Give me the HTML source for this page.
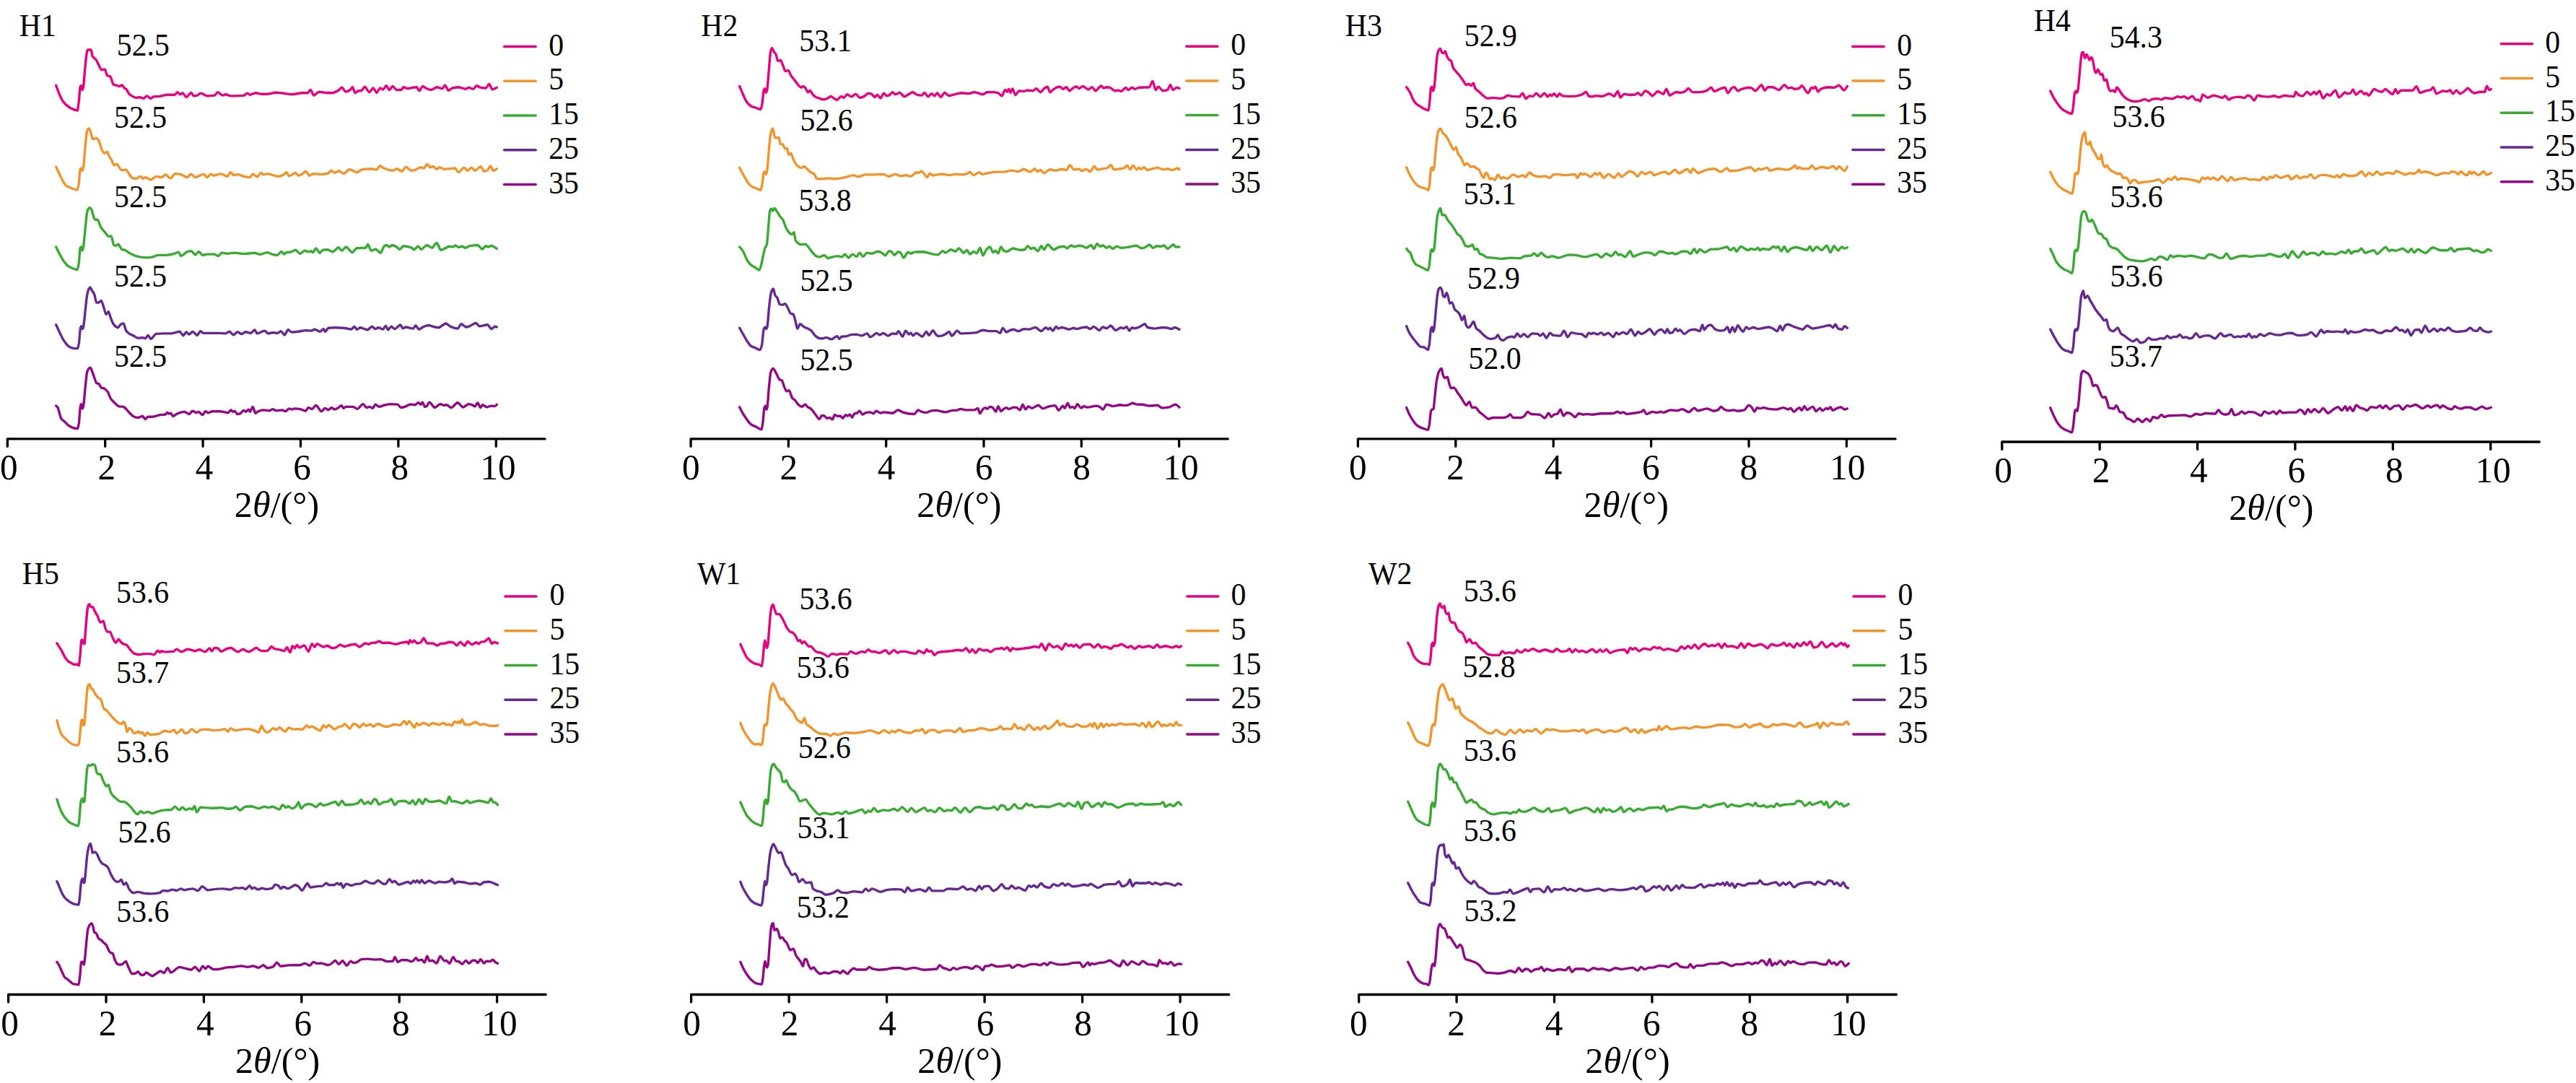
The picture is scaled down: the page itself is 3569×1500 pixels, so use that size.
<!DOCTYPE html>
<html><head><meta charset="utf-8"><title>XRD patterns</title>
<style>html,body{margin:0;padding:0;background:#fff}svg{display:block}text{font-family:"Liberation Serif",serif;fill:#000}.c{fill:none;stroke-linejoin:round;stroke-linecap:round;stroke-width:3.4}.a{fill:none;stroke:#000;stroke-width:3.3;stroke-linecap:round;stroke-linejoin:round}.l{stroke-width:3.5;stroke-linecap:round}.s{font-size:44px}.t{font-size:51px}</style></head><body>
<svg width="3569" height="1500" viewBox="0 0 3569 1500">
<rect width="3569" height="1500" fill="#fff"/>
<g id="H1">
<path class="a" d="M10.3 618.3V607.9H755.0M145.7 607.9v10.4M281.1 607.9v10.4M416.5 607.9v10.4M551.9 607.9v10.4M687.3 607.9v10.4"/>
<text class="t" transform="translate(12.3 664.1) scale(0.965 1)" text-anchor="middle">0</text>
<text class="t" transform="translate(147.7 664.1) scale(0.965 1)" text-anchor="middle">2</text>
<text class="t" transform="translate(283.1 664.1) scale(0.965 1)" text-anchor="middle">4</text>
<text class="t" transform="translate(418.5 664.1) scale(0.965 1)" text-anchor="middle">6</text>
<text class="t" transform="translate(553.9 664.1) scale(0.965 1)" text-anchor="middle">8</text>
<text class="t" transform="translate(690.0 664.1) scale(0.965 1)" text-anchor="middle">10</text>
<text class="t" transform="translate(383.5 716.2) scale(0.985 1)" text-anchor="middle">2<tspan font-style="italic">θ</tspan>/(°)</text>
<text class="s" transform="translate(26.8 50.0) scale(0.95 1)">H1</text>
<path class="l" d="M698.6 64.6H742.2" stroke="#E4007F"/>
<text class="s" transform="translate(760.2 76.7) scale(0.95 1)">0</text>
<path class="l" d="M698.6 112.3H742.2" stroke="#F0942C"/>
<text class="s" transform="translate(760.2 124.4) scale(0.95 1)">5</text>
<path class="l" d="M698.6 160.0H742.2" stroke="#3AAA35"/>
<text class="s" transform="translate(760.2 172.1) scale(0.95 1)">15</text>
<path class="l" d="M698.6 207.8H742.2" stroke="#65298F"/>
<text class="s" transform="translate(760.2 219.9) scale(0.95 1)">25</text>
<path class="l" d="M698.6 255.5H742.2" stroke="#920783"/>
<text class="s" transform="translate(760.2 267.6) scale(0.95 1)">35</text>
<path class="c" d="M77.7 118.2C78.9 121.7 80.2 125.1 81.4 128.3C82.7 131.4 84.0 134.6 85.2 137.1C86.9 140.2 88.6 142.0 90.3 144.0C92.8 146.6 95.3 148.2 97.8 149.8C101.0 151.5 104.2 152.8 107.4 153.0C108.0 152.2 108.6 145.7 109.2 140.9C109.9 135.0 110.5 122.9 111.2 120.2C111.6 119.3 112.1 118.8 112.5 118.7C113.0 119.1 113.5 124.1 114.0 124.5C114.5 124.2 115.0 122.8 115.5 120.2C116.2 115.7 116.9 105.1 117.5 98.0C118.4 89.5 119.2 79.4 120.1 74.1C120.6 71.1 121.2 69.4 121.8 69.0C123.3 69.0 124.7 69.0 126.1 69.0C126.8 69.6 127.5 76.2 128.1 77.8C129.0 79.4 129.8 79.5 130.7 80.4C131.5 81.2 132.3 81.8 133.2 82.9C134.4 84.8 135.7 88.1 137.0 90.5C138.2 92.7 139.5 96.4 140.7 96.8C142.3 96.7 143.8 96.1 145.3 96.0C146.3 96.6 147.3 103.2 148.3 104.3C149.8 105.4 151.3 105.1 152.9 106.1C154.3 107.7 155.7 115.5 157.1 117.0C158.4 117.7 159.7 117.8 160.9 118.2C162.6 118.7 164.3 119.4 166.0 119.5C167.0 119.4 168.0 117.8 169.0 117.7C170.1 118.0 171.2 121.0 172.3 122.0C173.1 122.7 174.0 122.5 174.8 123.3C176.1 124.7 177.3 127.9 178.6 129.6C180.3 131.5 182.0 132.3 183.6 133.4C185.3 134.3 187.0 135.2 188.7 135.4C190.4 135.3 192.1 134.7 193.7 134.6C195.4 134.7 197.1 136.3 198.8 136.4C200.3 136.2 201.8 133.1 203.3 132.9C205.2 133.1 207.0 136.2 208.9 136.4C210.1 136.2 211.4 134.2 212.7 133.9C215.6 133.6 218.5 133.7 221.5 133.4C224.9 132.9 228.2 131.5 231.6 131.3C234.9 131.3 238.3 131.3 241.7 131.3C243.2 131.1 244.7 128.0 246.2 127.8C247.2 128.0 248.2 130.6 249.2 130.8C250.5 130.7 251.8 129.0 253.0 128.8C254.7 129.2 256.4 134.2 258.1 134.6C260.3 134.2 262.6 128.7 264.9 128.3C266.0 128.6 267.1 132.6 268.2 132.9C269.9 132.8 271.5 132.6 273.2 132.1C274.9 131.5 276.6 129.3 278.3 129.1C281.2 129.3 284.2 132.6 287.1 132.9C290.5 132.8 293.8 132.6 297.2 132.1C298.7 131.6 300.2 128.1 301.7 127.8C304.0 128.1 306.3 131.8 308.5 132.1C309.8 132.0 311.1 130.9 312.3 130.8C314.9 131.0 317.4 132.7 319.9 132.9C325.8 132.8 331.7 132.7 337.6 132.4C339.2 132.1 340.9 129.3 342.6 129.1C343.9 129.2 345.1 131.2 346.4 131.3C348.9 131.2 351.4 129.0 354.0 128.8C356.9 128.9 359.9 130.2 362.8 130.3C365.3 130.3 367.8 130.3 370.4 130.3C374.1 130.2 377.9 128.4 381.7 128.3C386.3 128.4 391.0 129.0 395.6 129.6C398.5 129.9 401.5 130.8 404.4 130.8C409.1 130.7 413.7 129.0 418.3 128.8C420.8 128.8 423.4 128.8 425.9 128.8C427.4 128.5 428.9 124.8 430.4 124.5C431.8 125.0 433.3 131.6 434.7 132.1C437.2 131.8 439.8 127.4 442.3 127.1C444.8 127.1 447.3 128.0 449.8 128.3C453.2 128.6 456.6 128.8 459.9 128.8C462.9 128.6 465.8 127.1 468.8 125.3C470.5 124.1 472.1 121.5 473.8 121.2C475.5 121.6 477.2 126.7 478.9 127.1C481.0 126.9 483.1 126.0 485.2 124.5C486.3 123.6 487.4 121.0 488.5 120.7C489.6 121.3 490.8 128.3 492.0 128.8C493.5 128.6 495.0 126.0 496.5 125.8C497.8 125.8 499.1 125.8 500.3 125.8C502.0 125.4 503.7 120.6 505.4 120.2C507.5 120.7 509.6 127.3 511.7 127.8C513.5 127.4 515.4 122.4 517.2 122.0C518.7 122.4 520.2 127.9 521.8 128.3C523.4 127.9 525.1 122.4 526.8 122.0C528.1 122.1 529.3 123.9 530.6 124.0C532.1 123.7 533.6 119.1 535.1 118.7C536.6 119.1 538.0 124.1 539.4 124.5C540.9 124.2 542.5 119.8 544.0 119.5C545.8 119.8 547.7 124.2 549.5 124.5C551.6 124.5 553.7 124.5 555.8 124.5C556.9 124.3 558.0 121.0 559.1 120.7C561.0 120.9 562.8 122.6 564.7 122.8C567.2 122.7 569.7 121.6 572.2 121.2C573.9 121.0 575.6 120.8 577.3 120.7C578.5 121.1 579.8 125.5 581.1 125.8C582.6 125.4 584.1 119.9 585.6 119.5C587.0 119.7 588.5 121.3 589.9 122.0C592.4 123.2 594.9 124.4 597.5 124.5C600.0 124.3 602.5 121.0 605.0 120.7C607.6 120.9 610.1 122.6 612.6 122.8C613.9 122.5 615.1 118.5 616.4 118.2C618.1 118.7 619.8 124.8 621.4 125.3C623.1 125.1 624.8 122.6 626.5 122.0C629.4 121.2 632.4 120.8 635.3 120.7C638.7 120.9 642.0 123.1 645.4 123.3C646.7 123.1 647.9 121.4 649.2 121.2C651.3 121.4 653.4 123.1 655.5 123.3C657.2 123.0 658.9 119.0 660.5 118.7C662.2 118.9 663.9 120.8 665.6 121.2C668.1 121.7 670.6 122.0 673.2 122.0C674.7 121.6 676.2 116.8 677.7 116.5C679.1 116.9 680.6 123.3 682.0 123.8C684.1 123.6 686.2 122.4 688.3 121.2" stroke="#E4007F"/>
<path class="c" d="M77.7 231.3C79.3 234.8 81.0 238.4 82.7 241.9C84.4 245.3 86.1 249.1 87.8 252.0C89.0 253.9 90.3 255.7 91.5 257.0C93.6 258.8 95.7 259.1 97.8 260.0C100.8 261.2 103.7 262.9 106.7 263.1C107.5 262.5 108.4 259.6 109.2 254.5C109.9 249.5 110.5 236.7 111.2 234.3C111.6 233.5 112.1 233.1 112.5 233.0C113.0 233.3 113.5 236.1 114.0 236.3C114.5 236.0 115.0 234.5 115.5 231.8C116.4 225.9 117.2 212.6 118.0 204.0C118.9 195.8 119.7 184.6 120.6 181.3C121.4 179.3 122.2 178.2 123.1 178.0C123.8 178.2 124.4 179.9 125.1 181.3C126.3 184.1 127.5 191.9 128.6 192.7C130.1 192.6 131.7 191.5 133.2 191.4C134.4 191.6 135.7 192.9 137.0 195.2C138.2 198.0 139.5 203.5 140.7 206.5C142.0 209.2 143.3 212.0 144.5 212.3C145.8 212.2 147.1 210.5 148.3 210.3C149.6 210.8 150.8 215.7 152.1 217.9C152.9 219.3 153.8 220.2 154.6 221.7C155.7 223.7 156.8 228.3 157.9 228.7C159.1 228.6 160.3 227.3 161.4 227.2C163.8 227.8 166.1 235.0 168.5 235.6C170.6 235.5 172.7 235.1 174.8 235.1C176.1 235.4 177.3 238.8 178.6 240.6C180.1 242.7 181.6 245.6 183.1 246.4C185.0 247.0 186.8 247.3 188.7 247.4C190.8 247.2 192.9 244.6 195.0 244.4C196.1 244.6 197.2 247.2 198.3 247.4C199.3 247.3 200.3 245.8 201.3 245.6C203.8 245.9 206.4 248.7 208.9 248.9C211.4 248.6 213.9 244.7 216.4 244.4C219.0 244.5 221.5 245.6 224.0 245.6C225.7 245.4 227.4 242.1 229.1 241.9C231.6 242.2 234.1 246.6 236.6 246.9C238.5 246.5 240.3 241.0 242.2 240.6C244.5 240.6 246.9 240.8 249.2 241.1C252.6 241.8 256.0 245.3 259.3 245.6C261.0 245.3 262.7 241.4 264.4 241.1C266.5 241.4 268.6 245.3 270.7 245.6C274.5 245.3 278.3 241.4 282.0 241.1C283.7 241.4 285.4 245.3 287.1 245.6C288.8 245.3 290.5 241.4 292.1 241.1C293.4 241.2 294.7 243.0 295.9 243.1C299.3 243.0 302.7 240.8 306.0 240.6C309.0 240.9 311.9 244.1 314.9 244.4C316.4 244.0 317.9 239.0 319.4 238.6C320.8 238.9 322.3 242.4 323.7 242.6C325.8 242.5 327.9 241.4 330.0 241.4C332.5 241.6 335.0 243.6 337.6 244.4C340.5 245.1 343.4 245.6 346.4 245.6C347.7 245.3 348.9 241.4 350.2 241.1C352.3 241.4 354.4 244.6 356.5 244.9C358.2 244.5 359.9 239.7 361.5 239.3C362.8 239.5 364.1 241.7 365.3 241.9C367.0 241.8 368.7 240.7 370.4 240.6C375.4 240.9 380.5 244.1 385.5 244.4C388.0 244.2 390.6 243.4 393.1 241.9C394.3 241.0 395.6 238.8 396.9 238.6C398.1 238.9 399.4 243.5 400.6 243.9C403.6 243.6 406.5 239.6 409.5 239.3C410.7 239.6 412.0 242.9 413.3 243.1C414.9 243.0 416.6 242.2 418.3 241.4C420.2 240.3 422.0 237.6 423.9 237.3C425.4 237.7 426.9 242.7 428.4 243.1C430.1 243.0 431.8 240.8 433.4 240.6C437.7 240.7 441.9 241.3 446.1 241.4C449.0 241.3 452.0 240.8 454.9 239.8C456.2 239.3 457.4 236.5 458.7 236.3C460.4 236.5 462.0 239.1 463.7 239.3C465.8 239.2 467.9 237.0 470.0 236.8C472.1 237.1 474.2 240.3 476.3 240.6C478.9 240.2 481.4 235.2 483.9 234.8C485.6 234.9 487.3 235.7 489.0 236.3C490.6 237.0 492.3 238.7 494.0 238.8C496.5 238.6 499.1 235.4 501.6 234.8C505.8 234.2 510.0 233.9 514.2 233.8C516.7 233.9 519.2 235.0 521.8 235.1C523.3 234.7 524.8 230.1 526.3 229.8C528.2 230.0 530.0 232.1 531.9 233.0C536.1 234.9 540.3 236.1 544.5 236.3C546.2 236.1 547.8 234.0 549.5 233.8C552.0 234.0 554.6 237.1 557.1 237.3C558.8 236.9 560.5 231.7 562.1 231.3C564.7 231.6 567.2 236.0 569.7 236.3C571.4 236.3 573.1 236.0 574.8 235.6C577.3 234.7 579.8 232.0 582.3 231.8C584.0 231.9 585.7 232.9 587.4 233.0C588.8 232.7 590.2 227.9 591.7 227.5C593.2 227.8 594.7 231.5 596.2 231.8C597.5 231.7 598.7 230.6 600.0 230.5C601.7 230.8 603.3 234.0 605.0 234.3C606.3 234.1 607.6 231.9 608.8 231.8C610.9 231.9 613.0 234.1 615.1 234.3C620.2 234.2 625.2 233.1 630.3 233.0C631.9 233.4 633.6 238.2 635.3 238.6C637.8 238.2 640.4 232.7 642.9 232.3C644.6 232.5 646.2 236.0 647.9 236.3C649.6 236.0 651.3 232.5 653.0 232.3C654.7 232.5 656.3 236.0 658.0 236.3C660.7 235.9 663.4 230.9 666.1 230.5C667.6 231.0 669.1 236.9 670.6 237.3C672.3 237.2 674.0 236.6 675.7 235.6C676.9 234.5 678.2 230.1 679.5 229.8C680.7 230.2 682.0 235.9 683.3 236.3C684.9 236.1 686.6 235.0 688.3 233.8" stroke="#F0942C"/>
<path class="c" d="M77.7 342.0C79.3 345.5 81.0 348.9 82.7 352.1C84.4 355.2 86.1 358.3 87.8 360.9C89.4 363.4 91.1 365.5 92.8 367.2C94.9 369.1 97.0 370.0 99.1 371.0C101.6 372.2 104.2 373.4 106.7 373.5C107.5 373.0 108.4 370.0 109.2 364.7C109.9 359.5 110.5 345.8 111.2 343.3C111.6 342.5 112.1 342.1 112.5 342.0C113.0 342.3 113.5 346.7 114.0 347.1C114.5 346.7 115.0 344.6 115.5 342.0C116.4 336.6 117.2 326.0 118.0 318.0C118.9 310.0 119.7 299.0 120.6 294.1C121.2 291.0 121.9 290.1 122.6 289.0C123.2 288.3 123.8 287.8 124.3 287.8C125.2 287.9 126.0 288.8 126.9 290.3C128.0 292.8 129.1 299.0 130.1 301.6C130.7 302.8 131.3 304.0 131.9 304.2C133.0 304.2 134.1 304.2 135.2 304.2C136.6 304.8 138.1 311.5 139.5 314.3C141.2 317.2 142.8 318.5 144.5 320.6C146.6 323.0 148.7 327.2 150.8 327.6C151.8 327.6 152.9 326.9 153.9 326.9C155.2 327.7 156.6 338.1 157.9 339.5C158.9 339.9 159.9 340.2 160.9 340.2C161.9 340.1 163.0 338.4 164.0 338.2C165.5 338.7 167.0 344.2 168.5 345.3C170.2 346.0 171.9 345.9 173.5 346.5C175.7 347.6 177.8 349.6 179.9 350.8C182.0 352.0 184.1 353.0 186.2 353.9C188.7 354.8 191.2 355.4 193.7 355.9C197.1 356.5 200.5 356.8 203.8 356.9C206.4 356.8 208.9 356.4 211.4 355.9C213.9 355.2 216.4 353.5 219.0 353.4C222.3 353.4 225.7 353.4 229.1 353.4C233.3 353.2 237.5 352.6 241.7 351.3C243.5 350.7 245.4 349.2 247.2 349.1C248.3 349.4 249.4 354.3 250.5 354.6C253.5 354.2 256.4 350.1 259.3 348.8C261.2 348.2 263.0 347.6 264.9 347.6C266.8 347.9 268.8 352.5 270.7 352.9C272.2 352.6 273.7 348.6 275.2 348.3C277.1 348.7 278.9 353.0 280.8 353.4C282.9 353.3 285.0 352.2 287.1 352.1C290.5 352.1 293.8 352.1 297.2 352.1C298.9 352.3 300.6 354.5 302.2 354.6C303.9 354.3 305.6 350.4 307.3 350.1C309.8 350.2 312.3 351.3 314.9 351.3C318.2 351.3 321.6 350.2 324.9 350.1C329.2 350.2 333.4 351.5 337.6 351.6C342.6 351.5 347.7 350.4 352.7 350.3C355.2 350.5 357.7 352.2 360.3 352.4C363.6 352.2 367.0 349.8 370.4 349.6C372.5 349.7 374.6 351.4 376.7 352.1C379.2 352.8 381.7 353.3 384.2 353.4C386.2 353.0 388.1 348.7 390.0 348.3C391.2 348.6 392.4 351.8 393.6 352.1C394.7 351.9 395.8 350.0 396.9 349.6C399.0 349.1 401.1 349.3 403.2 348.8C405.3 348.2 407.4 346.5 409.5 346.3C411.6 346.6 413.7 351.0 415.8 351.3C417.9 351.1 420.0 347.3 422.1 347.1C423.8 347.2 425.5 348.7 427.1 348.8C428.4 348.8 429.7 347.9 430.9 347.8C431.8 347.9 432.6 349.7 433.4 349.8C434.9 349.4 436.3 344.2 437.7 343.8C439.5 344.2 441.3 349.9 443.0 350.3C444.5 350.1 445.9 346.7 447.3 346.3C449.4 346.0 451.5 345.8 453.6 345.8C456.2 346.0 458.7 348.6 461.2 348.8C463.7 348.4 466.2 343.2 468.8 342.8C470.5 343.0 472.1 346.8 473.8 347.1C475.7 346.7 477.5 342.3 479.4 342.0C482.3 342.5 485.3 349.1 488.2 349.6C490.1 349.2 492.1 344.3 494.0 343.8C498.2 343.5 502.4 343.6 506.6 343.3C507.6 342.9 508.6 339.0 509.7 338.7C511.2 339.3 512.7 346.5 514.2 347.1C516.3 346.9 518.4 345.4 520.5 345.3C522.8 345.6 525.0 350.0 527.3 350.3C529.0 349.7 530.7 342.4 532.4 340.7C533.5 340.0 534.5 339.6 535.6 339.5C536.9 339.7 538.2 341.8 539.4 342.0C540.7 341.8 541.9 339.7 543.2 339.5C545.3 339.7 547.4 340.8 549.5 342.0C550.9 342.9 552.4 345.1 553.8 345.3C555.6 345.0 557.3 341.0 559.1 340.7C562.6 340.9 566.2 341.6 569.7 342.8C571.0 343.4 572.2 345.6 573.5 345.8C575.4 345.5 577.4 341.6 579.3 341.2C580.7 341.5 582.2 345.0 583.6 345.3C586.3 344.9 589.0 339.9 591.7 339.5C594.0 339.7 596.4 343.0 598.7 343.3C600.8 342.8 602.9 336.9 605.0 336.5C607.0 337.1 608.9 345.6 610.8 346.3C614.8 346.0 618.7 341.6 622.7 341.2C624.4 341.3 626.1 342.0 627.7 342.0C628.8 341.9 629.8 340.1 630.8 340.0C632.3 340.2 633.8 342.3 635.3 342.5C637.0 342.4 638.7 341.3 640.4 341.2C641.9 341.4 643.4 343.1 644.9 343.3C646.7 343.1 648.6 341.2 650.5 340.7C654.2 340.0 658.0 339.6 661.8 339.5C663.9 339.9 666.0 344.7 668.1 345.0C669.8 344.7 671.5 341.0 673.2 340.7C674.4 340.8 675.7 341.9 676.9 342.0C678.2 341.9 679.5 340.4 680.7 340.2C682.0 340.4 683.3 341.3 684.5 342.0C685.8 342.7 687.0 343.6 688.3 344.5" stroke="#3AAA35"/>
<path class="c" d="M77.7 449.8C79.3 453.4 81.0 457.1 82.7 460.6C84.4 464.1 86.1 467.8 87.8 470.7C89.4 473.4 91.1 475.6 92.8 477.5C94.5 479.2 96.2 480.4 97.8 481.3C99.5 482.0 101.2 482.5 102.9 482.6C104.4 482.6 105.9 482.6 107.4 482.6C108.1 482.0 108.8 478.8 109.5 474.5C110.1 469.4 110.8 457.8 111.5 454.3C111.9 452.8 112.3 451.9 112.7 451.8C113.2 452.0 113.7 455.3 114.3 455.6C114.8 455.3 115.3 454.0 115.8 451.8C116.5 447.4 117.3 438.3 118.0 431.6C118.9 424.1 119.7 414.6 120.6 408.9C121.4 404.1 122.2 402.1 123.1 400.0C123.7 398.9 124.3 398.2 124.8 398.0C125.8 398.3 126.7 401.0 127.6 402.6C128.6 404.2 129.6 405.1 130.7 407.6C131.7 410.6 132.7 418.2 133.7 419.0C134.8 419.0 135.9 419.0 137.0 419.0C138.1 418.8 139.1 416.6 140.2 416.4C141.2 416.9 142.3 421.3 143.3 424.0C144.5 427.5 145.8 434.6 147.1 435.4C148.1 435.1 149.2 431.8 150.3 431.6C151.3 432.2 152.4 437.7 153.4 440.4C154.6 443.6 155.9 446.6 157.1 448.7C159.2 451.8 161.4 453.5 163.5 453.8C164.7 453.5 166.0 450.2 167.2 449.2C168.5 448.5 169.8 448.1 171.0 448.0C172.3 448.7 173.5 455.6 174.8 458.1C176.5 460.8 178.2 461.4 179.9 462.6C181.5 463.7 183.2 464.1 184.9 464.9C187.0 465.9 189.1 468.0 191.2 468.2C193.3 468.1 195.4 467.7 197.5 467.7C198.8 467.7 200.0 468.6 201.3 468.7C202.6 468.4 203.8 464.7 205.1 464.4C206.4 464.7 207.6 469.1 208.9 469.4C211.4 469.0 213.9 463.0 216.4 462.4C219.8 462.1 223.2 461.9 226.5 461.9C229.9 461.9 233.3 461.9 236.6 461.9C240.8 461.7 245.0 459.5 249.2 459.3C250.8 459.7 252.3 464.5 253.8 464.9C255.2 464.6 256.6 460.2 258.1 459.8C259.3 460.1 260.6 462.9 261.9 463.1C263.5 462.9 265.2 459.6 266.9 459.3C267.8 459.5 268.6 460.5 269.4 461.1C270.7 462.1 272.0 464.2 273.2 464.4C274.6 464.0 276.1 459.2 277.5 458.8C279.0 459.0 280.5 461.2 282.0 461.4C288.8 461.4 295.5 461.4 302.2 461.4C305.6 461.4 309.0 461.8 312.3 461.9C314.2 461.7 316.0 459.5 317.9 459.3C319.8 459.6 321.7 463.6 323.7 463.9C325.4 463.6 327.0 460.1 328.7 459.8C330.8 460.0 332.9 462.4 335.0 462.6C336.7 462.4 338.4 460.0 340.1 459.8C342.6 459.9 345.1 461.3 347.7 461.4C349.3 461.1 351.0 457.1 352.7 456.8C354.0 457.2 355.2 461.5 356.5 461.9C359.9 461.6 363.2 458.3 366.6 458.1C368.3 458.3 369.9 461.6 371.6 461.9C373.7 461.8 375.8 460.7 377.9 460.6C380.0 460.7 382.1 461.3 384.2 461.4C385.9 461.2 387.6 459.0 389.3 458.8C391.0 459.2 392.7 463.5 394.3 463.9C395.9 463.4 397.4 457.3 398.9 456.8C400.7 457.0 402.6 459.9 404.4 460.1C407.4 460.0 410.3 459.7 413.3 459.3C416.6 458.9 420.0 457.7 423.4 457.6C425.9 457.6 428.4 458.0 430.9 458.1C432.6 458.0 434.3 456.4 436.0 456.3C438.5 456.5 441.0 459.1 443.5 459.3C445.1 459.1 446.6 455.8 448.1 455.6C448.9 455.8 449.8 459.1 450.6 459.3C452.0 459.0 453.5 454.8 454.9 454.3C457.8 454.0 460.8 453.8 463.7 453.8C467.9 453.8 472.1 454.0 476.3 454.3C479.7 454.6 483.1 455.9 486.4 456.1C488.0 455.8 489.5 452.8 491.0 452.5C492.2 452.8 493.3 456.1 494.5 456.3C496.0 456.1 497.5 454.0 499.1 453.8C502.4 454.0 505.8 456.6 509.1 456.8C511.2 456.5 513.4 452.6 515.5 452.3C516.9 452.5 518.3 455.3 519.7 455.6C521.3 455.4 522.8 453.9 524.3 453.8C526.4 453.9 528.5 455.9 530.6 456.1C531.9 455.7 533.1 451.6 534.4 451.3C535.5 451.6 536.6 456.4 537.7 456.8C539.1 456.5 540.5 452.6 541.9 452.3C543.6 452.5 545.3 455.3 547.0 455.6C549.5 455.2 552.0 450.4 554.6 450.0C555.8 450.3 557.1 454.5 558.4 454.8C559.6 454.7 560.9 453.1 562.1 453.0C565.5 453.2 568.9 454.9 572.2 455.1C573.5 454.8 574.8 451.3 576.0 451.0C577.4 451.3 578.9 455.7 580.3 456.1C582.7 455.8 585.0 453.3 587.4 452.3C589.5 451.5 591.6 450.6 593.7 450.5C596.6 450.7 599.6 452.4 602.5 453.0C604.2 453.4 605.9 453.7 607.6 453.8C610.9 453.4 614.3 448.4 617.6 448.0C619.8 448.3 621.9 451.1 624.0 452.3C627.3 453.9 630.7 454.9 634.0 455.1C635.7 454.6 637.4 449.2 639.1 448.7C641.2 449.0 643.3 452.7 645.4 453.0C647.1 452.9 648.8 452.3 650.5 451.8C653.4 450.7 656.3 447.8 659.3 447.5C661.0 447.8 662.6 451.5 664.3 451.8C668.1 451.6 671.9 449.9 675.7 449.8C677.4 450.1 679.0 455.2 680.7 455.6C682.4 455.3 684.1 452.5 685.8 452.3C686.6 452.3 687.5 452.7 688.3 453.0" stroke="#65298F"/>
<path class="c" d="M77.7 562.1C78.5 562.6 79.3 563.1 80.2 564.6C81.0 566.6 81.9 570.7 82.7 573.5C83.4 575.6 84.1 578.4 84.7 579.8C86.2 582.0 87.6 582.2 89.0 583.5C90.7 585.1 92.4 587.2 94.1 588.6C96.2 590.2 98.3 591.5 100.4 592.4C102.7 593.1 105.1 593.6 107.4 593.6C108.1 593.1 108.8 589.6 109.5 584.8C110.1 579.1 110.8 565.8 111.5 562.1C111.9 560.6 112.3 559.7 112.7 559.6C113.2 560.0 113.7 565.5 114.3 565.9C114.8 565.5 115.3 563.6 115.8 560.8C116.5 555.7 117.3 545.4 118.0 538.1C118.9 530.2 119.7 519.6 120.6 515.4C121.4 512.4 122.2 511.5 123.1 510.4C123.8 509.6 124.4 509.2 125.1 509.1C125.9 509.4 126.8 512.2 127.6 514.2C128.6 516.7 129.6 520.2 130.7 523.0C131.7 525.7 132.7 529.4 133.7 530.6C134.8 531.3 135.9 531.1 137.0 531.8C138.1 532.8 139.1 536.0 140.2 536.9C141.7 537.6 143.1 537.4 144.5 538.1C146.2 539.3 147.9 540.5 149.6 543.2C150.8 545.5 152.1 549.7 153.4 552.0C154.6 554.0 155.9 555.0 157.1 556.3C159.7 558.8 162.2 562.1 164.7 562.9C166.8 563.2 168.9 563.1 171.0 563.4C173.5 564.2 176.1 568.5 178.6 570.9C180.7 572.9 182.8 575.4 184.9 576.7C187.0 577.8 189.1 578.4 191.2 578.5C193.3 578.4 195.4 576.6 197.5 576.5C198.8 576.8 200.0 580.3 201.3 580.5C202.6 580.3 203.8 577.5 205.1 577.2C207.2 577.2 209.3 577.2 211.4 577.2C214.8 577.1 218.1 575.3 221.5 574.7C224.0 574.3 226.5 574.4 229.1 574.0C229.9 573.7 230.7 571.6 231.6 571.4C232.4 571.5 233.3 572.8 234.1 573.0C234.9 572.9 235.8 572.2 236.6 572.2C237.6 572.5 238.6 576.2 239.7 576.5C241.6 576.2 243.5 573.9 245.5 573.0C248.8 571.5 252.2 570.6 255.6 570.4C257.7 570.6 259.8 573.3 261.9 573.5C263.5 573.2 265.2 569.5 266.9 569.2C268.6 569.3 270.3 571.5 272.0 571.7C273.0 571.6 274.1 570.5 275.2 570.4C277.1 570.7 278.9 574.4 280.8 574.7C282.0 574.4 283.3 570.0 284.6 569.7C285.8 569.8 287.1 571.6 288.4 571.7C290.5 571.6 292.6 569.8 294.7 569.7C298.0 569.7 301.4 569.7 304.8 569.7C308.5 569.8 312.3 571.6 316.1 571.7C317.4 571.4 318.6 568.2 319.9 567.9C320.7 568.1 321.6 570.0 322.4 570.2C323.3 570.1 324.1 569.2 324.9 569.2C326.2 569.5 327.5 573.2 328.7 573.5C330.0 573.4 331.3 573.3 332.5 573.0C334.2 572.3 335.9 568.7 337.6 568.4C338.6 568.5 339.6 570.1 340.6 570.2C341.9 570.0 343.1 567.3 344.4 567.1C345.0 567.3 345.7 570.0 346.4 570.2C347.7 569.7 348.9 563.8 350.2 563.4C351.4 564.0 352.7 571.6 354.0 572.2C355.2 572.0 356.5 570.3 357.7 569.7C360.3 568.6 362.8 568.0 365.3 567.9C367.8 568.0 370.4 568.8 372.9 568.9C374.6 568.8 376.3 566.8 377.9 566.6C379.6 566.8 381.3 568.8 383.0 568.9C385.5 568.8 388.0 568.0 390.6 567.9C392.2 568.0 393.9 569.6 395.6 569.7C397.3 569.4 399.0 566.1 400.6 565.9C401.9 566.0 403.2 567.1 404.4 567.1C405.7 567.1 407.0 566.0 408.2 565.9C410.7 565.9 413.3 566.2 415.8 566.6C418.3 567.2 420.8 569.0 423.4 569.2C424.6 568.9 425.9 564.9 427.1 564.6C428.8 564.8 430.5 566.5 432.2 566.6C434.0 566.3 435.9 561.7 437.7 561.3C440.3 561.9 442.8 569.1 445.3 569.7C447.0 569.4 448.7 565.7 450.4 565.4C451.9 565.5 453.4 567.5 454.9 567.7C456.4 567.4 457.9 564.8 459.4 564.6C460.9 564.8 462.3 567.0 463.7 567.1C465.4 567.0 467.1 565.6 468.8 564.6C470.3 563.7 471.8 561.8 473.3 561.6C474.2 561.8 475.0 565.1 475.8 565.4C476.8 565.2 477.9 563.5 478.9 563.4C482.2 563.4 485.6 563.4 489.0 563.4C491.1 563.6 493.2 566.2 495.3 566.4C497.8 565.9 500.3 560.0 502.8 559.6C504.5 559.9 506.2 564.3 507.9 564.6C509.1 564.5 510.4 563.4 511.7 563.4C513.2 563.5 514.7 565.2 516.2 565.4C517.5 565.0 518.7 560.7 520.0 560.3C521.8 560.5 523.7 563.2 525.5 563.4C527.7 563.2 529.8 561.9 531.9 561.3C534.8 560.6 537.7 559.7 540.7 559.6C544.1 559.6 547.4 559.8 550.8 560.1C552.5 560.5 554.1 564.3 555.8 564.6C557.5 564.5 559.2 563.9 560.9 563.4C563.4 562.5 565.9 560.3 568.4 560.1C570.5 560.1 572.6 560.8 574.8 560.8C576.4 560.6 578.1 557.8 579.8 557.6C580.8 557.7 581.8 560.1 582.8 560.3C583.7 560.1 584.5 557.3 585.3 557.1C586.4 557.5 587.5 562.9 588.6 563.4C589.5 563.3 590.3 563.1 591.2 562.6C592.4 561.6 593.7 557.4 594.9 557.1C597.5 557.6 600.0 564.1 602.5 564.6C605.0 564.3 607.6 559.9 610.1 559.6C611.8 559.7 613.4 561.2 615.1 561.3C616.4 561.3 617.6 560.9 618.9 560.8C621.0 561.1 623.1 564.4 625.2 564.6C628.2 564.2 631.1 558.3 634.0 557.8C636.6 558.2 639.1 563.7 641.6 564.1C644.1 563.8 646.7 559.9 649.2 559.6C650.9 559.7 652.6 560.2 654.2 560.8C655.5 561.4 656.8 562.7 658.0 562.9C659.3 562.5 660.5 558.1 661.8 557.8C663.1 558.3 664.3 564.2 665.6 564.6C666.6 564.4 667.6 561.1 668.6 560.8C670.6 561.0 672.5 563.7 674.4 563.9C676.5 563.7 678.6 562.2 680.7 562.1C682.4 562.1 684.1 562.6 685.8 562.6C686.6 562.5 687.5 561.4 688.3 560.3" stroke="#920783"/>
<text class="s" transform="translate(161.8 77.3) scale(0.95 1)">52.5</text>
<text class="s" transform="translate(158.0 177.1) scale(0.95 1)">52.5</text>
<text class="s" transform="translate(158.0 286.8) scale(0.95 1)">52.5</text>
<text class="s" transform="translate(158.0 397.1) scale(0.95 1)">52.5</text>
<text class="s" transform="translate(158.0 507.8) scale(0.95 1)">52.5</text>
</g>
<g id="H2">
<path class="a" d="M957.1 618.3V607.9H1701.2M1092.4 607.9v10.4M1227.7 607.9v10.4M1363.0 607.9v10.4M1498.3 607.9v10.4M1633.6 607.9v10.4"/>
<text class="t" transform="translate(957.4 664.1) scale(0.965 1)" text-anchor="middle">0</text>
<text class="t" transform="translate(1092.7 664.1) scale(0.965 1)" text-anchor="middle">2</text>
<text class="t" transform="translate(1228.0 664.1) scale(0.965 1)" text-anchor="middle">4</text>
<text class="t" transform="translate(1363.3 664.1) scale(0.965 1)" text-anchor="middle">6</text>
<text class="t" transform="translate(1498.6 664.1) scale(0.965 1)" text-anchor="middle">8</text>
<text class="t" transform="translate(1636.0 664.1) scale(0.965 1)" text-anchor="middle">10</text>
<text class="t" transform="translate(1328.9 716.2) scale(0.985 1)" text-anchor="middle">2<tspan font-style="italic">θ</tspan>/(°)</text>
<text class="s" transform="translate(971.3 50.0) scale(0.95 1)">H2</text>
<path class="l" d="M1643.8 64.2H1686.8" stroke="#E4007F"/>
<text class="s" transform="translate(1705.2 76.3) scale(0.95 1)">0</text>
<path class="l" d="M1643.8 111.9H1686.8" stroke="#F0942C"/>
<text class="s" transform="translate(1705.2 124.0) scale(0.95 1)">5</text>
<path class="l" d="M1643.8 159.6H1686.8" stroke="#3AAA35"/>
<text class="s" transform="translate(1705.2 171.7) scale(0.95 1)">15</text>
<path class="l" d="M1643.8 207.4H1686.8" stroke="#65298F"/>
<text class="s" transform="translate(1705.2 219.5) scale(0.95 1)">25</text>
<path class="l" d="M1643.8 255.1H1686.8" stroke="#920783"/>
<text class="s" transform="translate(1705.2 267.2) scale(0.95 1)">35</text>
<path class="c" d="M1024.7 119.5C1025.9 122.4 1027.2 125.4 1028.4 128.3C1029.7 131.3 1031.0 134.6 1032.2 137.1C1033.5 139.5 1034.8 141.3 1036.0 143.0C1037.7 144.9 1039.4 146.1 1041.1 147.2C1043.2 148.4 1045.3 148.6 1047.4 149.3C1049.5 150.0 1051.6 151.4 1053.7 151.5C1054.5 150.9 1055.4 147.2 1056.2 142.2C1056.9 137.5 1057.5 127.0 1058.2 124.5C1058.7 123.5 1059.2 122.9 1059.7 122.8C1060.2 123.1 1060.7 127.9 1061.3 128.3C1061.8 128.1 1062.3 126.8 1062.8 124.5C1063.5 119.9 1064.3 108.8 1065.0 100.6C1065.9 91.2 1066.7 76.8 1067.6 71.5C1068.2 68.5 1068.9 66.8 1069.6 66.5C1070.4 66.8 1071.3 70.1 1072.1 71.5C1073.1 73.1 1074.1 73.1 1075.1 75.3C1076.0 77.6 1076.8 83.6 1077.7 84.2C1078.9 84.1 1080.2 83.5 1081.4 83.4C1082.5 83.9 1083.6 88.1 1084.7 90.5C1085.9 93.1 1087.1 98.0 1088.2 98.5C1089.6 98.5 1090.9 97.6 1092.3 97.5C1093.5 98.0 1094.6 102.3 1095.8 104.3C1097.8 107.5 1099.7 109.4 1101.6 111.9C1103.3 114.2 1105.0 116.9 1106.7 118.7C1107.8 119.8 1108.9 121.1 1110.0 121.2C1111.0 121.1 1112.0 119.6 1113.0 119.5C1114.0 119.7 1115.0 120.8 1116.0 122.0C1117.1 123.5 1118.2 127.4 1119.3 127.8C1120.3 127.6 1121.3 125.5 1122.3 125.3C1123.4 125.6 1124.5 128.9 1125.6 130.3C1126.9 131.8 1128.1 132.9 1129.4 133.9C1131.5 135.3 1133.6 135.7 1135.7 136.4C1137.4 136.9 1139.1 137.6 1140.7 137.7C1142.4 137.6 1144.1 137.2 1145.8 136.6C1147.6 135.9 1149.5 133.6 1151.3 133.4C1152.8 133.6 1154.4 135.7 1155.9 136.6C1157.1 137.3 1158.4 138.3 1159.7 138.4C1161.6 138.1 1163.5 133.7 1165.5 133.4C1166.6 133.5 1167.8 135.2 1169.0 135.4C1170.5 135.1 1172.0 131.1 1173.5 130.8C1175.6 131.0 1177.7 133.7 1179.8 133.9C1181.8 133.6 1183.7 130.3 1185.6 130.1C1187.5 130.4 1189.3 135.0 1191.2 135.4C1193.3 135.2 1195.4 134.4 1197.5 133.4C1199.4 132.2 1201.4 129.4 1203.3 129.1C1204.7 129.2 1206.2 129.6 1207.6 130.3C1209.0 131.3 1210.5 134.3 1211.9 134.6C1213.0 134.4 1214.1 131.6 1215.2 131.3C1216.9 131.6 1218.5 135.6 1220.2 135.9C1221.6 135.4 1223.1 129.5 1224.5 129.1C1225.9 129.3 1227.2 132.6 1228.5 132.9C1230.0 132.8 1231.4 132.2 1232.8 131.3C1234.1 130.4 1235.4 127.8 1236.6 127.6C1237.9 127.8 1239.1 130.6 1240.4 130.8C1242.5 130.7 1244.6 128.5 1246.7 128.3C1248.8 128.7 1250.9 133.5 1253.0 133.9C1255.1 133.6 1257.2 131.5 1259.3 130.3C1261.0 129.5 1262.7 128.0 1264.4 127.8C1266.5 128.0 1268.6 130.7 1270.7 131.3C1272.8 131.8 1274.9 132.0 1277.0 132.1C1278.3 131.8 1279.5 128.6 1280.8 128.3C1282.5 128.7 1284.1 133.5 1285.8 133.9C1287.5 133.6 1289.2 129.9 1290.9 129.6C1292.1 129.8 1293.4 132.6 1294.7 132.9C1295.9 132.6 1297.2 129.1 1298.4 128.8C1300.1 129.2 1301.8 134.2 1303.5 134.6C1305.2 134.2 1306.9 128.7 1308.5 128.3C1310.6 128.6 1312.7 132.3 1314.8 132.6C1318.2 132.4 1321.6 130.8 1324.9 130.1C1327.5 129.6 1330.0 128.9 1332.5 128.8C1335.9 128.9 1339.2 129.5 1342.6 129.6C1345.1 129.4 1347.6 127.7 1350.2 127.6C1354.0 127.8 1357.7 130.6 1361.5 130.8C1363.6 130.6 1365.7 128.1 1367.8 127.8C1370.4 127.7 1372.9 127.6 1375.4 127.6C1377.9 127.6 1380.4 128.1 1383.0 128.8C1384.7 129.5 1386.3 132.6 1388.0 132.9C1389.5 132.3 1391.0 125.1 1392.6 124.5C1393.6 124.7 1394.6 126.9 1395.6 127.1C1396.3 126.8 1396.9 123.5 1397.6 123.3C1398.4 123.6 1399.3 128.0 1400.1 128.3C1401.0 127.9 1401.8 123.1 1402.7 122.8C1404.1 123.4 1405.5 131.0 1406.9 131.6C1408.6 131.2 1410.3 126.2 1412.0 125.8C1414.1 125.8 1416.2 126.5 1418.3 126.5C1420.0 126.4 1421.7 125.1 1423.3 125.0C1425.9 125.1 1428.4 125.7 1430.9 125.8C1432.6 125.6 1434.3 123.0 1436.0 122.8C1437.8 123.1 1439.7 127.5 1441.5 127.8C1443.4 127.4 1445.4 123.4 1447.3 122.0C1448.6 121.2 1449.8 120.4 1451.1 120.2C1452.4 120.7 1453.6 127.3 1454.9 127.8C1456.1 127.6 1457.4 125.5 1458.7 124.5C1460.4 123.3 1462.0 122.0 1463.7 121.2C1465.4 120.6 1467.1 120.3 1468.8 120.2C1470.0 120.4 1471.3 123.1 1472.5 123.3C1474.2 123.1 1475.9 120.9 1477.6 120.7C1478.9 121.1 1480.1 125.5 1481.4 125.8C1483.5 125.5 1485.6 122.4 1487.7 121.2C1488.9 120.7 1490.2 120.1 1491.5 120.0C1492.7 120.2 1494.0 122.3 1495.3 122.5C1496.9 122.3 1498.6 119.7 1500.3 119.5C1502.8 119.8 1505.4 123.7 1507.9 124.0C1509.6 123.8 1511.2 121.0 1512.9 120.7C1514.6 121.1 1516.3 125.5 1518.0 125.8C1520.5 125.3 1523.0 119.4 1525.5 119.0C1526.8 119.2 1528.1 121.8 1529.3 122.0C1530.6 121.9 1531.8 120.8 1533.1 120.7C1534.8 120.8 1536.5 121.0 1538.2 121.5C1540.3 122.3 1542.4 125.5 1544.5 125.8C1546.1 125.7 1547.8 125.1 1549.5 125.0C1550.8 125.1 1552.0 126.4 1553.3 126.5C1555.4 126.2 1557.5 121.8 1559.6 121.5C1560.9 121.7 1562.1 124.3 1563.4 124.5C1565.1 124.3 1566.8 121.5 1568.4 121.2C1569.7 121.4 1571.0 123.1 1572.2 123.3C1574.3 123.1 1576.4 121.5 1578.5 121.2C1583.2 120.9 1587.8 121.0 1592.4 120.7C1593.9 120.1 1595.4 113.0 1596.9 112.4C1598.4 113.2 1599.8 123.7 1601.2 124.5C1602.5 124.2 1603.8 120.5 1605.0 120.2C1607.1 120.6 1609.2 125.4 1611.3 125.8C1613.4 125.7 1615.5 125.3 1617.6 124.5C1618.9 123.7 1620.2 118.2 1621.4 117.7C1622.7 118.2 1623.9 124.1 1625.2 124.5C1626.9 124.3 1628.6 121.5 1630.3 121.2C1631.5 121.3 1632.8 121.9 1634.0 122.5" stroke="#E4007F"/>
<path class="c" d="M1024.7 232.3C1026.3 235.5 1028.0 238.8 1029.7 241.9C1031.4 244.9 1033.1 248.1 1034.8 250.7C1036.4 253.1 1038.1 255.3 1039.8 257.0C1041.9 258.8 1044.0 259.3 1046.1 260.3C1048.6 261.4 1051.2 263.1 1053.7 263.3C1054.5 262.7 1055.4 258.5 1056.2 254.0C1056.9 249.8 1057.5 240.7 1058.2 238.8C1058.7 238.1 1059.2 237.7 1059.7 237.6C1060.2 237.8 1060.7 241.1 1061.3 241.4C1061.8 241.1 1062.3 239.5 1062.8 236.8C1063.5 231.5 1064.3 219.7 1065.0 211.6C1065.9 202.8 1066.7 191.7 1067.6 186.4C1068.6 181.4 1069.6 178.6 1070.6 178.0C1071.7 178.9 1072.8 190.0 1073.9 190.9C1075.5 190.9 1077.2 190.7 1078.9 190.6C1079.8 191.2 1080.6 198.6 1081.4 199.5C1082.5 199.9 1083.6 199.8 1084.7 200.2C1085.7 201.0 1086.7 205.6 1087.7 206.0C1088.6 206.0 1089.4 205.3 1090.3 205.3C1091.1 205.9 1092.0 213.5 1092.8 214.1C1093.8 214.0 1094.8 212.5 1095.8 212.3C1096.9 212.9 1098.0 218.0 1099.1 220.4C1100.4 223.0 1101.6 225.4 1102.9 227.2C1105.4 230.4 1107.9 232.2 1110.5 232.5C1111.7 232.4 1113.0 230.6 1114.2 230.5C1115.9 230.8 1117.6 233.6 1119.3 235.1C1121.0 236.5 1122.7 238.2 1124.3 239.3C1125.6 240.1 1126.9 240.0 1128.1 241.1C1129.4 242.5 1130.6 247.2 1131.9 247.7C1134.8 247.7 1137.8 247.7 1140.7 247.7C1143.3 247.6 1145.8 247.0 1148.3 246.9C1151.2 247.0 1154.2 247.6 1157.1 247.7C1159.7 247.6 1162.2 247.3 1164.7 246.9C1167.6 246.4 1170.6 245.6 1173.5 244.9C1176.5 244.2 1179.4 242.8 1182.4 242.6C1184.5 242.8 1186.6 244.7 1188.7 244.9C1192.0 244.7 1195.4 242.1 1198.8 241.9C1202.1 241.9 1205.5 241.9 1208.9 241.9C1213.9 241.8 1219.0 241.4 1224.0 241.4C1226.5 241.6 1229.0 244.2 1231.6 244.4C1234.5 244.2 1237.5 241.3 1240.4 241.1C1242.9 241.3 1245.5 243.7 1248.0 243.9C1250.5 243.8 1253.0 242.7 1255.5 242.6C1257.6 242.7 1259.7 244.3 1261.9 244.4C1264.4 244.0 1266.9 239.2 1269.4 238.8C1270.7 238.9 1271.9 239.3 1273.2 239.3C1274.3 239.2 1275.4 237.0 1276.5 236.8C1277.9 237.1 1279.3 239.8 1280.8 241.4C1282.0 242.8 1283.3 245.4 1284.6 245.6C1285.8 245.3 1287.1 240.5 1288.3 240.1C1289.6 240.3 1290.9 242.9 1292.1 243.1C1294.2 243.0 1296.3 242.2 1298.4 241.9C1301.4 241.5 1304.3 241.2 1307.3 241.1C1309.8 241.2 1312.3 242.5 1314.8 242.6C1318.2 242.5 1321.6 241.2 1324.9 241.1C1327.5 241.2 1330.0 241.8 1332.5 241.9C1335.0 241.8 1337.6 241.4 1340.1 240.6C1341.3 240.1 1342.6 238.2 1343.9 238.1C1345.5 238.4 1347.2 242.3 1348.9 242.6C1351.4 242.4 1354.0 239.1 1356.5 238.8C1358.2 239.0 1359.8 241.2 1361.5 241.4C1364.5 241.2 1367.4 239.9 1370.4 239.3C1373.7 238.8 1377.1 238.2 1380.4 238.1C1383.8 238.1 1387.2 238.1 1390.5 238.1C1394.3 237.9 1398.1 236.2 1401.9 236.1C1404.8 236.2 1407.8 237.5 1410.7 237.6C1413.2 237.4 1415.8 234.5 1418.3 234.3C1421.2 234.5 1424.2 237.8 1427.1 238.1C1429.4 237.8 1431.7 234.1 1433.9 233.8C1435.0 234.0 1436.1 237.3 1437.2 237.6C1438.7 237.4 1440.1 235.2 1441.5 235.1C1443.0 235.4 1444.5 239.5 1446.1 239.8C1449.0 239.5 1451.9 235.1 1454.9 234.8C1457.4 234.9 1459.9 236.2 1462.5 236.3C1465.4 236.2 1468.3 234.4 1471.3 234.3C1473.4 234.4 1475.5 235.5 1477.6 235.6C1479.1 235.1 1480.6 229.2 1482.1 228.7C1484.0 229.1 1485.8 234.4 1487.7 234.8C1490.2 234.8 1492.7 234.3 1495.3 234.3C1496.5 234.5 1497.8 236.6 1499.0 236.8C1500.9 236.6 1502.7 234.5 1504.6 234.3C1506.5 234.5 1508.5 237.4 1510.4 237.6C1512.3 237.1 1514.3 231.0 1516.2 230.5C1517.6 230.8 1519.1 234.7 1520.5 235.1C1522.6 235.0 1524.7 234.2 1526.8 233.8C1529.3 233.3 1531.8 233.3 1534.4 232.5C1535.9 231.9 1537.4 228.8 1538.9 228.5C1540.3 228.9 1541.8 234.4 1543.2 234.8C1546.1 234.7 1549.1 234.3 1552.0 233.8C1554.0 233.4 1555.9 233.3 1557.8 232.5C1559.0 231.9 1560.2 229.5 1561.4 229.2C1562.9 229.6 1564.4 234.4 1565.9 234.8C1567.2 234.4 1568.4 229.6 1569.7 229.2C1571.4 229.6 1573.1 234.4 1574.7 234.8C1576.0 234.6 1577.3 232.4 1578.5 232.3C1579.4 232.4 1580.2 234.2 1581.0 234.3C1582.3 234.1 1583.6 231.9 1584.8 231.8C1586.5 232.0 1588.2 235.3 1589.9 235.6C1592.4 235.4 1594.9 234.1 1597.5 233.5C1599.6 233.1 1601.7 232.4 1603.8 232.3C1606.3 232.4 1608.8 234.6 1611.3 234.8C1613.4 234.7 1615.5 233.9 1617.6 233.8C1619.7 233.9 1621.8 235.4 1623.9 235.6C1626.5 235.4 1629.0 233.2 1631.5 233.0C1632.4 233.1 1633.2 234.0 1634.0 234.8" stroke="#F0942C"/>
<path class="c" d="M1024.7 342.0C1026.3 343.8 1028.0 345.5 1029.7 348.3C1031.4 351.4 1033.1 356.5 1034.8 359.7C1036.4 362.5 1038.1 364.7 1039.8 366.5C1041.9 368.4 1044.0 369.0 1046.1 370.3C1048.0 371.5 1050.0 373.8 1051.9 374.1C1052.9 373.5 1053.9 369.7 1054.9 366.0C1055.8 362.5 1056.6 357.2 1057.5 353.4C1058.3 349.7 1059.1 346.0 1060.0 343.3C1060.8 340.9 1061.7 341.2 1062.5 338.2C1063.2 334.6 1063.9 323.1 1064.5 315.5C1065.2 307.9 1065.9 296.6 1066.5 292.8C1067.1 290.5 1067.7 289.3 1068.3 289.0C1069.1 289.2 1069.8 291.8 1070.6 292.0C1071.4 291.8 1072.3 288.7 1073.1 288.5C1074.2 288.8 1075.3 291.2 1076.4 292.8C1077.7 294.7 1078.9 297.2 1080.2 299.1C1081.9 301.5 1083.5 302.2 1085.2 305.4C1086.5 308.2 1087.7 312.7 1089.0 315.5C1090.7 318.9 1092.4 321.5 1094.1 323.1C1095.1 323.8 1096.2 324.3 1097.3 324.3C1098.2 324.2 1099.0 322.0 1099.9 321.8C1100.7 322.6 1101.5 331.0 1102.4 333.2C1103.6 335.4 1104.7 336.0 1105.9 337.0C1107.4 338.0 1108.9 338.6 1110.5 338.7C1112.3 338.7 1114.2 338.3 1116.0 338.2C1117.5 338.5 1119.0 341.0 1120.5 342.8C1122.2 344.8 1123.9 347.5 1125.6 349.6C1127.3 351.5 1129.0 353.6 1130.6 354.6C1132.3 355.4 1134.0 355.8 1135.7 355.9C1137.8 355.7 1139.9 353.5 1142.0 353.4C1143.7 353.6 1145.4 357.4 1147.0 357.7C1149.1 357.5 1151.2 356.4 1153.4 355.9C1155.9 355.3 1158.4 354.7 1160.9 354.6C1162.8 354.7 1164.6 355.8 1166.5 355.9C1167.8 355.6 1169.2 352.4 1170.5 352.1C1172.2 352.4 1173.9 356.8 1175.6 357.1C1177.4 356.8 1179.3 352.4 1181.1 352.1C1183.0 352.3 1184.8 355.2 1186.7 355.4C1188.2 355.0 1189.7 350.4 1191.2 350.1C1192.7 350.4 1194.2 355.0 1195.7 355.4C1197.6 355.0 1199.4 350.4 1201.3 350.1C1203.4 350.2 1205.5 351.3 1207.6 351.3C1210.5 351.1 1213.5 348.5 1216.4 348.3C1218.1 348.4 1219.8 349.2 1221.5 350.1C1223.2 351.1 1224.8 353.6 1226.5 353.9C1228.2 353.5 1229.9 348.2 1231.6 347.8C1232.8 347.9 1234.1 348.2 1235.4 348.8C1236.6 349.7 1237.9 353.1 1239.1 353.4C1240.8 353.1 1242.5 349.1 1244.2 348.8C1245.5 348.9 1246.7 349.4 1248.0 350.3C1249.2 351.6 1250.5 356.7 1251.8 357.1C1253.9 356.6 1256.0 349.6 1258.1 349.1C1259.3 349.2 1260.6 351.2 1261.9 351.3C1263.5 351.2 1265.2 349.3 1266.9 349.1C1271.1 348.9 1275.3 348.8 1279.5 348.8C1282.9 349.0 1286.2 350.6 1289.6 351.3C1293.0 352.0 1296.3 352.8 1299.7 352.9C1301.8 352.5 1303.9 347.9 1306.0 347.6C1307.3 347.7 1308.5 349.9 1309.8 350.1C1312.3 349.8 1314.8 346.1 1317.4 345.8C1319.5 346.0 1321.6 348.1 1323.7 348.3C1325.4 348.0 1327.0 344.1 1328.7 343.8C1330.8 344.2 1332.9 349.9 1335.0 350.3C1336.5 350.1 1338.1 346.6 1339.6 346.3C1341.0 346.7 1342.4 351.7 1343.9 352.1C1345.5 351.8 1347.2 348.6 1348.9 348.3C1350.3 348.5 1351.8 350.7 1353.2 350.8C1354.7 350.3 1356.2 343.8 1357.7 343.3C1359.2 344.0 1360.6 353.2 1362.0 353.9C1363.5 353.3 1365.1 347.9 1366.6 345.8C1368.3 343.8 1369.9 342.3 1371.6 342.0C1373.0 342.5 1374.5 349.1 1375.9 349.6C1377.0 349.4 1378.1 347.2 1379.2 347.1C1380.4 347.3 1381.7 350.6 1383.0 350.8C1384.2 350.2 1385.5 342.6 1386.8 342.0C1388.0 342.3 1389.3 346.2 1390.5 347.1C1392.2 347.8 1393.9 348.2 1395.6 348.3C1398.1 348.0 1400.6 344.3 1403.2 344.0C1406.5 344.2 1409.9 346.1 1413.2 346.3C1415.4 346.3 1417.5 346.1 1419.6 345.8C1421.0 345.3 1422.4 341.1 1423.8 340.7C1425.4 341.0 1426.9 344.3 1428.4 344.5C1429.7 344.4 1430.9 343.4 1432.2 343.3C1434.1 343.6 1436.0 347.5 1438.0 347.8C1439.6 347.3 1441.2 341.2 1442.8 340.7C1444.0 341.1 1445.3 345.5 1446.6 345.8C1448.2 345.3 1449.9 339.2 1451.6 338.7C1454.4 339.2 1457.2 345.3 1459.9 345.8C1462.0 345.6 1464.1 343.3 1466.2 342.5C1468.8 341.8 1471.3 341.3 1473.8 341.2C1475.5 341.4 1477.2 343.6 1478.9 343.8C1480.5 343.5 1482.2 340.2 1483.9 340.0C1485.6 340.1 1487.3 341.9 1488.9 342.0C1490.6 341.9 1492.3 340.4 1494.0 340.2C1496.1 340.3 1498.2 340.7 1500.3 341.2C1502.0 341.8 1503.7 343.1 1505.4 343.3C1507.5 343.0 1509.6 339.7 1511.7 339.5C1512.9 339.8 1514.2 344.2 1515.4 344.5C1517.0 344.1 1518.5 338.2 1520.0 337.7C1521.4 338.0 1522.8 341.0 1524.3 341.2C1525.5 341.2 1526.8 340.1 1528.1 340.0C1529.7 340.2 1531.4 343.0 1533.1 343.3C1534.4 343.1 1535.6 341.4 1536.9 341.2C1538.6 341.5 1540.3 344.3 1541.9 344.5C1543.6 344.3 1545.3 341.5 1547.0 341.2C1549.1 341.4 1551.2 343.1 1553.3 343.3C1557.1 343.2 1560.9 342.5 1564.6 342.0C1568.0 341.5 1571.4 340.4 1574.7 340.2C1576.8 340.5 1578.9 343.5 1581.0 343.8C1582.7 343.7 1584.4 343.3 1586.1 342.8C1588.2 341.9 1590.3 339.2 1592.4 339.0C1594.1 339.3 1595.8 343.0 1597.5 343.3C1599.1 343.1 1600.8 340.9 1602.5 340.7C1604.6 340.8 1606.7 341.2 1608.8 341.2C1610.1 341.2 1611.3 340.1 1612.6 340.0C1614.3 340.3 1616.0 344.2 1617.6 344.5C1620.3 344.1 1623.0 339.1 1625.7 338.7C1626.8 338.9 1627.9 341.8 1629.0 342.0C1630.7 342.0 1632.4 342.0 1634.0 342.0" stroke="#3AAA35"/>
<path class="c" d="M1024.7 454.3C1026.3 457.2 1028.0 460.2 1029.7 463.1C1031.4 466.1 1033.1 469.3 1034.8 472.0C1036.4 474.5 1038.1 477.1 1039.8 478.8C1041.9 480.4 1044.0 480.6 1046.1 481.5C1048.4 482.6 1050.7 484.4 1052.9 484.6C1053.8 484.1 1054.8 481.5 1055.7 477.0C1056.5 471.9 1057.4 458.9 1058.2 455.6C1058.8 454.0 1059.4 453.2 1060.0 453.0C1060.5 453.2 1061.0 455.4 1061.5 455.6C1062.0 455.4 1062.5 454.5 1063.0 453.0C1063.7 449.8 1064.4 438.3 1065.0 431.6C1065.9 423.4 1066.7 414.4 1067.6 408.9C1068.2 405.2 1068.9 403.4 1069.6 401.8C1070.2 400.7 1070.8 400.2 1071.3 400.0C1072.2 400.6 1073.0 406.7 1073.9 408.9C1075.0 411.1 1076.1 410.6 1077.1 412.7C1078.2 414.9 1079.2 420.6 1080.2 421.5C1081.4 421.9 1082.7 422.2 1084.0 422.2C1085.2 422.1 1086.5 420.8 1087.7 420.7C1089.0 421.1 1090.3 424.4 1091.5 426.5C1092.8 428.8 1094.1 432.9 1095.3 434.1C1096.6 434.9 1097.8 434.6 1099.1 435.4C1099.9 436.3 1100.8 440.2 1101.6 442.9C1102.7 446.6 1103.8 454.2 1104.9 455.1C1106.1 454.6 1107.3 449.2 1108.4 448.7C1110.4 449.0 1112.3 451.9 1114.2 453.0C1115.9 453.9 1117.6 454.2 1119.3 455.1C1120.7 455.8 1122.1 456.4 1123.6 457.6C1125.5 459.4 1127.4 462.9 1129.4 464.9C1131.5 466.7 1133.6 468.4 1135.7 468.7C1137.4 468.7 1139.1 468.7 1140.7 468.7C1142.0 468.6 1143.3 467.5 1144.5 467.4C1147.0 467.6 1149.6 469.8 1152.1 469.9C1153.4 469.8 1154.6 468.4 1155.9 467.7C1157.1 467.0 1158.4 465.8 1159.7 465.6C1160.8 465.9 1161.8 469.2 1162.9 469.4C1163.9 469.2 1165.0 466.5 1166.0 466.2C1168.5 465.9 1171.0 466.0 1173.5 465.6C1175.2 465.3 1176.9 463.9 1178.6 463.6C1181.1 463.3 1183.6 463.2 1186.2 463.1C1188.7 463.2 1191.2 464.8 1193.7 464.9C1196.2 464.7 1198.8 462.1 1201.3 461.9C1202.7 462.2 1204.2 466.6 1205.6 466.9C1207.1 466.7 1208.6 465.3 1210.1 464.4C1211.6 463.5 1213.0 461.6 1214.4 461.4C1215.9 461.5 1217.4 463.7 1219.0 463.9C1220.5 463.7 1222.0 461.5 1223.5 461.4C1225.8 461.6 1228.0 464.9 1230.3 465.1C1232.4 464.9 1234.5 462.1 1236.6 461.9C1238.3 461.9 1240.0 462.6 1241.7 462.6C1242.7 462.4 1243.7 458.9 1244.7 458.6C1246.6 459.1 1248.6 465.6 1250.5 466.2C1251.9 465.6 1253.4 458.6 1254.8 458.1C1256.3 458.4 1257.8 462.8 1259.3 463.1C1260.2 463.0 1261.0 461.2 1261.9 461.1C1262.9 461.4 1263.9 464.6 1264.9 464.9C1266.4 464.7 1267.9 461.6 1269.4 461.4C1272.4 461.7 1275.3 465.8 1278.3 466.2C1279.9 465.7 1281.6 459.8 1283.3 459.3C1284.6 459.7 1285.8 464.1 1287.1 464.4C1288.9 463.9 1290.8 458.0 1292.6 457.6C1294.2 458.0 1295.7 462.4 1297.2 463.9C1298.4 464.9 1299.7 465.5 1301.0 465.6C1303.9 465.5 1306.9 464.6 1309.8 463.1C1311.5 462.1 1313.2 459.6 1314.8 459.3C1316.1 459.7 1317.4 464.8 1318.6 465.1C1321.1 464.7 1323.7 458.5 1326.2 458.1C1327.9 458.3 1329.6 461.6 1331.2 461.9C1335.0 461.8 1338.8 461.6 1342.6 461.4C1346.0 461.1 1349.3 461.1 1352.7 460.6C1355.6 460.0 1358.6 457.5 1361.5 457.3C1364.5 457.4 1367.4 458.5 1370.4 458.6C1373.7 458.6 1377.1 458.6 1380.4 458.6C1382.1 458.8 1383.8 461.2 1385.5 461.4C1386.8 460.9 1388.0 454.8 1389.3 454.3C1391.0 454.7 1392.6 459.7 1394.3 460.1C1395.6 460.0 1396.8 458.7 1398.1 458.1C1400.2 457.2 1402.3 456.4 1404.4 456.3C1406.5 456.5 1408.6 458.7 1410.7 458.8C1413.2 458.6 1415.8 455.8 1418.3 455.6C1420.8 455.6 1423.3 456.0 1425.9 456.1C1428.8 455.9 1431.8 453.7 1434.7 453.5C1437.2 453.9 1439.7 458.2 1442.3 458.6C1444.5 458.3 1446.8 454.1 1449.1 453.8C1450.2 453.9 1451.3 455.9 1452.4 456.1C1453.2 455.9 1454.0 454.4 1454.9 454.3C1456.1 454.5 1457.4 457.8 1458.7 458.1C1460.2 457.7 1461.7 452.9 1463.2 452.5C1464.2 452.7 1465.2 454.9 1466.2 455.1C1467.9 454.9 1469.6 453.6 1471.3 453.5C1474.7 453.7 1478.0 456.1 1481.4 456.3C1483.5 456.2 1485.6 454.4 1487.7 454.3C1488.9 454.4 1490.2 455.5 1491.5 455.6C1494.0 455.4 1496.5 454.3 1499.0 453.8C1501.1 453.4 1503.2 453.1 1505.4 453.0C1507.0 453.2 1508.7 455.4 1510.4 455.6C1512.1 455.4 1513.8 452.7 1515.4 452.5C1518.0 452.9 1520.5 457.2 1523.0 457.6C1524.7 457.3 1526.4 453.3 1528.1 453.0C1529.7 453.1 1531.4 454.7 1533.1 454.8C1535.0 454.5 1537.0 451.3 1538.9 451.0C1541.2 451.5 1543.5 457.1 1545.7 457.6C1548.2 457.3 1550.8 454.0 1553.3 453.8C1554.6 453.9 1555.8 454.7 1557.1 454.8C1558.3 454.6 1559.6 452.7 1560.9 452.5C1562.1 452.9 1563.4 457.7 1564.6 458.1C1565.9 457.8 1567.2 454.1 1568.4 453.8C1569.7 453.9 1571.0 454.7 1572.2 454.8C1574.7 454.6 1577.3 453.4 1579.8 452.3C1581.9 451.3 1584.0 449.0 1586.1 448.7C1587.4 449.1 1588.6 452.9 1589.9 453.5C1593.2 454.4 1596.6 454.9 1600.0 455.1C1602.9 455.0 1605.9 453.9 1608.8 453.8C1610.9 453.8 1613.0 453.8 1615.1 453.8C1617.6 453.9 1620.2 455.4 1622.7 455.6C1624.4 455.4 1626.0 453.7 1627.7 453.5C1629.8 453.7 1631.9 455.0 1634.0 456.3" stroke="#65298F"/>
<path class="c" d="M1024.7 563.9C1026.3 567.2 1028.0 570.5 1029.7 573.5C1031.4 576.2 1033.1 578.7 1034.8 581.0C1036.4 583.3 1038.1 585.6 1039.8 587.3C1042.3 589.5 1044.8 589.9 1047.4 591.1C1049.9 592.4 1052.4 594.7 1054.9 594.9C1055.6 594.2 1056.3 589.5 1057.0 584.8C1057.6 579.4 1058.3 567.8 1059.0 564.6C1059.5 563.1 1060.0 562.3 1060.5 562.1C1060.9 562.4 1061.3 566.8 1061.8 567.1C1062.2 567.0 1062.6 566.1 1063.0 564.6C1063.7 560.9 1064.4 548.1 1065.0 540.7C1065.9 531.8 1066.7 521.6 1067.6 516.7C1068.2 513.7 1068.9 512.7 1069.6 511.6C1070.2 510.9 1070.8 510.5 1071.3 510.4C1072.4 510.7 1073.5 513.5 1074.6 515.4C1075.6 517.3 1076.6 519.8 1077.7 521.7C1078.5 523.3 1079.3 525.4 1080.2 526.0C1081.2 526.5 1082.2 526.3 1083.2 526.8C1084.3 527.8 1085.4 533.0 1086.5 535.6C1087.6 538.0 1088.7 541.5 1089.8 541.9C1090.9 541.8 1092.1 540.7 1093.3 540.7C1094.6 541.3 1096.0 548.2 1097.3 550.7C1098.8 553.0 1100.2 553.0 1101.6 554.5C1103.1 556.2 1104.5 558.8 1105.9 560.3C1107.6 561.9 1109.3 563.2 1111.0 563.4C1112.5 563.1 1114.0 560.3 1115.5 560.1C1116.8 560.3 1118.0 562.8 1119.3 563.9C1120.5 564.8 1121.8 565.0 1123.1 565.9C1125.2 567.7 1127.3 570.9 1129.4 573.5C1131.3 575.8 1133.2 580.0 1135.2 580.5C1136.4 580.2 1137.5 575.8 1138.7 575.5C1139.8 575.5 1140.9 575.7 1142.0 576.0C1143.3 576.5 1144.5 579.0 1145.8 579.3C1147.0 579.2 1148.3 578.6 1149.6 578.5C1150.8 578.7 1152.1 580.9 1153.4 581.0C1154.4 580.6 1155.4 575.1 1156.4 574.7C1157.9 574.8 1159.4 576.4 1160.9 576.5C1161.9 576.4 1162.9 576.0 1163.9 576.0C1165.2 576.2 1166.5 579.0 1167.7 579.3C1169.0 579.0 1170.3 575.0 1171.5 574.7C1172.4 574.8 1173.2 575.9 1174.0 576.0C1175.1 575.9 1176.2 574.3 1177.3 574.2C1178.4 574.5 1179.5 577.7 1180.6 578.0C1181.6 577.7 1182.6 573.6 1183.6 573.0C1184.9 572.5 1186.2 572.6 1187.4 572.2C1188.5 571.6 1189.6 569.4 1190.7 569.2C1192.1 569.5 1193.6 573.6 1195.0 574.0C1196.7 573.8 1198.3 571.9 1200.0 571.4C1201.7 571.1 1203.4 571.0 1205.1 570.9C1206.8 571.0 1208.4 572.6 1210.1 572.7C1211.4 572.5 1212.6 569.4 1213.9 569.2C1216.0 569.4 1218.1 572.0 1220.2 572.2C1221.5 572.1 1222.7 571.0 1224.0 570.9C1228.2 571.0 1232.4 572.1 1236.6 572.2C1239.1 571.9 1241.7 568.2 1244.2 567.9C1246.3 568.1 1248.4 570.1 1250.5 570.9C1253.4 571.9 1256.4 572.5 1259.3 573.0C1261.9 573.3 1264.4 573.4 1266.9 573.5C1268.6 573.1 1270.3 568.3 1271.9 567.9C1273.6 568.1 1275.3 569.8 1277.0 570.4C1279.1 571.0 1281.2 571.4 1283.3 571.4C1285.4 571.3 1287.5 569.7 1289.6 569.2C1292.1 568.7 1294.7 568.5 1297.2 568.4C1301.4 568.6 1305.6 570.8 1309.8 570.9C1313.2 570.8 1316.5 568.6 1319.9 568.4C1321.6 568.4 1323.3 568.4 1324.9 568.4C1327.0 568.3 1329.1 566.5 1331.2 566.4C1333.3 566.5 1335.4 567.8 1337.6 567.9C1341.8 567.9 1346.0 567.9 1350.2 567.9C1351.7 567.7 1353.2 565.5 1354.7 565.4C1355.7 565.9 1356.7 572.2 1357.7 572.7C1359.0 572.3 1360.3 568.6 1361.5 567.1C1362.8 565.9 1364.0 564.8 1365.3 564.6C1366.1 564.7 1367.0 566.3 1367.8 566.4C1369.1 566.2 1370.4 563.6 1371.6 563.4C1372.9 563.4 1374.1 563.9 1375.4 564.6C1376.8 565.8 1378.3 569.8 1379.7 570.2C1380.8 569.7 1381.9 563.3 1383.0 562.9C1384.2 563.3 1385.5 569.2 1386.8 569.7C1388.0 569.5 1389.3 567.5 1390.5 566.6C1391.8 565.8 1393.1 564.8 1394.3 564.6C1395.6 564.8 1396.8 566.5 1398.1 566.6C1400.2 566.5 1402.3 564.3 1404.4 564.1C1405.8 564.2 1407.3 564.3 1408.7 564.6C1410.2 565.1 1411.7 567.7 1413.2 567.9C1414.5 567.4 1415.8 560.8 1417.0 560.3C1418.3 560.8 1419.6 566.7 1420.8 567.1C1422.1 566.9 1423.3 563.1 1424.6 562.9C1426.3 563.0 1428.0 565.2 1429.7 565.4C1432.6 565.1 1435.5 561.6 1438.5 561.3C1440.6 561.6 1442.7 565.6 1444.8 565.9C1447.7 565.7 1450.7 563.6 1453.6 562.9C1456.3 562.2 1459.0 561.7 1461.7 561.6C1463.4 562.0 1465.1 568.0 1466.7 568.4C1468.7 568.0 1470.6 562.5 1472.5 562.1C1473.4 562.3 1474.2 565.2 1475.1 565.4C1476.5 564.9 1477.9 558.8 1479.4 558.3C1480.5 558.7 1481.5 564.2 1482.6 564.6C1483.7 564.5 1484.8 563.4 1485.9 563.4C1486.9 563.5 1487.9 565.2 1488.9 565.4C1490.2 565.0 1491.5 560.0 1492.7 559.6C1494.4 559.9 1496.1 564.8 1497.8 565.1C1499.0 565.0 1500.3 562.8 1501.6 562.6C1503.2 562.7 1504.9 564.0 1506.6 564.1C1510.8 564.0 1515.0 562.2 1519.2 562.1C1520.9 562.2 1522.6 562.9 1524.3 563.9C1525.5 564.7 1526.8 566.9 1528.1 567.1C1529.7 566.7 1531.4 560.6 1533.1 560.1C1536.1 560.2 1539.0 562.4 1541.9 562.6C1545.3 562.5 1548.7 561.0 1552.0 560.8C1553.7 560.9 1555.4 561.5 1557.1 561.6C1559.2 561.5 1561.3 561.3 1563.4 560.8C1565.3 560.3 1567.3 558.5 1569.2 558.3C1571.0 558.4 1572.9 559.9 1574.7 560.1C1577.3 560.2 1579.8 560.2 1582.3 560.3C1585.7 560.6 1589.0 562.0 1592.4 562.1C1596.2 562.0 1600.0 561.4 1603.8 561.3C1605.9 561.6 1608.0 564.9 1610.1 565.1C1613.4 565.0 1616.8 564.6 1620.2 563.9C1622.9 563.1 1625.5 560.3 1628.2 560.1C1630.2 560.4 1632.1 562.2 1634.0 564.1" stroke="#920783"/>
<text class="s" transform="translate(1107.3 71.1) scale(0.95 1)">53.1</text>
<text class="s" transform="translate(1108.6 181.3) scale(0.95 1)">52.6</text>
<text class="s" transform="translate(1106.6 291.8) scale(0.95 1)">53.8</text>
<text class="s" transform="translate(1108.6 402.8) scale(0.95 1)">52.5</text>
<text class="s" transform="translate(1108.6 512.8) scale(0.95 1)">52.5</text>
</g>
<g id="H3">
<path class="a" d="M1881.4 618.3V607.9H2626.1M2016.8 607.9v10.4M2152.2 607.9v10.4M2287.6 607.9v10.4M2423.0 607.9v10.4M2558.4 607.9v10.4"/>
<text class="t" transform="translate(1881.2 664.1) scale(0.965 1)" text-anchor="middle">0</text>
<text class="t" transform="translate(2016.6 664.1) scale(0.965 1)" text-anchor="middle">2</text>
<text class="t" transform="translate(2152.0 664.1) scale(0.965 1)" text-anchor="middle">4</text>
<text class="t" transform="translate(2287.4 664.1) scale(0.965 1)" text-anchor="middle">6</text>
<text class="t" transform="translate(2422.8 664.1) scale(0.965 1)" text-anchor="middle">8</text>
<text class="t" transform="translate(2559.8 664.1) scale(0.965 1)" text-anchor="middle">10</text>
<text class="t" transform="translate(2253.2 716.2) scale(0.985 1)" text-anchor="middle">2<tspan font-style="italic">θ</tspan>/(°)</text>
<text class="s" transform="translate(1863.8 50.3) scale(0.95 1)">H3</text>
<path class="l" d="M2566.9 64.4H2610.1" stroke="#E4007F"/>
<text class="s" transform="translate(2628.2 76.5) scale(0.95 1)">0</text>
<path class="l" d="M2566.9 112.1H2610.1" stroke="#F0942C"/>
<text class="s" transform="translate(2628.2 124.2) scale(0.95 1)">5</text>
<path class="l" d="M2566.9 159.8H2610.1" stroke="#3AAA35"/>
<text class="s" transform="translate(2628.2 171.9) scale(0.95 1)">15</text>
<path class="l" d="M2566.9 207.6H2610.1" stroke="#65298F"/>
<text class="s" transform="translate(2628.2 219.7) scale(0.95 1)">25</text>
<path class="l" d="M2566.9 255.3H2610.1" stroke="#920783"/>
<text class="s" transform="translate(2628.2 267.4) scale(0.95 1)">35</text>
<path class="c" d="M1948.7 120.7C1950.3 122.9 1952.0 125.2 1953.7 128.3C1955.0 130.9 1956.2 134.6 1957.5 137.1C1958.8 139.5 1960.0 141.4 1961.3 143.0C1963.0 144.8 1964.6 145.3 1966.3 146.5C1968.4 147.9 1970.5 149.4 1972.6 150.5C1974.7 151.5 1976.8 152.6 1978.9 152.8C1979.5 152.1 1980.1 147.0 1980.7 142.2C1981.3 136.7 1981.9 124.5 1982.5 122.0C1983.0 120.9 1983.5 120.4 1984.0 120.2C1984.5 120.6 1985.0 125.4 1985.5 125.8C1986.0 125.5 1986.5 124.3 1987.0 122.0C1987.7 117.9 1988.4 107.9 1989.0 100.6C1989.7 93.2 1990.4 83.4 1991.1 77.8C1991.6 73.8 1992.2 71.9 1992.8 70.3C1993.7 68.5 1994.5 67.5 1995.3 67.3C1996.2 67.6 1997.0 72.0 1997.9 72.8C1998.7 73.3 1999.5 73.5 2000.4 73.6C2001.1 73.4 2001.7 71.2 2002.4 71.0C2003.2 71.5 2003.9 75.9 2004.7 77.8C2005.8 80.3 2006.9 81.7 2008.0 82.9C2008.8 83.6 2009.6 83.4 2010.5 84.2C2011.3 85.4 2012.2 90.6 2013.0 93.0C2014.3 96.1 2015.5 96.8 2016.8 98.5C2018.5 100.7 2020.2 102.3 2021.8 104.3C2023.5 106.5 2025.2 108.9 2026.9 111.2C2028.6 113.4 2030.2 117.3 2031.9 117.7C2032.9 117.6 2034.0 116.3 2035.0 116.2C2036.1 116.4 2037.1 118.6 2038.2 118.7C2039.2 118.5 2040.3 115.4 2041.3 115.2C2042.2 115.7 2043.1 121.0 2044.0 122.8C2045.5 124.9 2046.9 125.1 2048.3 126.3C2050.4 128.1 2052.5 130.4 2054.6 132.1C2056.7 133.7 2058.8 136.1 2060.9 136.4C2063.5 136.3 2066.0 135.4 2068.5 135.4C2071.5 135.4 2074.4 136.3 2077.4 136.4C2079.5 136.3 2081.6 136.0 2083.7 135.4C2085.3 134.7 2087.0 132.3 2088.7 132.1C2090.8 132.2 2092.9 133.1 2095.0 133.4C2098.4 133.7 2101.7 133.8 2105.1 133.9C2106.6 133.5 2108.1 129.4 2109.6 129.1C2111.1 129.6 2112.5 136.1 2113.9 136.6C2115.6 136.4 2117.3 133.1 2119.0 132.9C2120.7 132.9 2122.3 133.3 2124.0 133.4C2125.5 133.1 2126.9 129.4 2128.3 129.1C2130.3 129.4 2132.2 133.5 2134.1 133.9C2136.1 133.5 2138.0 129.4 2139.9 129.1C2141.4 129.4 2142.8 133.5 2144.2 133.9C2145.3 133.7 2146.4 131.0 2147.5 130.8C2148.3 131.0 2149.2 132.7 2150.0 132.9C2151.0 132.6 2152.0 129.8 2153.0 129.6C2154.5 129.9 2155.9 133.6 2157.3 133.9C2158.4 133.6 2159.5 129.9 2160.6 129.6C2161.9 129.8 2163.1 132.2 2164.4 132.6C2167.3 133.1 2170.3 133.3 2173.2 133.4C2177.0 133.3 2180.8 133.2 2184.6 132.9C2187.5 132.5 2190.5 131.7 2193.4 130.1C2194.7 129.2 2195.9 127.3 2197.2 127.1C2198.5 127.4 2199.7 131.9 2201.0 132.9C2202.3 133.5 2203.5 133.8 2204.8 133.9C2206.9 133.8 2209.0 132.7 2211.1 132.6C2214.0 132.7 2217.0 133.3 2219.9 133.4C2223.3 133.1 2226.6 129.8 2230.0 129.6C2232.1 129.8 2234.2 133.1 2236.3 133.4C2238.0 132.9 2239.7 126.8 2241.4 126.3C2242.6 126.9 2243.9 134.5 2245.1 135.1C2246.8 134.8 2248.5 130.4 2250.2 130.1C2252.3 130.2 2254.4 131.3 2256.5 131.3C2259.0 131.3 2261.6 131.3 2264.1 131.3C2265.8 131.2 2267.4 129.0 2269.1 128.8C2270.8 129.0 2272.5 131.9 2274.2 132.1C2275.8 131.7 2277.5 126.2 2279.2 125.8C2280.9 126.0 2282.6 127.2 2284.3 128.3C2285.9 129.6 2287.6 132.6 2289.3 132.9C2291.8 132.4 2294.4 127.0 2296.9 126.5C2299.4 126.8 2301.9 130.1 2304.4 130.3C2305.9 129.9 2307.3 123.7 2308.7 123.3C2310.3 123.9 2311.8 131.5 2313.3 132.1C2316.2 131.8 2319.2 127.9 2322.1 127.6C2324.2 127.6 2326.3 128.3 2328.4 128.3C2330.5 128.2 2332.6 127.6 2334.7 126.5C2336.2 125.6 2337.8 122.8 2339.3 122.5C2341.1 122.8 2343.0 127.2 2344.8 127.6C2348.2 127.6 2351.5 127.6 2354.9 127.6C2358.3 127.4 2361.6 126.6 2365.0 125.3C2366.9 124.4 2368.7 121.5 2370.6 121.2C2372.1 121.6 2373.6 126.2 2375.1 126.5C2377.6 126.3 2380.1 124.2 2382.7 123.3C2385.0 122.5 2387.4 121.4 2389.7 121.2C2391.2 121.8 2392.6 128.3 2394.0 128.8C2395.7 128.4 2397.4 123.4 2399.1 122.0C2400.3 121.2 2401.6 120.8 2402.9 120.7C2404.5 121.1 2406.2 125.5 2407.9 125.8C2409.6 125.6 2411.3 124.0 2412.9 123.3C2416.3 122.1 2419.7 121.4 2423.0 121.2C2424.3 121.3 2425.6 121.6 2426.8 122.0C2428.5 122.8 2430.2 125.5 2431.9 125.8C2434.8 125.3 2437.8 118.3 2440.7 117.7C2442.1 118.2 2443.6 124.8 2445.0 125.3C2446.5 125.0 2448.0 121.0 2449.5 120.7C2451.6 120.7 2453.7 120.7 2455.8 120.7C2458.8 121.0 2461.7 124.3 2464.7 124.5C2467.2 124.1 2469.7 118.2 2472.2 117.7C2473.9 118.0 2475.6 121.7 2477.3 122.0C2479.0 122.0 2480.7 121.3 2482.3 121.2C2483.6 121.4 2484.9 123.1 2486.1 123.3C2488.2 123.2 2490.3 123.0 2492.4 122.5C2493.7 122.0 2495.0 119.0 2496.2 118.7C2499.2 119.4 2502.1 128.1 2505.0 128.8C2506.7 128.3 2508.4 121.8 2510.1 121.2C2510.9 121.3 2511.8 122.4 2512.6 122.5C2513.5 122.4 2514.3 120.4 2515.1 120.2C2516.4 120.7 2517.7 126.6 2518.9 127.1C2520.2 126.8 2521.5 124.0 2522.7 123.3C2526.1 121.8 2529.4 120.9 2532.8 120.7C2535.7 120.8 2538.7 121.2 2541.6 121.2C2543.7 121.0 2545.8 118.4 2547.9 118.2C2550.2 118.7 2552.5 124.6 2554.8 125.0C2556.3 124.7 2557.8 122.1 2559.3 119.5" stroke="#E4007F"/>
<path class="c" d="M1948.7 231.8C1949.9 234.8 1951.2 237.9 1952.4 240.6C1954.1 244.0 1955.8 246.8 1957.5 249.4C1959.2 251.9 1960.9 254.0 1962.5 255.7C1964.6 257.6 1966.7 258.5 1968.8 259.5C1971.0 260.4 1973.1 260.4 1975.2 261.3C1976.4 261.9 1977.7 263.2 1978.9 263.3C1979.5 262.7 1980.1 259.0 1980.7 254.5C1981.3 249.2 1981.9 236.4 1982.5 233.8C1983.0 232.6 1983.5 231.9 1984.0 231.8C1984.5 232.0 1985.0 235.3 1985.5 235.6C1986.0 235.3 1986.5 234.0 1987.0 231.8C1987.7 227.6 1988.4 216.1 1989.0 209.1C1989.9 200.6 1990.7 191.7 1991.6 186.4C1992.2 182.8 1992.9 181.3 1993.6 180.0C1994.3 179.0 1995.1 178.4 1995.8 178.3C1996.8 178.6 1997.7 182.3 1998.6 183.8C2000.1 185.9 2001.5 185.9 2002.9 187.6C2004.2 189.3 2005.4 191.6 2006.7 193.9C2008.0 196.3 2009.2 199.1 2010.5 201.5C2011.6 203.5 2012.7 206.9 2013.8 207.3C2014.9 207.1 2016.1 204.2 2017.3 204.0C2018.1 204.6 2019.0 210.7 2019.8 212.8C2020.9 215.1 2022.0 215.0 2023.1 216.6C2024.2 218.4 2025.3 220.6 2026.4 222.9C2027.2 224.8 2028.1 228.4 2028.9 228.7C2030.2 228.6 2031.4 226.4 2032.7 226.2C2034.5 226.6 2036.4 230.9 2038.2 231.3C2039.5 231.2 2040.8 230.6 2042.0 230.5C2043.3 230.7 2044.5 232.2 2045.8 233.0C2047.1 233.9 2048.3 234.0 2049.6 235.6C2050.9 237.5 2052.1 241.8 2053.4 243.9C2054.2 245.0 2055.1 246.2 2055.9 246.4C2056.7 245.9 2057.6 239.8 2058.4 239.3C2059.3 239.5 2060.1 240.1 2060.9 241.1C2062.0 242.7 2063.1 247.7 2064.2 248.2C2065.2 248.1 2066.2 247.0 2067.3 246.9C2068.5 247.1 2069.8 249.3 2071.0 249.4C2072.5 248.9 2073.9 242.4 2075.3 241.9C2076.8 242.2 2078.4 247.0 2079.9 247.4C2080.7 247.3 2081.6 245.8 2082.4 245.6C2084.5 245.8 2086.6 247.3 2088.7 247.4C2091.2 247.0 2093.8 242.2 2096.3 241.9C2098.8 242.1 2101.3 244.9 2103.8 245.1C2105.9 245.0 2108.1 242.8 2110.2 242.6C2111.2 242.8 2112.2 245.4 2113.2 245.6C2115.1 245.2 2117.1 239.3 2119.0 238.8C2120.7 239.1 2122.3 241.7 2124.0 242.6C2127.0 244.0 2129.9 244.7 2132.9 244.9C2135.4 244.8 2137.9 243.9 2140.4 243.9C2142.8 244.1 2145.1 246.2 2147.5 246.4C2148.9 246.1 2150.4 242.3 2151.8 241.9C2154.3 241.6 2156.8 241.4 2159.4 241.4C2161.5 241.4 2163.6 242.5 2165.7 242.6C2168.2 242.6 2170.7 242.5 2173.2 242.4C2176.2 242.1 2179.1 241.4 2182.1 241.4C2183.2 241.7 2184.3 246.1 2185.3 246.4C2186.8 246.0 2188.2 240.5 2189.6 240.1C2190.9 240.2 2192.2 241.7 2193.4 241.9C2194.3 241.8 2195.1 240.7 2195.9 240.6C2198.6 240.9 2201.3 244.6 2204.0 244.9C2206.0 244.6 2207.9 240.2 2209.8 239.8C2211.1 240.0 2212.3 241.7 2213.6 241.9C2214.6 241.7 2215.6 239.5 2216.6 239.3C2218.3 239.8 2220.0 245.9 2221.7 246.4C2224.0 246.1 2226.4 241.5 2228.7 241.1C2231.3 241.4 2233.8 245.8 2236.3 246.2C2238.4 245.7 2240.5 240.5 2242.6 240.1C2243.9 240.4 2245.1 244.6 2246.4 244.9C2250.2 244.4 2254.0 237.8 2257.8 237.3C2259.4 237.4 2261.1 238.0 2262.8 238.8C2264.9 240.1 2267.0 244.0 2269.1 244.4C2270.8 244.0 2272.5 238.5 2274.2 238.1C2275.8 238.3 2277.5 240.9 2279.2 241.1C2281.7 240.9 2284.3 238.3 2286.8 238.1C2288.5 238.4 2290.1 242.3 2291.8 242.6C2294.4 242.4 2296.9 240.6 2299.4 239.8C2301.9 239.1 2304.4 238.2 2307.0 238.1C2308.7 238.3 2310.3 240.9 2312.0 241.1C2315.0 240.7 2317.9 235.5 2320.8 235.1C2322.5 235.4 2324.2 239.8 2325.9 240.1C2329.8 239.7 2333.8 234.7 2337.8 234.3C2339.3 234.6 2340.8 239.0 2342.3 239.3C2343.3 239.0 2344.3 233.9 2345.3 233.5C2347.8 234.0 2350.4 239.4 2352.9 239.8C2355.2 239.6 2357.6 237.7 2360.0 236.8C2362.9 235.8 2365.8 234.8 2368.8 234.3C2370.9 234.0 2373.0 233.8 2375.1 233.8C2378.2 234.1 2381.3 237.8 2384.4 238.1C2387.0 237.7 2389.7 233.4 2392.3 233.0C2393.7 233.3 2395.1 236.6 2396.5 236.8C2399.9 236.8 2403.3 236.6 2406.6 236.3C2409.6 235.9 2412.5 234.5 2415.5 233.8C2418.8 233.0 2422.2 231.9 2425.6 231.8C2427.7 232.1 2429.8 236.5 2431.9 236.8C2433.6 236.6 2435.2 234.0 2436.9 233.8C2438.2 233.9 2439.4 234.7 2440.7 234.8C2443.2 234.6 2445.8 232.4 2448.3 232.3C2449.5 232.5 2450.8 236.0 2452.1 236.3C2455.8 236.1 2459.6 233.7 2463.4 233.5C2467.6 233.6 2471.8 234.9 2476.0 235.1C2478.1 234.9 2480.2 234.2 2482.3 233.0C2483.9 232.0 2485.4 229.5 2486.9 229.2C2487.9 229.5 2488.9 233.5 2489.9 233.8C2490.8 233.7 2491.6 231.9 2492.4 231.8C2494.1 231.9 2495.8 233.7 2497.5 233.8C2500.4 233.8 2503.4 233.8 2506.3 233.8C2507.6 233.5 2508.8 229.5 2510.1 229.2C2511.8 229.6 2513.5 234.0 2515.1 234.3C2518.1 234.1 2521.0 231.5 2524.0 231.3C2526.9 231.4 2529.9 232.9 2532.8 233.0C2535.1 232.8 2537.3 230.2 2539.6 230.0C2541.1 230.3 2542.6 234.0 2544.2 234.3C2545.4 234.0 2546.7 230.8 2547.9 230.5C2550.5 230.9 2553.0 236.4 2555.5 236.8C2556.8 236.4 2558.0 233.7 2559.3 231.0" stroke="#F0942C"/>
<path class="c" d="M1948.7 344.5C1949.5 345.7 1950.3 346.9 1951.2 347.8C1952.0 348.6 1952.9 348.5 1953.7 349.6C1955.0 351.7 1956.2 356.8 1957.5 359.7C1958.8 362.3 1960.0 364.5 1961.3 366.0C1963.0 367.5 1964.6 367.6 1966.3 368.5C1968.4 369.6 1970.5 370.8 1972.6 371.8C1974.6 372.7 1976.5 374.1 1978.4 374.3C1979.1 373.8 1979.8 370.2 1980.5 366.0C1981.1 361.1 1981.8 349.6 1982.5 347.1C1983.0 346.0 1983.5 345.4 1984.0 345.3C1984.5 345.5 1985.0 348.1 1985.5 348.3C1986.0 348.1 1986.5 346.8 1987.0 344.5C1987.7 340.4 1988.4 330.2 1989.0 323.1C1989.7 315.9 1990.4 307.1 1991.1 301.6C1991.7 297.0 1992.4 295.1 1993.1 292.8C1993.9 290.4 1994.8 288.8 1995.6 288.5C1996.4 289.1 1997.3 297.2 1998.1 297.8C1999.3 297.8 2000.5 297.8 2001.7 297.8C2002.9 298.3 2004.2 302.2 2005.4 304.2C2007.1 306.6 2008.8 308.2 2010.5 310.5C2012.2 312.8 2013.8 315.4 2015.5 318.0C2016.8 320.1 2018.1 322.7 2019.3 324.3C2020.6 325.7 2021.8 325.5 2023.1 326.9C2024.4 328.5 2025.6 330.9 2026.9 333.2C2028.1 335.5 2029.4 340.0 2030.7 340.7C2031.9 341.0 2033.2 341.2 2034.5 341.2C2035.5 341.2 2036.5 341.0 2037.5 340.7C2038.3 340.4 2039.2 338.9 2040.0 338.7C2041.1 339.2 2042.2 345.3 2043.3 345.8C2044.4 345.7 2045.5 344.6 2046.6 344.5C2047.7 345.0 2048.9 350.3 2050.1 351.3C2051.6 352.3 2053.1 352.1 2054.6 352.9C2056.3 353.8 2058.0 355.9 2059.7 356.4C2062.6 356.8 2065.6 356.9 2068.5 357.1C2072.3 357.5 2076.1 358.3 2079.9 358.4C2084.1 358.3 2088.3 357.2 2092.5 357.1C2097.1 357.2 2101.7 357.6 2106.4 357.7C2108.5 357.4 2110.6 355.1 2112.7 354.6C2115.6 354.2 2118.6 354.3 2121.5 353.9C2122.8 353.5 2124.0 351.0 2125.3 350.8C2127.0 351.1 2128.7 354.4 2130.3 354.6C2132.0 354.3 2133.7 350.4 2135.4 350.1C2137.1 350.4 2138.8 353.5 2140.4 354.6C2142.1 355.6 2143.8 356.3 2145.5 356.4C2147.2 356.3 2148.8 354.7 2150.5 354.6C2153.5 354.8 2156.4 357.0 2159.4 357.1C2161.9 357.0 2164.4 355.3 2166.9 354.6C2169.9 353.9 2172.8 353.0 2175.8 352.9C2179.1 352.9 2182.5 353.4 2185.9 353.9C2189.2 354.4 2192.6 355.8 2195.9 355.9C2198.9 355.8 2201.8 354.5 2204.8 353.9C2207.3 353.3 2209.8 352.2 2212.3 352.1C2214.4 352.4 2216.6 356.3 2218.7 356.6C2220.8 356.3 2222.9 351.7 2225.0 351.3C2227.5 351.6 2230.0 354.4 2232.5 354.6C2234.5 354.2 2236.4 349.2 2238.3 348.8C2239.8 349.1 2241.2 353.1 2242.6 353.4C2243.5 353.3 2244.3 352.2 2245.1 352.1C2247.3 352.4 2249.4 355.6 2251.5 355.9C2253.8 355.3 2256.2 348.3 2258.5 347.8C2260.0 348.3 2261.4 354.9 2262.8 355.4C2264.5 355.2 2266.2 354.0 2267.9 353.4C2272.1 351.9 2276.3 349.8 2280.5 349.6C2283.0 349.7 2285.5 350.1 2288.0 350.8C2289.7 351.5 2291.4 353.2 2293.1 353.4C2295.0 353.0 2297.0 348.7 2298.9 348.3C2300.7 348.3 2302.6 348.5 2304.4 348.8C2307.0 349.4 2309.5 351.2 2312.0 351.3C2313.7 351.3 2315.4 350.2 2317.1 350.1C2318.3 350.2 2319.6 352.0 2320.8 352.1C2324.2 351.8 2327.6 348.6 2330.9 348.3C2333.0 348.3 2335.1 348.3 2337.2 348.3C2338.9 348.5 2340.6 351.4 2342.3 351.6C2344.0 351.1 2345.7 345.0 2347.3 344.5C2348.6 344.9 2349.9 349.9 2351.1 350.3C2352.4 350.0 2353.7 345.6 2354.9 345.3C2357.3 345.6 2359.6 349.3 2362.0 349.6C2364.7 349.3 2367.4 345.7 2370.1 345.3C2373.4 345.1 2376.8 345.2 2380.1 345.0C2384.4 344.7 2388.6 342.2 2392.8 342.0C2394.3 342.3 2395.8 346.2 2397.3 346.5C2399.0 346.3 2400.7 343.5 2402.4 343.3C2403.5 343.6 2404.7 348.0 2405.9 348.3C2407.8 347.9 2409.8 342.0 2411.7 341.5C2415.1 341.8 2418.4 346.2 2421.8 346.5C2423.0 346.4 2424.3 344.7 2425.6 344.5C2427.7 344.6 2429.8 345.7 2431.9 345.8C2433.1 345.6 2434.4 343.4 2435.7 343.3C2436.5 343.5 2437.3 346.3 2438.2 346.5C2439.4 346.4 2440.7 344.7 2442.0 344.5C2444.9 344.6 2447.9 345.7 2450.8 345.8C2452.9 345.5 2455.0 341.8 2457.1 341.5C2458.4 341.6 2459.6 343.2 2460.9 343.3C2461.7 343.2 2462.6 341.6 2463.4 341.5C2464.9 341.9 2466.4 347.4 2468.0 347.8C2469.4 347.4 2470.8 341.9 2472.2 341.5C2473.7 342.0 2475.1 348.3 2476.5 348.8C2478.0 348.5 2479.6 345.5 2481.1 344.5C2483.6 343.3 2486.1 342.6 2488.6 342.5C2491.2 342.6 2493.7 343.9 2496.2 344.5C2498.7 345.2 2501.3 346.2 2503.8 346.3C2505.0 346.0 2506.3 341.6 2507.6 341.2C2508.8 341.7 2510.1 347.1 2511.4 347.6C2513.2 347.2 2515.1 342.4 2516.9 342.0C2519.3 342.3 2521.6 346.2 2524.0 346.5C2526.2 346.1 2528.5 340.7 2530.8 340.2C2532.6 340.9 2534.3 349.0 2536.1 349.6C2537.8 349.0 2539.4 341.3 2541.1 340.7C2543.0 341.2 2544.8 346.6 2546.7 347.1C2548.4 346.7 2550.0 342.3 2551.7 342.0C2553.0 342.1 2554.3 343.9 2555.5 344.0C2556.8 343.9 2558.0 343.4 2559.3 342.8" stroke="#3AAA35"/>
<path class="c" d="M1948.7 451.8C1949.9 454.9 1951.2 458.0 1952.4 460.6C1954.1 463.8 1955.8 465.8 1957.5 468.2C1959.2 470.4 1960.9 472.5 1962.5 474.5C1964.2 476.4 1965.9 479.1 1967.6 480.0C1969.7 480.8 1971.8 480.5 1973.9 481.3C1975.4 482.0 1976.9 484.4 1978.4 484.6C1979.1 484.0 1979.8 480.2 1980.5 475.7C1981.1 470.5 1981.8 458.7 1982.5 455.6C1983.0 454.0 1983.5 453.2 1984.0 453.0C1984.5 453.5 1985.0 458.9 1985.5 459.3C1986.0 459.0 1986.5 457.1 1987.0 454.3C1987.7 449.6 1988.4 441.2 1989.0 434.1C1989.7 426.9 1990.4 417.4 1991.1 411.4C1991.7 406.3 1992.4 402.6 1993.1 400.8C1993.9 399.3 1994.8 398.4 1995.6 398.3C1996.3 398.5 1996.9 399.5 1997.6 401.3C1998.3 403.5 1999.0 408.9 1999.6 410.1C2000.3 410.9 2001.0 411.3 2001.7 411.4C2002.5 411.0 2003.3 406.0 2004.2 405.6C2004.8 405.9 2005.5 408.2 2006.2 410.1C2007.0 412.8 2007.9 419.6 2008.7 420.2C2009.7 420.1 2010.7 419.1 2011.7 419.0C2013.0 419.6 2014.3 426.3 2015.5 428.6C2016.8 430.4 2018.1 430.3 2019.3 431.6C2020.3 432.7 2021.3 433.6 2022.3 435.4C2023.4 437.5 2024.5 442.9 2025.6 443.4C2026.6 443.0 2027.6 437.8 2028.7 437.4C2029.6 438.3 2030.5 448.0 2031.4 450.5C2032.4 452.5 2033.4 453.6 2034.5 453.8C2035.5 453.6 2036.5 452.3 2037.5 451.3C2038.8 449.7 2040.2 445.8 2041.5 445.5C2042.8 446.1 2044.0 452.6 2045.3 454.8C2046.7 456.8 2048.2 456.9 2049.6 458.1C2051.7 459.9 2053.8 462.5 2055.9 464.4C2057.6 465.8 2059.3 467.2 2060.9 468.2C2062.6 468.9 2064.3 469.3 2066.0 469.4C2068.1 469.3 2070.2 468.7 2072.3 467.7C2073.3 467.0 2074.3 464.1 2075.3 463.9C2076.4 464.3 2077.5 468.1 2078.6 469.4C2079.9 470.6 2081.1 471.3 2082.4 471.5C2084.5 471.2 2086.6 468.4 2088.7 467.4C2090.8 466.7 2092.9 466.2 2095.0 466.2C2096.0 466.2 2097.0 467.3 2098.0 467.4C2099.4 467.0 2100.7 462.2 2102.1 461.9C2103.5 462.2 2104.9 466.1 2106.4 466.4C2108.1 466.2 2109.7 462.9 2111.4 462.6C2113.1 462.9 2114.8 466.6 2116.5 466.9C2118.6 466.6 2120.7 462.2 2122.8 461.9C2125.3 461.9 2127.8 462.1 2130.3 462.4C2131.6 462.7 2132.9 465.0 2134.1 465.1C2135.4 464.9 2136.6 462.1 2137.9 461.9C2139.4 462.3 2140.9 467.8 2142.5 468.2C2144.1 467.7 2145.8 461.6 2147.5 461.1C2148.9 461.3 2150.4 464.0 2151.8 464.4C2155.2 464.8 2158.5 465.1 2161.9 465.1C2163.6 464.7 2165.2 458.5 2166.9 458.1C2168.6 458.7 2170.3 466.3 2172.0 466.9C2173.7 466.5 2175.3 461.0 2177.0 460.6C2179.1 460.7 2181.2 461.5 2183.3 461.9C2186.3 462.4 2189.2 462.4 2192.2 463.1C2193.8 463.8 2195.5 466.7 2197.2 466.9C2198.5 466.5 2199.7 461.5 2201.0 461.1C2202.3 461.2 2203.5 462.5 2204.8 462.6C2205.6 462.5 2206.5 461.2 2207.3 461.1C2209.4 461.2 2211.5 463.0 2213.6 463.1C2215.1 463.0 2216.6 460.8 2218.2 460.6C2219.6 460.8 2221.0 463.7 2222.4 463.9C2224.4 463.7 2226.3 461.3 2228.2 461.1C2230.5 461.5 2232.8 466.5 2235.1 466.9C2236.5 466.5 2237.9 461.0 2239.3 460.6C2240.4 460.8 2241.5 463.0 2242.6 463.1C2244.7 462.9 2246.8 460.3 2248.9 460.1C2250.6 460.3 2252.3 462.5 2254.0 462.6C2255.8 462.2 2257.7 456.5 2259.5 456.1C2261.5 456.6 2263.4 464.3 2265.3 464.9C2266.8 464.5 2268.2 459.7 2269.6 459.3C2271.1 459.6 2272.7 462.4 2274.2 462.6C2276.3 462.4 2278.4 460.6 2280.5 459.3C2282.2 458.2 2283.8 455.8 2285.5 455.6C2287.8 456.1 2290.1 463.1 2292.3 463.6C2293.4 463.3 2294.5 460.5 2295.6 459.3C2297.7 457.5 2299.8 456.5 2301.9 456.3C2303.6 456.6 2305.3 460.8 2307.0 461.1C2308.0 460.7 2309.0 455.9 2310.0 455.6C2311.1 455.9 2312.2 461.0 2313.3 461.4C2314.5 461.3 2315.8 461.1 2317.1 460.6C2318.6 459.7 2320.1 455.4 2321.6 455.1C2322.6 455.3 2323.6 458.3 2324.6 458.6C2325.6 458.5 2326.7 456.9 2327.7 456.8C2329.6 457.2 2331.5 462.2 2333.5 462.6C2336.0 462.3 2338.5 458.2 2341.0 457.3C2343.6 456.7 2346.1 456.4 2348.6 456.3C2350.7 456.5 2352.8 458.7 2354.9 458.8C2356.2 458.2 2357.4 450.6 2358.7 450.0C2359.5 450.5 2360.4 456.4 2361.2 456.8C2362.5 456.5 2363.7 453.5 2365.0 452.3C2366.7 450.9 2368.4 450.2 2370.1 450.0C2372.2 450.4 2374.3 454.6 2376.4 456.1C2378.5 457.3 2380.6 457.9 2382.7 458.1C2384.8 458.0 2386.9 457.8 2389.0 457.3C2390.4 456.8 2391.8 453.3 2393.3 453.0C2394.4 453.5 2395.5 460.1 2396.5 460.6C2397.8 460.1 2399.1 453.5 2400.3 453.0C2401.3 453.5 2402.4 458.9 2403.4 459.3C2404.9 458.8 2406.4 451.1 2407.9 450.5C2409.2 450.9 2410.4 454.5 2411.7 456.1C2412.8 457.3 2413.9 459.1 2415.0 459.3C2416.4 458.9 2417.8 453.5 2419.3 453.0C2420.5 453.2 2421.8 455.4 2423.0 455.6C2425.1 455.4 2427.2 453.7 2429.4 453.5C2431.5 453.7 2433.6 455.4 2435.7 455.6C2438.2 455.5 2440.7 454.7 2443.2 454.3C2445.8 453.9 2448.3 453.1 2450.8 453.0C2452.9 453.2 2455.0 454.5 2457.1 455.6C2458.8 456.5 2460.5 458.6 2462.2 458.8C2463.6 458.3 2465.0 451.8 2466.4 451.3C2467.5 451.7 2468.6 456.9 2469.7 457.3C2471.0 456.9 2472.2 451.6 2473.5 450.5C2474.8 449.8 2476.0 449.3 2477.3 449.2C2479.8 449.4 2482.3 451.3 2484.9 452.3C2487.4 453.2 2489.9 454.0 2492.4 454.8C2494.1 455.3 2495.8 456.2 2497.5 456.3C2499.6 456.0 2501.7 451.4 2503.8 451.0C2506.3 451.3 2508.8 454.8 2511.4 455.1C2513.9 455.0 2516.4 454.3 2518.9 453.8C2521.9 453.2 2524.8 452.4 2527.8 451.8C2530.3 451.3 2532.8 450.6 2535.3 450.5C2536.8 450.7 2538.2 453.6 2539.6 453.8C2540.7 453.5 2541.8 449.5 2542.9 449.2C2544.2 449.6 2545.4 454.2 2546.7 455.1C2548.5 455.8 2550.4 456.2 2552.2 456.3C2553.3 456.0 2554.4 452.1 2555.5 451.8C2556.8 451.9 2558.0 453.1 2559.3 454.3" stroke="#65298F"/>
<path class="c" d="M1948.7 564.6C1949.9 567.7 1951.2 570.8 1952.4 573.5C1954.1 576.8 1955.8 579.7 1957.5 582.3C1959.2 584.7 1960.9 586.9 1962.5 588.6C1964.6 590.5 1966.7 591.4 1968.8 592.4C1970.5 593.1 1972.2 593.6 1973.9 594.1C1975.4 594.6 1976.9 595.3 1978.4 595.4C1979.1 594.9 1979.8 591.3 1980.5 587.3C1981.1 582.7 1981.8 572.6 1982.5 569.7C1983.0 568.2 1983.5 567.5 1984.0 567.1C1984.7 566.8 1985.3 566.9 1986.0 566.6C1986.6 565.3 1987.2 556.0 1987.8 550.7C1988.6 543.2 1989.5 534.1 1990.3 528.0C1991.1 522.7 1992.0 519.6 1992.8 516.7C1993.7 514.2 1994.5 512.8 1995.3 511.6C1995.9 511.0 1996.5 510.5 1997.1 510.4C1997.8 511.0 1998.5 516.9 1999.1 519.2C2000.0 521.6 2000.8 523.2 2001.7 523.5C2002.9 523.4 2004.2 522.3 2005.4 522.2C2006.3 522.9 2007.1 529.1 2008.0 531.8C2008.8 534.3 2009.6 537.2 2010.5 537.6C2011.7 537.6 2013.0 536.9 2014.3 536.9C2016.0 537.3 2017.6 541.4 2019.3 543.7C2021.0 546.0 2022.7 548.2 2024.4 550.7C2025.6 552.7 2026.9 555.1 2028.1 557.1C2029.2 558.6 2030.3 561.1 2031.4 561.3C2032.9 561.0 2034.3 556.9 2035.7 556.5C2037.0 557.1 2038.2 564.1 2039.5 564.6C2041.0 564.6 2042.5 564.2 2044.0 564.1C2045.9 564.5 2047.7 568.6 2049.6 570.4C2051.7 572.4 2053.8 573.8 2055.9 575.5C2058.0 577.1 2060.1 579.9 2062.2 580.3C2064.3 580.2 2066.4 578.6 2068.5 578.5C2073.1 578.5 2077.8 578.5 2082.4 578.5C2084.5 578.4 2086.6 577.8 2088.7 576.7C2090.0 576.0 2091.2 574.1 2092.5 574.0C2093.8 574.3 2095.0 578.2 2096.3 578.5C2100.1 578.5 2103.8 578.5 2107.6 578.5C2109.1 578.3 2110.7 577.3 2112.2 576.0C2113.6 574.5 2115.0 570.8 2116.5 570.4C2118.1 570.6 2119.8 573.1 2121.5 573.5C2125.3 573.9 2129.1 573.8 2132.9 574.2C2135.4 574.8 2137.9 578.7 2140.4 579.0C2142.1 578.6 2143.8 572.6 2145.5 572.2C2146.7 572.5 2148.0 576.9 2149.3 577.2C2150.5 577.0 2151.8 574.9 2153.0 574.2C2154.7 573.5 2156.4 573.7 2158.1 573.0C2159.4 572.1 2160.6 567.5 2161.9 567.1C2163.3 567.7 2164.7 575.4 2166.2 576.0C2167.7 575.7 2169.2 572.0 2170.7 571.7C2172.4 571.8 2174.1 572.1 2175.8 572.7C2178.0 573.8 2180.3 577.4 2182.6 577.7C2184.1 577.4 2185.6 573.0 2187.1 572.7C2189.2 572.8 2191.3 574.1 2193.4 574.2C2195.1 574.2 2196.8 573.5 2198.5 573.5C2201.0 573.5 2203.5 574.2 2206.0 574.2C2210.2 574.1 2214.4 572.8 2218.7 572.7C2221.6 572.7 2224.5 572.7 2227.5 572.7C2230.4 572.7 2233.4 572.5 2236.3 572.2C2237.8 571.9 2239.3 570.3 2240.9 570.2C2242.3 570.3 2243.7 572.1 2245.1 572.2C2246.4 572.1 2247.7 571.0 2248.9 570.9C2250.6 571.1 2252.3 573.3 2254.0 573.5C2255.7 573.4 2257.3 572.9 2259.0 572.7C2262.4 572.2 2265.8 572.1 2269.1 571.4C2270.8 571.1 2272.5 570.9 2274.2 570.2C2275.2 569.6 2276.2 568.1 2277.2 567.9C2278.5 568.3 2279.9 573.1 2281.2 573.5C2283.9 573.3 2286.6 570.6 2289.3 570.4C2291.4 570.5 2293.5 571.4 2295.6 571.4C2297.3 571.4 2299.0 570.3 2300.7 570.2C2301.9 570.3 2303.2 571.4 2304.4 571.4C2307.8 571.2 2311.2 568.1 2314.5 567.9C2317.5 568.0 2320.4 568.8 2323.4 568.9C2325.9 568.8 2328.4 566.8 2330.9 566.6C2333.9 566.9 2336.8 570.6 2339.8 570.9C2342.3 570.5 2344.8 565.5 2347.3 565.1C2349.0 565.4 2350.7 568.7 2352.4 568.9C2356.6 568.7 2360.8 566.1 2365.0 565.9C2368.0 566.1 2370.9 568.9 2373.8 569.2C2375.9 569.1 2378.0 568.7 2380.1 567.9C2381.6 567.1 2383.0 563.7 2384.4 563.4C2385.9 563.6 2387.5 566.2 2389.0 567.1C2391.1 568.2 2393.2 568.8 2395.3 568.9C2397.4 568.8 2399.5 568.0 2401.6 567.9C2403.7 568.0 2405.8 569.1 2407.9 569.2C2410.8 569.1 2413.8 568.7 2416.7 567.9C2418.7 567.0 2420.6 561.8 2422.5 561.3C2424.0 561.5 2425.4 562.4 2426.8 563.9C2428.1 565.5 2429.4 569.8 2430.6 570.2C2431.9 569.8 2433.1 565.0 2434.4 564.6C2435.7 564.7 2436.9 565.8 2438.2 565.9C2439.9 565.8 2441.5 564.7 2443.2 564.6C2445.8 564.7 2448.3 566.0 2450.8 566.4C2454.2 566.8 2457.5 567.1 2460.9 567.1C2464.3 567.0 2467.6 564.8 2471.0 564.6C2473.1 564.8 2475.2 567.0 2477.3 567.1C2478.6 567.0 2479.8 565.5 2481.1 565.4C2482.5 565.7 2483.9 570.1 2485.4 570.4C2486.9 570.2 2488.4 567.8 2489.9 566.6C2491.0 565.9 2492.1 564.8 2493.2 564.6C2494.2 564.9 2495.2 568.2 2496.2 568.4C2497.5 568.0 2498.7 563.0 2500.0 562.6C2501.3 563.0 2502.5 567.6 2503.8 567.9C2505.0 567.7 2506.3 566.1 2507.6 565.4C2509.0 564.6 2510.4 563.5 2511.9 563.4C2513.2 563.8 2514.6 569.2 2515.9 569.7C2517.7 569.4 2519.6 565.7 2521.5 565.4C2522.7 565.6 2524.0 568.7 2525.2 568.9C2526.9 568.7 2528.6 565.6 2530.3 565.4C2531.1 565.5 2532.0 566.6 2532.8 566.6C2533.9 566.5 2535.0 564.1 2536.1 563.9C2537.1 564.2 2538.1 568.1 2539.1 568.4C2540.8 568.2 2542.5 566.6 2544.2 565.9C2546.3 565.0 2548.4 564.0 2550.5 563.9C2552.2 564.1 2553.8 566.9 2555.5 567.1C2556.8 567.1 2558.0 566.5 2559.3 565.9" stroke="#920783"/>
<text class="s" transform="translate(2028.8 64.0) scale(0.95 1)">52.9</text>
<text class="s" transform="translate(2028.8 177.1) scale(0.95 1)">52.6</text>
<text class="s" transform="translate(2027.8 282.8) scale(0.95 1)">53.1</text>
<text class="s" transform="translate(2032.8 400.3) scale(0.95 1)">52.9</text>
<text class="s" transform="translate(2034.6 510.7) scale(0.95 1)">52.0</text>
</g>
<g id="H4">
<path class="a" d="M2773.7 622.4V612.0H3518.4M2909.1 612.0v10.4M3044.5 612.0v10.4M3179.9 612.0v10.4M3315.3 612.0v10.4M3450.7 612.0v10.4"/>
<text class="t" transform="translate(2775.6 668.2) scale(0.965 1)" text-anchor="middle">0</text>
<text class="t" transform="translate(2911.0 668.2) scale(0.965 1)" text-anchor="middle">2</text>
<text class="t" transform="translate(3046.4 668.2) scale(0.965 1)" text-anchor="middle">4</text>
<text class="t" transform="translate(3181.8 668.2) scale(0.965 1)" text-anchor="middle">6</text>
<text class="t" transform="translate(3317.2 668.2) scale(0.965 1)" text-anchor="middle">8</text>
<text class="t" transform="translate(3454.0 668.2) scale(0.965 1)" text-anchor="middle">10</text>
<text class="t" transform="translate(3146.9 720.3) scale(0.985 1)" text-anchor="middle">2<tspan font-style="italic">θ</tspan>/(°)</text>
<text class="s" transform="translate(2817.8 43.2) scale(0.95 1)">H4</text>
<path class="l" d="M3465.3 60.8H3508.4" stroke="#E4007F"/>
<text class="s" transform="translate(3526.2 72.9) scale(0.95 1)">0</text>
<path class="l" d="M3465.3 108.5H3508.4" stroke="#F0942C"/>
<text class="s" transform="translate(3526.2 120.6) scale(0.95 1)">5</text>
<path class="l" d="M3465.3 156.2H3508.4" stroke="#3AAA35"/>
<text class="s" transform="translate(3526.2 168.3) scale(0.95 1)">15</text>
<path class="l" d="M3465.3 204.0H3508.4" stroke="#65298F"/>
<text class="s" transform="translate(3526.2 216.1) scale(0.95 1)">25</text>
<path class="l" d="M3465.3 251.7H3508.4" stroke="#920783"/>
<text class="s" transform="translate(3526.2 263.8) scale(0.95 1)">35</text>
<path class="c" d="M2840.7 126.0C2842.3 129.5 2844.0 133.1 2845.7 136.1C2847.4 139.0 2849.1 141.3 2850.8 143.7C2852.4 145.9 2854.1 148.2 2855.8 150.0C2858.3 152.4 2860.8 153.7 2863.4 155.0C2865.7 156.1 2868.1 157.4 2870.4 157.5C2871.1 156.9 2871.8 152.0 2872.5 147.5C2873.1 142.3 2873.8 131.6 2874.5 128.5C2875.0 127.0 2875.5 126.2 2876.0 126.0C2876.5 126.2 2877.0 128.4 2877.5 128.5C2878.0 128.3 2878.5 127.0 2879.0 124.7C2879.7 120.7 2880.4 111.6 2881.0 104.6C2881.7 97.3 2882.4 87.8 2883.1 81.8C2883.6 78.0 2884.1 74.0 2884.6 73.0C2885.1 72.6 2885.6 72.3 2886.1 72.3C2886.9 72.8 2887.8 80.0 2888.6 80.6C2889.4 80.3 2890.3 75.9 2891.1 75.5C2892.4 76.0 2893.7 82.6 2894.9 83.1C2895.8 82.9 2896.6 79.6 2897.4 79.3C2898.1 79.6 2898.8 80.9 2899.5 83.1C2900.2 86.1 2901.0 92.5 2901.7 95.7C2902.4 98.2 2903.1 100.4 2903.7 100.8C2904.8 100.5 2905.8 96.5 2906.8 96.2C2907.9 96.7 2909.0 102.8 2910.1 103.3C2910.9 103.2 2911.7 102.6 2912.6 102.5C2913.6 103.1 2914.6 111.0 2915.6 111.6C2916.5 111.5 2917.5 110.2 2918.4 110.1C2919.4 110.9 2920.4 119.3 2921.4 122.2C2922.2 124.2 2923.1 125.8 2923.9 126.0C2925.2 126.0 2926.5 125.3 2927.7 125.2C2928.6 125.4 2929.4 127.1 2930.2 127.3C2931.1 126.8 2931.9 121.4 2932.8 121.0C2934.0 121.2 2935.3 123.6 2936.5 125.2C2937.8 127.0 2939.1 129.3 2940.3 131.1C2942.0 133.1 2943.7 134.7 2945.4 136.1C2947.5 137.6 2949.6 138.5 2951.7 139.4C2953.4 140.0 2955.1 140.6 2956.7 140.6C2959.3 140.6 2961.8 140.3 2964.3 139.9C2966.8 139.3 2969.4 137.5 2971.9 137.4C2973.6 137.5 2975.2 139.7 2976.9 139.9C2978.6 139.7 2980.3 137.8 2982.0 137.4C2984.5 136.9 2987.0 136.7 2989.5 136.6C2991.2 136.7 2992.9 137.8 2994.6 137.9C2996.3 137.7 2997.9 135.7 2999.6 135.6C3003.0 135.7 3006.4 136.8 3009.7 136.9C3012.2 136.6 3014.8 133.8 3017.3 133.6C3018.6 133.7 3019.8 134.8 3021.1 134.8C3022.8 134.8 3024.4 133.7 3026.1 133.6C3027.8 133.8 3029.5 136.4 3031.2 136.6C3033.3 136.4 3035.4 133.3 3037.5 133.1C3039.2 133.4 3040.8 138.3 3042.5 138.6C3043.4 138.6 3044.2 137.9 3045.0 137.9C3046.1 138.0 3047.2 140.2 3048.3 140.4C3049.5 139.8 3050.7 131.7 3051.9 131.1C3054.2 131.3 3056.6 135.1 3058.9 135.3C3061.5 135.1 3064.0 132.5 3066.5 132.3C3068.6 132.4 3070.7 133.1 3072.8 133.6C3074.9 134.1 3077.0 135.2 3079.1 135.3C3080.4 135.2 3081.6 133.0 3082.9 132.8C3084.6 133.2 3086.3 137.8 3087.9 138.1C3089.6 137.9 3091.3 135.9 3093.0 135.3C3096.4 134.6 3099.7 134.2 3103.1 134.1C3105.2 134.2 3107.3 135.5 3109.4 135.6C3111.1 135.4 3112.8 132.5 3114.4 132.3C3115.7 132.4 3117.0 132.8 3118.2 133.6C3119.9 134.8 3121.6 138.8 3123.3 139.1C3124.7 138.7 3126.1 132.8 3127.6 132.3C3130.3 132.4 3133.1 133.3 3135.9 133.6C3138.4 133.8 3140.9 134.0 3143.5 134.1C3146.0 134.0 3148.5 132.9 3151.0 132.8C3153.1 133.0 3155.2 134.7 3157.3 134.8C3159.9 134.7 3162.4 132.5 3164.9 132.3C3167.0 132.4 3169.1 132.9 3171.2 133.1C3173.6 133.3 3175.9 133.5 3178.3 133.6C3179.1 133.2 3180.0 127.7 3180.8 127.3C3182.2 127.6 3183.7 130.9 3185.1 131.8C3186.8 132.6 3188.5 133.0 3190.1 133.1C3192.2 132.7 3194.3 127.7 3196.4 127.3C3198.1 127.5 3199.8 130.8 3201.5 131.1C3203.2 130.8 3204.9 127.5 3206.5 127.3C3207.4 127.5 3208.2 130.3 3209.1 130.5C3210.6 130.2 3212.1 126.3 3213.6 126.0C3215.3 126.7 3217.0 135.4 3218.7 136.1C3220.5 135.7 3222.4 130.7 3224.2 130.3C3225.5 130.4 3226.7 132.2 3228.0 132.3C3230.5 131.8 3233.0 125.7 3235.6 125.2C3237.2 125.9 3238.9 134.2 3240.6 134.8C3243.5 134.4 3246.5 128.5 3249.4 128.0C3250.3 128.1 3251.1 129.7 3252.0 129.8C3253.5 129.7 3255.0 129.5 3256.5 129.0C3257.7 128.4 3258.9 124.6 3260.0 124.2C3261.4 124.7 3262.7 130.6 3264.1 131.1C3266.3 130.7 3268.6 126.3 3270.9 126.0C3272.6 126.3 3274.2 130.0 3275.9 130.3C3276.8 130.2 3277.6 129.1 3278.5 129.0C3279.5 129.3 3280.6 132.1 3281.7 132.3C3284.3 131.7 3286.8 124.1 3289.3 123.5C3291.2 123.7 3293.0 125.3 3294.9 126.0C3296.5 126.6 3298.2 127.2 3299.9 127.3C3301.6 127.0 3303.3 123.7 3304.9 123.5C3306.6 123.7 3308.3 126.1 3310.0 127.3C3311.7 128.4 3313.4 130.3 3315.0 130.5C3316.3 130.1 3317.6 124.0 3318.8 123.5C3319.9 123.9 3321.0 128.9 3322.1 129.3C3323.5 129.0 3325.0 125.5 3326.4 125.2C3331.9 125.2 3337.3 125.2 3342.8 125.2C3344.5 124.9 3346.2 120.1 3347.8 119.7C3349.5 120.3 3351.2 127.9 3352.9 128.5C3355.4 128.4 3357.9 126.7 3360.5 126.0C3363.0 125.3 3365.5 125.3 3368.0 124.2C3369.0 123.6 3370.0 121.2 3371.1 121.0C3372.6 121.5 3374.1 129.2 3375.6 129.8C3378.5 129.5 3381.5 126.3 3384.4 126.0C3386.5 126.1 3388.6 126.7 3390.7 126.8C3392.0 126.6 3393.3 124.9 3394.5 124.7C3395.8 125.1 3397.0 129.5 3398.3 129.8C3400.0 129.5 3401.7 125.6 3403.4 125.2C3405.0 125.6 3406.7 129.5 3408.4 129.8C3410.5 129.5 3412.6 127.6 3414.7 126.0C3416.1 124.9 3417.6 122.5 3419.0 122.2C3420.9 122.6 3422.9 126.0 3424.8 127.3C3426.1 128.0 3427.3 128.9 3428.6 129.0C3431.1 128.9 3433.6 127.4 3436.2 127.3C3438.3 127.3 3440.4 127.3 3442.5 127.3C3443.5 126.7 3444.5 119.7 3445.5 119.2C3446.6 119.6 3447.7 124.4 3448.8 124.7C3449.6 124.7 3450.5 124.1 3451.3 123.5" stroke="#E4007F"/>
<path class="c" d="M2840.7 238.3C2842.3 241.8 2844.0 245.4 2845.7 248.4C2847.4 251.2 2849.1 253.8 2850.8 256.0C2852.9 258.4 2855.0 259.9 2857.1 261.5C2859.6 263.2 2862.1 264.3 2864.6 265.5C2866.7 266.5 2868.8 267.9 2870.9 268.1C2871.6 267.4 2872.3 262.8 2873.0 258.5C2873.6 253.7 2874.3 242.9 2875.0 240.8C2875.5 240.1 2876.0 239.6 2876.5 239.6C2877.0 239.7 2877.5 241.2 2878.0 241.3C2878.5 241.1 2879.0 240.1 2879.5 238.3C2880.2 234.8 2880.9 224.8 2881.5 218.1C2882.2 211.4 2882.9 203.3 2883.6 197.9C2884.4 192.1 2885.2 189.1 2886.1 186.6C2886.9 184.6 2887.8 183.5 2888.6 183.3C2889.3 184.3 2890.0 195.9 2890.6 197.9C2891.5 199.4 2892.3 200.3 2893.1 200.4C2894.0 200.2 2894.8 196.4 2895.7 196.2C2896.3 196.6 2896.8 201.0 2897.4 203.0C2899.1 208.0 2900.8 208.7 2902.5 211.8C2903.7 214.2 2905.0 218.0 2906.3 219.4C2907.3 220.1 2908.3 220.5 2909.3 220.6C2910.0 220.2 2910.6 214.7 2911.3 214.3C2912.0 215.1 2912.7 222.9 2913.3 225.7C2914.3 229.0 2915.4 230.9 2916.4 231.2C2917.2 231.1 2918.0 229.1 2918.9 229.0C2920.1 229.3 2921.4 233.0 2922.7 234.5C2924.8 236.7 2926.9 237.1 2929.0 238.3C2930.7 239.2 2932.3 240.6 2934.0 240.8C2935.3 240.8 2936.5 240.3 2937.8 240.3C2939.1 240.7 2940.3 246.2 2941.6 246.6C2942.9 246.6 2944.1 245.9 2945.4 245.9C2946.2 246.0 2947.1 246.9 2947.9 247.9C2949.0 249.4 2950.1 253.5 2951.2 253.9C2952.2 253.7 2953.2 250.8 2954.2 250.2C2955.5 249.5 2956.7 249.2 2958.0 249.1C2959.7 249.4 2961.4 253.1 2963.0 253.4C2965.1 253.3 2967.2 252.5 2969.4 252.2C2972.3 251.8 2975.2 251.8 2978.2 251.4C2981.1 251.0 2984.1 250.5 2987.0 249.6C2988.3 249.3 2989.5 248.5 2990.8 248.4C2992.9 248.7 2995.0 253.1 2997.1 253.4C2999.5 253.0 3001.8 247.5 3004.2 247.1C3005.6 247.3 3007.0 249.0 3008.5 249.1C3010.1 248.8 3011.8 244.9 3013.5 244.6C3014.8 244.9 3016.0 248.8 3017.3 249.1C3019.0 249.0 3020.7 247.3 3022.3 247.1C3025.7 247.2 3029.1 247.9 3032.4 248.4C3035.4 248.9 3038.3 249.4 3041.3 250.2C3043.2 250.7 3045.1 252.0 3047.1 252.2C3048.5 251.8 3049.9 246.3 3051.4 245.9C3052.6 246.0 3053.9 247.7 3055.1 247.9C3056.4 247.7 3057.7 246.0 3058.9 245.9C3060.0 246.0 3061.1 248.2 3062.2 248.4C3063.6 248.2 3065.1 246.0 3066.5 245.9C3068.6 246.1 3070.7 249.4 3072.8 249.6C3074.7 249.3 3076.5 244.5 3078.4 244.1C3081.1 244.6 3083.9 250.5 3086.7 250.9C3088.1 250.5 3089.5 245.5 3091.0 245.1C3092.5 245.4 3094.0 249.3 3095.5 249.6C3098.0 249.5 3100.6 248.2 3103.1 247.6C3105.6 247.2 3108.1 246.7 3110.7 246.6C3112.8 246.8 3114.9 248.7 3117.0 248.9C3119.1 248.9 3121.2 248.4 3123.3 248.4C3125.8 248.5 3128.3 249.6 3130.8 249.6C3132.5 249.3 3134.2 245.4 3135.9 245.1C3137.6 245.4 3139.3 248.6 3140.9 248.9C3142.4 248.6 3144.0 244.9 3145.5 244.6C3146.5 244.7 3147.5 246.5 3148.5 246.6C3150.0 246.4 3151.5 243.1 3153.0 242.8C3155.3 243.1 3157.6 246.4 3159.9 246.6C3162.0 246.5 3164.1 244.7 3166.2 244.1C3167.7 243.7 3169.2 243.4 3170.7 243.3C3171.9 243.7 3173.1 248.1 3174.2 248.4C3177.0 248.1 3179.8 243.7 3182.6 243.3C3183.8 243.6 3185.1 246.9 3186.4 247.1C3188.5 247.0 3190.6 244.8 3192.7 244.6C3193.9 244.7 3195.2 245.3 3196.4 245.4C3198.1 245.1 3199.8 241.6 3201.5 241.3C3203.2 241.7 3204.9 246.7 3206.5 247.1C3208.6 246.9 3210.7 244.3 3212.8 243.3C3215.0 242.6 3217.1 242.2 3219.2 242.1C3221.7 242.2 3224.2 242.8 3226.7 243.3C3229.2 243.9 3231.8 245.2 3234.3 245.4C3235.6 245.2 3236.8 242.8 3238.1 242.6C3239.2 242.8 3240.3 245.6 3241.4 245.9C3243.2 245.6 3245.1 241.6 3246.9 241.3C3248.6 241.5 3250.3 243.0 3252.0 243.3C3254.5 243.6 3257.0 243.8 3259.5 243.8C3261.6 243.7 3263.7 243.0 3265.8 242.1C3267.9 240.9 3270.0 237.8 3272.1 237.5C3273.8 238.0 3275.5 243.7 3277.2 244.1C3278.9 243.8 3280.6 239.4 3282.2 239.1C3283.9 239.3 3285.6 242.3 3287.3 242.6C3289.4 242.3 3291.5 238.1 3293.6 237.8C3295.3 238.1 3297.0 241.8 3298.6 242.1C3301.6 241.9 3304.5 239.3 3307.5 239.1C3310.4 239.2 3313.4 240.7 3316.3 240.8C3317.4 240.6 3318.5 237.3 3319.6 237.0C3321.0 237.1 3322.4 237.8 3323.9 238.3C3326.8 239.3 3329.8 241.8 3332.7 242.1C3334.8 241.9 3336.9 239.7 3339.0 239.6C3340.7 239.6 3342.4 240.7 3344.1 240.8C3345.7 240.6 3347.4 239.5 3349.1 237.8C3349.8 237.0 3350.5 235.2 3351.1 235.0C3352.1 235.3 3353.1 238.8 3354.2 239.1C3355.8 239.0 3357.5 237.9 3359.2 237.8C3362.1 237.9 3365.1 238.7 3368.0 239.6C3370.6 240.4 3373.1 242.4 3375.6 242.6C3379.0 242.4 3382.3 239.8 3385.7 239.6C3388.2 239.6 3390.7 240.0 3393.3 240.1C3394.5 239.9 3395.8 237.7 3397.0 237.5C3398.7 237.6 3400.4 238.0 3402.1 238.8C3403.4 239.5 3404.6 241.4 3405.9 241.6C3407.1 241.3 3408.4 237.8 3409.7 237.5C3411.3 237.8 3413.0 240.6 3414.7 241.6C3416.0 242.1 3417.2 242.5 3418.5 242.6C3419.5 242.2 3420.5 237.9 3421.5 237.5C3422.6 237.8 3423.7 240.6 3424.8 240.8C3425.6 240.6 3426.5 238.5 3427.3 238.3C3429.4 238.6 3431.5 242.3 3433.6 242.6C3436.2 242.2 3438.7 237.9 3441.2 237.5C3442.5 237.8 3443.7 241.8 3445.0 242.1C3447.1 241.9 3449.2 240.7 3451.3 239.6" stroke="#F0942C"/>
<path class="c" d="M2840.7 344.7C2841.9 347.2 2843.2 349.6 2844.4 352.3C2845.7 355.1 2847.0 358.6 2848.2 361.1C2849.9 364.2 2851.6 366.0 2853.3 368.0C2855.4 370.2 2857.5 371.6 2859.6 373.0C2861.7 374.2 2863.8 374.7 2865.9 375.8C2867.4 376.6 2868.9 378.1 2870.4 378.3C2871.1 377.8 2871.8 374.5 2872.5 370.0C2873.1 364.6 2873.8 351.8 2874.5 348.5C2875.0 347.0 2875.5 346.2 2876.0 346.0C2876.5 346.1 2877.0 347.7 2877.5 347.8C2878.0 347.5 2878.5 346.4 2879.0 344.2C2879.7 340.4 2880.4 331.4 2881.0 324.6C2881.7 317.6 2882.4 308.6 2883.1 303.1C2883.7 298.5 2884.4 295.6 2885.1 294.3C2885.9 293.2 2886.8 292.6 2887.6 292.5C2888.4 292.7 2889.3 293.9 2890.1 295.5C2891.1 298.0 2892.1 304.2 2893.1 305.6C2894.0 306.4 2894.8 306.8 2895.7 306.9C2896.5 306.7 2897.4 304.5 2898.2 304.4C2899.6 304.9 2901.1 309.2 2902.5 311.9C2904.2 315.4 2905.8 322.0 2907.5 323.3C2908.8 323.8 2910.1 323.6 2911.3 324.1C2912.6 324.8 2913.8 328.5 2915.1 329.6C2916.2 330.4 2917.3 330.1 2918.4 330.9C2919.6 332.1 2920.7 337.1 2921.9 339.2C2923.3 341.2 2924.6 341.9 2926.0 342.7C2928.2 343.9 2930.5 343.5 2932.8 344.7C2934.4 345.9 2936.1 348.0 2937.8 349.8C2939.5 351.6 2941.2 353.8 2942.9 355.3C2945.0 357.1 2947.1 358.5 2949.2 359.4C2952.5 360.4 2955.9 360.7 2959.3 361.1C2962.2 361.5 2965.1 361.9 2968.1 361.9C2970.2 361.8 2972.3 361.0 2974.4 360.4C2976.5 359.7 2978.6 358.3 2980.7 358.1C2982.4 358.3 2984.1 360.2 2985.8 360.4C2987.9 360.1 2990.0 355.7 2992.1 355.3C2993.7 355.4 2995.4 356.0 2997.1 356.6C2999.0 357.4 3000.8 359.7 3002.7 359.9C3004.2 359.5 3005.7 354.0 3007.2 353.6C3008.5 353.7 3009.7 355.9 3011.0 356.1C3013.1 356.0 3015.2 354.2 3017.3 354.1C3020.7 354.2 3024.0 355.3 3027.4 355.3C3029.9 355.3 3032.4 354.2 3035.0 354.1C3038.3 354.2 3041.7 355.4 3045.0 356.1C3048.0 356.7 3050.9 357.7 3053.9 357.9C3056.0 357.5 3058.1 352.7 3060.2 352.3C3061.9 352.3 3063.6 352.5 3065.2 352.8C3068.6 353.7 3072.0 357.1 3075.3 357.4C3076.8 357.3 3078.4 357.2 3079.9 356.9C3081.5 356.2 3083.1 351.4 3084.7 351.1C3086.6 351.6 3088.5 358.1 3090.5 358.6C3093.8 358.4 3097.2 356.1 3100.6 355.3C3103.5 354.8 3106.4 354.4 3109.4 354.3C3112.3 354.4 3115.3 355.5 3118.2 355.6C3121.6 355.5 3125.0 354.2 3128.3 354.1C3131.3 354.1 3134.2 354.1 3137.1 354.1C3139.7 353.9 3142.2 352.0 3144.7 351.8C3146.8 351.9 3148.9 352.9 3151.0 353.6C3152.7 354.1 3154.4 355.2 3156.1 355.3C3157.8 355.3 3159.4 355.1 3161.1 354.8C3162.6 354.4 3164.1 351.8 3165.7 351.6C3167.1 351.9 3168.5 357.0 3170.0 357.4C3171.9 356.7 3173.8 348.6 3175.8 348.0C3177.2 348.3 3178.6 351.4 3180.0 352.8C3181.5 354.2 3182.9 356.4 3184.3 356.6C3186.7 356.1 3189.0 349.1 3191.4 348.5C3192.9 348.8 3194.4 352.5 3195.9 352.8C3197.8 352.7 3199.6 350.7 3201.5 350.5C3203.2 350.5 3204.9 350.5 3206.5 350.5C3208.6 350.8 3210.7 353.4 3212.8 353.6C3214.5 353.2 3216.2 348.9 3217.9 348.5C3219.6 348.7 3221.3 351.6 3222.9 351.8C3225.0 351.8 3227.1 351.1 3229.2 351.1C3231.4 351.1 3233.5 352.2 3235.6 352.3C3238.5 352.1 3241.4 348.8 3244.4 348.5C3246.1 348.7 3247.8 350.4 3249.4 350.5C3251.0 350.2 3252.5 346.3 3254.0 346.0C3255.2 346.3 3256.3 350.7 3257.5 351.1C3259.0 350.9 3260.5 348.2 3262.1 348.0C3263.7 348.0 3265.4 348.0 3267.1 348.0C3268.6 347.8 3270.1 344.5 3271.6 344.2C3273.5 344.7 3275.3 350.1 3277.2 350.5C3278.9 350.4 3280.6 349.1 3282.2 348.5C3284.6 347.8 3286.9 346.9 3289.3 346.8C3290.7 347.1 3292.2 351.5 3293.6 351.8C3295.7 351.5 3297.8 348.2 3299.9 346.5C3301.8 345.0 3303.6 342.5 3305.5 342.2C3307.0 342.6 3308.5 347.4 3310.0 347.8C3311.3 347.7 3312.5 346.1 3313.8 346.0C3315.5 346.1 3317.1 347.2 3318.8 347.3C3322.2 347.1 3325.6 344.4 3328.9 344.2C3331.4 344.6 3334.0 349.0 3336.5 349.3C3337.9 349.0 3339.3 345.0 3340.8 344.7C3342.1 345.1 3343.5 349.5 3344.8 349.8C3346.5 349.5 3348.2 345.6 3349.9 345.2C3353.4 345.6 3356.9 350.2 3360.5 350.5C3363.8 350.0 3367.2 343.2 3370.6 342.7C3372.7 342.9 3374.8 344.5 3376.9 345.2C3378.5 345.8 3380.2 346.7 3381.9 346.8C3384.9 346.8 3387.8 346.8 3390.7 346.8C3392.4 346.5 3394.1 343.7 3395.8 343.5C3397.3 343.8 3398.8 348.2 3400.3 348.5C3401.8 348.3 3403.2 345.9 3404.6 345.5C3407.6 345.0 3410.5 345.0 3413.5 344.7C3416.0 344.5 3418.5 344.0 3421.0 344.0C3423.1 344.2 3425.2 347.5 3427.3 347.8C3428.6 347.7 3429.9 346.8 3431.1 346.8C3433.6 347.0 3436.2 349.6 3438.7 349.8C3440.2 349.7 3441.7 349.3 3443.2 348.5C3444.4 347.8 3445.6 345.5 3446.8 345.2C3448.3 345.4 3449.8 346.3 3451.3 347.3" stroke="#3AAA35"/>
<path class="c" d="M2840.7 456.3C2842.3 459.5 2844.0 462.8 2845.7 465.9C2847.4 468.9 2849.1 472.0 2850.8 474.7C2852.4 477.2 2854.1 479.6 2855.8 481.5C2857.5 483.2 2859.2 484.4 2860.8 485.3C2862.5 486.0 2864.2 486.0 2865.9 486.6C2867.4 487.1 2868.9 488.4 2870.4 488.6C2871.1 488.0 2871.8 484.4 2872.5 479.7C2873.1 474.3 2873.8 461.5 2874.5 458.3C2875.0 456.8 2875.5 455.9 2876.0 455.8C2876.5 455.9 2877.0 457.7 2877.5 457.8C2878.0 457.6 2878.5 456.5 2879.0 454.5C2879.7 450.9 2880.4 442.4 2881.0 435.6C2881.7 428.5 2882.4 418.4 2883.1 412.9C2883.6 408.9 2884.2 407.7 2884.8 405.8C2885.3 404.4 2885.8 403.0 2886.3 402.8C2887.1 403.5 2887.8 412.2 2888.6 412.9C2889.9 412.7 2891.1 410.0 2892.4 409.8C2893.7 410.3 2894.9 414.5 2896.2 416.7C2897.4 418.8 2898.7 420.9 2900.0 423.0C2901.2 425.1 2902.5 427.4 2903.7 429.3C2905.4 431.7 2907.1 433.4 2908.8 435.6C2910.1 437.2 2911.3 439.0 2912.6 440.6C2913.4 441.7 2914.3 443.7 2915.1 443.9C2916.2 443.8 2917.3 442.7 2918.4 442.6C2919.2 443.3 2920.1 449.4 2920.9 452.0C2921.7 454.2 2922.6 456.1 2923.4 457.0C2924.9 458.1 2926.3 458.7 2927.7 458.8C2928.8 458.6 2929.9 457.3 2931.0 456.5C2932.0 455.7 2933.0 454.2 2934.0 454.0C2935.5 454.5 2937.1 460.1 2938.6 462.1C2940.0 463.6 2941.4 463.7 2942.9 464.6C2945.0 466.1 2947.1 468.2 2949.2 469.6C2951.3 471.0 2953.4 472.7 2955.5 472.9C2957.2 472.7 2958.8 469.9 2960.5 469.6C2962.2 470.0 2963.9 474.4 2965.6 474.7C2967.7 474.6 2969.8 474.0 2971.9 472.9C2973.6 471.8 2975.2 468.2 2976.9 467.9C2978.2 468.0 2979.4 469.9 2980.7 470.2C2982.8 470.3 2984.9 470.4 2987.0 470.4C2989.5 470.3 2992.1 468.5 2994.6 468.4C2995.8 468.4 2997.1 469.1 2998.4 469.1C2999.8 468.9 3001.2 465.4 3002.7 465.1C3004.2 465.3 3005.7 468.2 3007.2 468.4C3008.5 468.3 3009.7 466.5 3011.0 466.4C3012.7 466.4 3014.3 466.6 3016.0 466.6C3017.3 466.4 3018.6 463.6 3019.8 463.3C3021.5 463.6 3023.2 467.6 3024.9 467.9C3026.1 467.8 3027.4 466.7 3028.6 466.6C3030.3 466.8 3032.0 468.7 3033.7 468.9C3035.0 468.8 3036.2 468.5 3037.5 467.9C3039.2 466.7 3040.8 462.0 3042.5 461.6C3044.2 461.9 3045.9 466.8 3047.6 467.1C3049.3 467.0 3050.9 465.7 3052.6 465.4C3055.1 464.9 3057.7 464.7 3060.2 464.6C3063.1 464.9 3066.1 468.6 3069.0 468.9C3071.5 468.4 3074.1 462.1 3076.6 461.6C3078.3 461.9 3080.0 465.6 3081.6 465.9C3084.6 465.7 3087.5 463.5 3090.5 463.3C3092.2 463.6 3093.8 466.9 3095.5 467.1C3097.2 467.0 3098.9 465.9 3100.6 465.9C3101.8 465.9 3103.1 466.6 3104.3 466.6C3106.0 466.5 3107.7 465.2 3109.4 465.1C3110.2 465.2 3111.1 466.5 3111.9 466.6C3113.2 466.3 3114.4 462.4 3115.7 462.1C3117.2 462.5 3118.7 467.5 3120.2 467.9C3121.3 467.7 3122.3 465.5 3123.3 465.4C3124.1 465.5 3125.0 467.0 3125.8 467.1C3127.6 466.8 3129.5 463.1 3131.3 462.8C3133.3 463.0 3135.2 465.2 3137.1 465.4C3139.7 465.1 3142.2 461.8 3144.7 461.6C3146.8 461.7 3148.9 462.9 3151.0 463.3C3153.6 463.8 3156.1 464.0 3158.6 464.1C3161.1 464.0 3163.6 462.6 3166.2 462.1C3169.1 461.6 3172.1 461.4 3175.0 461.3C3177.9 461.5 3180.9 464.4 3183.8 464.6C3186.4 464.6 3188.9 464.4 3191.4 464.1C3193.1 463.9 3194.8 463.8 3196.4 463.3C3198.4 462.7 3200.3 460.5 3202.3 460.3C3204.5 460.7 3206.8 465.5 3209.1 465.9C3211.3 465.3 3213.6 457.6 3215.9 457.0C3217.1 457.3 3218.4 460.6 3219.7 460.8C3221.2 460.7 3222.7 458.9 3224.2 458.8C3226.7 458.8 3229.2 459.5 3231.8 459.6C3234.3 459.5 3236.8 459.1 3239.3 459.1C3241.7 459.1 3244.1 460.0 3246.4 460.1C3247.4 459.8 3248.4 456.8 3249.4 456.5C3250.7 456.9 3252.0 461.7 3253.2 462.1C3254.3 461.9 3255.4 459.0 3256.5 458.8C3258.4 458.9 3260.2 460.2 3262.1 460.3C3264.2 460.3 3266.3 460.0 3268.4 459.6C3271.3 458.9 3274.2 456.7 3277.2 456.5C3278.9 456.6 3280.6 457.7 3282.2 457.8C3283.9 457.7 3285.6 457.1 3287.3 457.0C3289.4 457.3 3291.5 459.5 3293.6 460.3C3295.3 460.8 3297.0 461.3 3298.6 461.3C3301.2 461.1 3303.7 458.0 3306.2 457.8C3308.3 457.9 3310.4 458.7 3312.5 458.8C3314.9 458.4 3317.2 453.6 3319.6 453.2C3321.4 453.5 3323.3 457.5 3325.1 457.8C3326.0 457.7 3326.8 457.1 3327.7 457.0C3329.3 457.3 3331.0 460.1 3332.7 460.3C3333.7 460.0 3334.7 456.5 3335.7 456.3C3337.2 456.8 3338.8 464.0 3340.3 464.6C3342.1 464.1 3344.0 457.8 3345.8 457.0C3347.8 456.7 3349.7 456.6 3351.6 456.5C3352.7 456.8 3353.8 460.5 3354.9 460.8C3356.6 460.2 3358.3 451.9 3360.0 451.2C3361.8 451.8 3363.7 459.0 3365.5 459.6C3367.9 459.3 3370.2 455.6 3372.6 455.3C3374.0 455.5 3375.4 458.8 3376.9 459.1C3378.3 458.8 3379.7 456.0 3381.2 455.8C3383.1 455.9 3385.0 457.7 3387.0 457.8C3388.6 457.5 3390.3 454.0 3392.0 453.8C3393.7 454.0 3395.4 456.8 3397.0 457.8C3399.2 458.8 3401.3 459.4 3403.4 459.6C3406.3 459.5 3409.2 459.2 3412.2 458.8C3413.9 458.5 3415.6 458.4 3417.2 457.8C3418.9 457.0 3420.6 454.3 3422.3 454.0C3424.0 454.3 3425.6 457.3 3427.3 457.8C3429.0 458.1 3430.7 458.3 3432.4 458.3C3433.5 458.0 3434.6 454.1 3435.7 453.8C3437.1 454.0 3438.5 456.8 3439.9 457.8C3442.5 459.2 3445.0 459.9 3447.5 460.1C3448.8 460.0 3450.0 459.5 3451.3 459.1" stroke="#65298F"/>
<path class="c" d="M2840.7 564.8C2841.9 567.9 2843.2 570.9 2844.4 573.7C2846.1 577.3 2847.8 580.8 2849.5 583.8C2851.2 586.5 2852.9 588.7 2854.5 590.6C2856.6 592.7 2858.7 593.9 2860.8 595.1C2862.5 596.0 2864.2 596.5 2865.9 597.1C2867.4 597.7 2868.9 598.8 2870.4 598.9C2871.1 598.3 2871.8 594.2 2872.5 590.1C2873.2 584.7 2874.0 572.4 2874.7 569.4C2875.2 568.2 2875.7 567.5 2876.2 567.4C2876.7 567.5 2877.3 569.2 2877.8 569.4C2878.3 568.8 2878.9 565.1 2879.5 561.1C2880.2 555.6 2880.9 546.8 2881.5 539.6C2882.2 532.5 2882.9 521.5 2883.6 518.2C2884.4 515.4 2885.2 513.9 2886.1 513.6C2887.3 513.8 2888.6 514.9 2889.9 515.6C2891.4 516.6 2892.9 516.9 2894.4 518.9C2895.4 520.5 2896.4 522.9 2897.4 525.7C2898.3 528.3 2899.1 534.0 2900.0 534.6C2901.1 534.5 2902.1 533.4 2903.2 533.3C2904.1 533.4 2904.9 533.8 2905.8 534.6C2906.8 535.9 2907.8 539.8 2908.8 542.1C2910.3 545.4 2911.8 549.9 2913.3 550.5C2914.5 550.4 2915.7 549.7 2916.9 549.7C2917.7 550.1 2918.5 553.6 2919.4 556.0C2920.2 558.6 2921.1 564.0 2921.9 564.8C2923.4 565.3 2924.9 565.3 2926.5 565.6C2927.3 565.8 2928.1 566.1 2929.0 566.1C2930.0 565.8 2931.0 561.9 2932.0 561.6C2932.8 561.8 2933.7 563.9 2934.5 565.3C2935.4 566.9 2936.2 570.1 2937.1 570.6C2938.4 570.9 2939.7 570.8 2941.1 571.1C2942.9 572.1 2944.8 577.5 2946.6 579.2C2948.3 580.4 2950.0 580.4 2951.7 581.2C2953.4 582.2 2955.1 584.3 2956.7 584.5C2958.4 584.2 2960.1 580.3 2961.8 580.0C2963.9 580.3 2966.0 584.2 2968.1 584.5C2970.0 584.2 2972.0 580.3 2973.9 580.0C2975.6 580.2 2977.3 583.5 2978.9 583.8C2980.4 583.3 2981.8 577.9 2983.2 577.5C2985.3 577.6 2987.4 579.1 2989.5 579.2C2991.2 578.9 2992.9 574.7 2994.6 574.4C2995.8 574.6 2997.1 577.3 2998.4 577.5C3000.5 577.3 3002.6 575.9 3004.7 575.7C3008.0 575.5 3011.4 575.5 3014.8 575.4C3018.6 575.3 3022.3 575.0 3026.1 574.9C3029.1 575.1 3032.0 576.8 3035.0 577.0C3037.5 576.7 3040.0 573.4 3042.5 573.2C3044.6 573.2 3046.7 574.3 3048.8 574.4C3051.4 574.3 3053.9 572.5 3056.4 572.4C3060.6 572.5 3064.8 573.1 3069.0 573.2C3070.5 572.8 3072.0 568.2 3073.6 567.9C3075.0 568.2 3076.4 571.3 3077.9 572.4C3079.5 573.5 3081.2 574.1 3082.9 574.2C3084.6 574.1 3086.3 573.8 3087.9 573.2C3089.2 572.3 3090.5 567.0 3091.7 566.6C3093.0 567.2 3094.3 574.4 3095.5 574.9C3097.6 574.8 3099.7 574.2 3101.8 573.2C3103.1 572.4 3104.3 570.1 3105.6 569.9C3107.1 570.1 3108.6 572.7 3110.2 572.9C3112.0 572.7 3113.9 570.6 3115.7 570.4C3118.2 570.4 3120.7 570.7 3123.3 571.1C3125.0 571.6 3126.6 572.9 3128.3 573.7C3129.8 574.4 3131.3 575.6 3132.9 575.7C3134.3 575.3 3135.7 570.3 3137.1 569.9C3139.3 570.1 3141.4 572.7 3143.5 572.9C3145.6 572.7 3147.7 570.1 3149.8 569.9C3151.2 570.1 3152.6 573.4 3154.1 573.7C3155.6 573.3 3157.1 569.0 3158.6 568.6C3159.9 568.8 3161.1 571.7 3162.4 571.9C3165.3 571.9 3168.3 571.2 3171.2 571.1C3174.6 571.1 3177.9 571.1 3181.3 571.1C3183.0 570.9 3184.7 567.6 3186.4 567.4C3187.6 567.5 3188.9 568.2 3190.1 569.4C3191.1 570.5 3192.2 573.4 3193.2 573.7C3194.7 573.2 3196.2 567.3 3197.7 566.9C3199.1 567.1 3200.6 570.9 3202.0 571.1C3203.5 570.8 3205.0 566.9 3206.5 566.6C3208.6 566.9 3210.7 570.8 3212.8 571.1C3214.8 570.8 3216.7 565.7 3218.7 565.3C3220.9 565.8 3223.2 571.9 3225.5 572.4C3227.6 572.1 3229.7 569.3 3231.8 567.9C3234.3 566.3 3236.8 563.9 3239.3 563.6C3241.0 563.9 3242.7 568.3 3244.4 568.6C3246.1 568.2 3247.8 563.2 3249.4 562.8C3250.3 563.2 3251.1 568.2 3252.0 568.6C3253.2 568.3 3254.5 563.9 3255.7 563.6C3257.2 564.0 3258.6 569.0 3260.0 569.4C3261.5 568.8 3263.1 561.6 3264.6 561.1C3266.3 561.3 3267.9 563.9 3269.6 564.8C3271.3 565.6 3273.0 565.5 3274.7 566.1C3276.4 566.8 3278.0 568.5 3279.7 568.6C3281.4 568.3 3283.1 563.9 3284.8 563.6C3287.3 563.7 3289.8 564.8 3292.3 564.8C3294.0 564.6 3295.7 562.0 3297.4 561.8C3298.6 562.0 3299.9 565.1 3301.2 565.3C3302.6 565.1 3304.0 562.0 3305.5 561.8C3307.4 562.1 3309.3 566.5 3311.3 566.9C3313.4 566.6 3315.5 563.0 3317.6 562.3C3319.7 561.9 3321.8 561.6 3323.9 561.6C3325.6 561.9 3327.2 567.0 3328.9 567.4C3331.0 567.0 3333.1 561.9 3335.2 561.6C3336.5 561.7 3337.8 563.0 3339.0 563.1C3341.5 562.9 3344.1 560.7 3346.6 560.5C3349.9 560.9 3353.3 565.3 3356.7 565.6C3359.0 565.3 3361.4 562.1 3363.7 561.8C3365.2 562.0 3366.6 564.2 3368.0 564.3C3369.3 564.2 3370.6 562.9 3371.8 562.3C3373.5 561.7 3375.2 561.1 3376.9 561.1C3378.1 561.3 3379.4 564.6 3380.6 564.8C3381.9 564.6 3383.2 562.0 3384.4 561.8C3386.5 562.0 3388.6 564.4 3390.7 565.3C3392.8 566.1 3394.9 566.8 3397.0 566.9C3398.3 566.6 3399.6 563.1 3400.8 562.8C3402.1 563.0 3403.4 564.3 3404.6 564.8C3406.3 565.5 3408.0 566.0 3409.7 566.1C3411.8 566.0 3413.9 564.2 3416.0 564.1C3418.1 564.1 3420.2 564.2 3422.3 564.3C3424.8 564.7 3427.3 567.2 3429.9 567.4C3432.8 567.1 3435.7 563.4 3438.7 563.1C3440.8 563.3 3442.9 565.9 3445.0 566.1C3447.1 566.0 3449.2 565.2 3451.3 564.3" stroke="#920783"/>
<text class="s" transform="translate(2922.8 65.5) scale(0.95 1)">54.3</text>
<text class="s" transform="translate(2926.6 176.0) scale(0.95 1)">53.6</text>
<text class="s" transform="translate(2923.6 286.8) scale(0.95 1)">53.6</text>
<text class="s" transform="translate(2923.6 396.8) scale(0.95 1)">53.6</text>
<text class="s" transform="translate(2922.8 508.3) scale(0.95 1)">53.7</text>
</g>
<g id="H5">
<path class="a" d="M11.6 1387.9V1377.5H756.3M147.0 1377.5v10.4M282.4 1377.5v10.4M417.8 1377.5v10.4M553.2 1377.5v10.4M688.6 1377.5v10.4"/>
<text class="t" transform="translate(13.6 1433.7) scale(0.965 1)" text-anchor="middle">0</text>
<text class="t" transform="translate(149.0 1433.7) scale(0.965 1)" text-anchor="middle">2</text>
<text class="t" transform="translate(284.4 1433.7) scale(0.965 1)" text-anchor="middle">4</text>
<text class="t" transform="translate(419.8 1433.7) scale(0.965 1)" text-anchor="middle">6</text>
<text class="t" transform="translate(555.2 1433.7) scale(0.965 1)" text-anchor="middle">8</text>
<text class="t" transform="translate(691.9 1433.7) scale(0.965 1)" text-anchor="middle">10</text>
<text class="t" transform="translate(384.6 1485.8) scale(0.985 1)" text-anchor="middle">2<tspan font-style="italic">θ</tspan>/(°)</text>
<text class="s" transform="translate(30.7 808.7) scale(0.95 1)">H5</text>
<path class="l" d="M700.0 826.0H743.0" stroke="#E4007F"/>
<text class="s" transform="translate(761.4 838.1) scale(0.95 1)">0</text>
<path class="l" d="M700.0 873.7H743.0" stroke="#F0942C"/>
<text class="s" transform="translate(761.4 885.8) scale(0.95 1)">5</text>
<path class="l" d="M700.0 921.4H743.0" stroke="#3AAA35"/>
<text class="s" transform="translate(761.4 933.5) scale(0.95 1)">15</text>
<path class="l" d="M700.0 969.2H743.0" stroke="#65298F"/>
<text class="s" transform="translate(761.4 981.3) scale(0.95 1)">25</text>
<path class="l" d="M700.0 1016.9H743.0" stroke="#920783"/>
<text class="s" transform="translate(761.4 1029.0) scale(0.95 1)">35</text>
<path class="c" d="M78.9 891.0C80.0 892.7 81.1 894.3 82.2 896.1C83.4 898.1 84.7 900.1 86.0 902.4C87.2 904.7 88.5 907.7 89.8 909.9C91.0 912.0 92.3 913.6 93.5 915.0C95.2 916.6 96.9 917.3 98.6 918.3C100.3 919.2 102.0 920.4 103.6 920.5C104.7 920.5 105.8 920.1 106.9 920.0C107.7 920.1 108.4 921.7 109.2 921.8C109.9 920.7 110.5 912.8 111.2 906.1C111.7 900.7 112.2 889.3 112.7 887.2C113.1 886.5 113.6 886.0 114.0 886.0C114.5 886.3 115.0 890.3 115.5 891.0C116.0 891.5 116.5 891.7 117.0 891.8C117.6 890.3 118.2 876.7 118.8 869.6C119.4 862.6 120.0 855.0 120.5 849.4C121.0 845.0 121.5 840.4 122.1 838.8C122.6 837.6 123.2 836.9 123.8 836.8C124.4 837.0 125.0 840.1 125.6 840.5C126.7 840.8 127.8 840.7 128.9 841.0C129.7 841.6 130.5 845.1 131.4 846.8C132.7 849.3 133.9 850.7 135.2 853.2C136.4 855.8 137.7 861.4 139.0 862.0C140.4 861.9 141.8 860.3 143.2 860.2C144.1 860.8 144.9 867.0 145.8 869.6C146.9 872.4 148.0 874.7 149.1 875.1C150.1 875.1 151.2 875.1 152.3 875.1C153.5 875.6 154.7 880.4 155.9 882.7C157.4 885.5 158.9 889.7 160.4 890.2C161.7 889.9 162.9 885.8 164.2 885.5C165.5 885.7 166.7 888.6 168.0 889.7C169.2 890.8 170.5 891.7 171.8 892.3C172.9 892.7 174.0 892.6 175.0 893.0C176.7 894.1 178.4 897.3 180.1 899.3C181.8 901.3 183.5 903.8 185.1 904.9C187.4 905.9 189.7 906.5 191.9 906.7C194.5 906.6 197.0 905.7 199.5 905.6C202.5 905.6 205.4 905.6 208.4 905.6C210.0 905.7 211.7 906.8 213.4 906.9C215.1 906.5 216.8 901.5 218.4 901.1C219.5 901.3 220.5 903.5 221.5 903.6C222.3 903.5 223.2 901.7 224.0 901.6C225.1 901.7 226.2 902.8 227.3 902.9C231.5 902.8 235.7 902.7 239.9 902.4C241.6 902.0 243.3 899.3 244.9 899.1C247.0 899.3 249.1 902.6 251.2 902.9C254.2 902.6 257.1 899.3 260.1 899.1C263.4 899.2 266.8 901.4 270.2 901.6C272.3 901.5 274.4 900.0 276.5 899.8C279.0 900.0 281.5 902.7 284.0 902.9C286.2 902.5 288.3 898.2 290.4 897.8C291.5 898.1 292.5 901.6 293.6 901.9C294.8 901.6 296.0 897.6 297.2 897.3C298.7 897.3 300.2 897.5 301.7 897.8C303.2 898.4 304.7 902.1 306.3 902.4C308.5 902.1 310.8 900.0 313.1 899.1C315.3 898.3 317.6 897.4 319.9 897.3C323.1 897.7 326.3 902.5 329.5 902.9C331.8 902.6 334.2 899.6 336.5 899.3C339.2 899.6 341.9 902.6 344.6 902.9C348.1 902.5 351.7 897.7 355.2 897.3C357.1 897.6 359.1 900.6 361.0 901.1C363.5 901.4 366.1 901.6 368.6 901.6C370.0 901.5 371.4 900.5 372.9 899.3C374.0 898.3 375.1 895.8 376.1 895.5C377.6 895.8 379.0 898.0 380.4 898.6C382.8 899.3 385.1 899.3 387.5 899.8C389.6 900.3 391.7 901.5 393.8 901.6C395.1 901.3 396.3 896.9 397.6 896.6C399.0 897.0 400.5 903.2 401.9 903.6C403.0 903.0 404.1 895.4 405.2 894.8C406.2 895.0 407.2 897.6 408.2 897.8C409.3 897.5 410.4 893.8 411.5 893.5C412.6 893.7 413.7 896.6 414.8 896.8C417.0 896.6 419.3 894.2 421.6 894.0C423.5 894.6 425.4 901.8 427.4 902.4C429.0 901.7 430.6 892.5 432.2 891.8C433.4 892.0 434.7 895.8 436.0 896.1C437.0 895.8 438.1 892.0 439.2 891.8C442.2 892.0 445.1 895.8 448.1 896.1C449.7 895.9 451.4 894.4 453.1 894.3C455.6 894.5 458.2 897.6 460.7 897.8C462.4 897.7 464.0 897.2 465.7 896.6C467.6 895.7 469.4 893.3 471.3 893.0C473.2 893.2 475.1 895.4 477.1 895.5C480.0 895.4 483.0 893.6 485.9 893.0C488.0 892.7 490.1 892.3 492.2 892.3C494.2 892.5 496.1 895.8 498.0 896.1C500.7 895.7 503.4 891.3 506.1 891.0C507.8 891.1 509.5 892.2 511.1 892.3C512.4 892.2 513.7 890.7 514.9 890.5C516.6 890.4 518.3 890.4 520.0 890.2C521.7 890.0 523.3 888.1 525.0 888.0C526.7 888.1 528.4 890.3 530.1 890.5C533.0 890.5 536.0 890.3 538.9 890.2C541.8 890.4 544.8 892.1 547.7 892.3C550.7 892.1 553.6 890.8 556.6 890.2C559.1 889.8 561.6 889.1 564.1 889.0C564.8 889.2 565.5 891.3 566.2 891.5C566.7 891.2 567.3 887.0 567.9 886.7C569.0 886.9 570.1 889.5 571.2 889.7C572.0 889.6 572.9 887.4 573.7 887.2C575.2 887.5 576.6 890.8 578.0 891.0C579.7 890.9 581.4 890.5 583.1 889.7C584.3 888.9 585.6 884.3 586.8 883.9C588.5 884.4 590.2 890.5 591.9 891.0C594.4 891.0 596.9 891.0 599.5 891.0C601.6 891.2 603.7 893.8 605.8 894.0C607.5 893.9 609.1 891.9 610.8 891.5C612.9 891.2 615.0 891.3 617.1 891.0C618.8 890.7 620.5 889.4 622.2 889.2C624.3 889.3 626.4 889.6 628.5 890.2C629.9 890.9 631.3 893.8 632.8 894.0C634.5 893.7 636.1 889.6 637.8 889.2C639.7 889.6 641.7 894.0 643.6 894.3C645.0 893.9 646.5 888.9 647.9 888.5C649.8 888.8 651.8 892.5 653.7 892.8C655.8 892.6 657.9 889.9 660.0 889.7C661.0 889.9 662.0 891.6 663.0 891.8C664.1 891.6 665.2 889.7 666.3 889.2C668.0 888.8 669.7 888.9 671.4 888.5C673.3 887.7 675.2 884.5 677.2 884.2C678.6 884.7 680.0 891.0 681.5 891.5C682.7 891.4 684.0 889.4 685.3 889.2C686.7 889.4 688.1 890.2 689.5 891.0" stroke="#E4007F"/>
<path class="c" d="M78.9 997.7C79.8 1001.5 80.8 1005.2 81.7 1008.3C82.7 1011.5 83.7 1014.2 84.7 1016.4C86.4 1019.6 88.1 1020.4 89.8 1022.2C91.9 1024.4 94.0 1026.4 96.1 1028.0C97.7 1029.2 99.4 1030.3 101.1 1031.0C103.2 1031.8 105.3 1032.2 107.4 1032.3C108.1 1032.1 108.8 1031.3 109.4 1029.8C110.0 1027.5 110.6 1019.0 111.2 1013.4C111.7 1008.5 112.2 1000.1 112.7 998.2C113.1 997.5 113.6 997.1 114.0 997.0C114.4 997.5 114.8 1004.1 115.2 1004.6C115.7 1004.5 116.3 1004.1 116.8 1003.3C117.3 1001.2 117.9 989.9 118.5 983.1C119.2 975.2 119.9 965.5 120.5 959.1C121.0 954.9 121.5 950.2 122.1 949.0C122.7 948.3 123.4 947.9 124.1 947.8C124.8 948.2 125.6 952.0 126.3 953.3C127.2 954.5 128.0 954.4 128.9 955.4C130.1 957.1 131.4 960.4 132.7 962.4C133.9 964.2 135.2 965.6 136.4 966.7C137.5 967.5 138.6 967.4 139.7 968.5C141.1 970.6 142.6 979.7 144.0 981.8C145.3 983.1 146.5 982.9 147.8 983.9C149.5 985.4 151.2 988.2 152.8 990.2C154.9 992.6 157.0 994.9 159.1 997.0C161.2 998.9 163.4 1001.0 165.5 1002.0C166.5 1002.4 167.5 1002.7 168.5 1002.8C169.3 1002.6 170.2 999.7 171.0 999.5C171.8 999.7 172.7 1000.8 173.5 1002.8C174.4 1005.2 175.2 1012.7 176.1 1013.4C177.1 1013.1 178.2 1008.7 179.3 1008.3C180.2 1008.5 181.0 1009.5 181.9 1010.4C183.1 1011.7 184.4 1015.1 185.6 1015.4C186.9 1015.4 188.2 1015.1 189.4 1014.6C190.3 1014.3 191.1 1013.0 191.9 1012.9C192.8 1013.1 193.6 1015.2 194.5 1015.4C195.3 1015.3 196.2 1014.2 197.0 1014.1C198.3 1014.5 199.5 1018.9 200.8 1019.2C201.8 1018.9 202.8 1015.0 203.8 1014.6C205.3 1014.9 206.8 1017.5 208.4 1017.7C212.1 1017.6 215.9 1017.2 219.7 1016.4C222.6 1015.6 225.6 1012.4 228.5 1012.1C230.6 1012.2 232.7 1013.8 234.8 1013.9C236.9 1013.7 239.1 1011.1 241.2 1010.9C242.4 1011.2 243.7 1015.6 244.9 1015.9C247.2 1015.5 249.5 1010.5 251.8 1010.1C253.3 1010.5 254.8 1015.5 256.3 1015.9C257.8 1015.8 259.3 1015.4 260.8 1014.6C262.5 1013.6 264.2 1009.9 265.9 1009.6C267.9 1009.9 269.9 1014.3 271.9 1014.6C273.9 1014.4 275.8 1011.4 277.7 1010.9C280.7 1010.4 283.6 1010.2 286.6 1010.1C289.9 1010.2 293.3 1011.5 296.7 1011.6C299.6 1011.6 302.6 1011.3 305.5 1010.9C307.4 1010.5 309.4 1009.7 311.3 1009.6C312.7 1009.9 314.2 1013.1 315.6 1013.4C316.9 1013.1 318.1 1009.1 319.4 1008.8C321.5 1009.0 323.6 1011.4 325.7 1011.6C330.7 1011.5 335.8 1009.7 340.8 1009.6C344.6 1009.7 348.4 1010.4 352.2 1011.6C354.3 1012.4 356.4 1014.4 358.5 1014.6C359.7 1014.0 361.0 1005.9 362.3 1005.3C363.5 1005.7 364.8 1010.0 366.1 1011.6C367.5 1013.2 368.9 1014.4 370.3 1014.6C373.1 1014.3 375.9 1009.2 378.7 1008.8C379.9 1009.0 381.2 1010.7 382.5 1010.9C384.1 1010.7 385.8 1008.0 387.5 1007.8C390.0 1008.2 392.6 1013.0 395.1 1013.4C396.8 1013.0 398.4 1008.2 400.1 1007.8C402.2 1008.0 404.3 1010.0 406.4 1010.1C408.1 1010.1 409.8 1009.6 411.5 1009.6C414.0 1009.7 416.5 1010.3 419.0 1010.4C421.0 1010.0 422.9 1004.9 424.8 1004.6C425.9 1004.8 426.9 1007.4 427.9 1007.6C429.1 1007.5 430.4 1006.4 431.7 1006.3C433.8 1006.5 435.9 1008.1 438.0 1009.1C439.8 1010.0 441.7 1011.9 443.5 1012.1C445.0 1011.6 446.5 1005.1 448.1 1004.6C449.3 1004.8 450.6 1007.4 451.8 1007.6C453.1 1007.3 454.4 1004.3 455.6 1004.1C458.2 1004.5 460.7 1009.7 463.2 1010.1C465.3 1009.9 467.4 1007.4 469.5 1006.6C470.9 1006.1 472.4 1006.3 473.8 1005.8C475.1 1005.2 476.5 1003.0 477.8 1002.8C480.1 1003.2 482.4 1008.7 484.7 1009.1C486.3 1008.7 488.0 1003.0 489.7 1002.5C491.1 1002.6 492.6 1003.1 494.0 1003.8C495.5 1004.7 497.0 1007.3 498.5 1007.6C500.0 1007.2 501.6 1002.9 503.1 1002.5C504.5 1002.7 505.9 1005.1 507.4 1005.3C509.3 1005.2 511.2 1003.4 513.2 1003.3C514.6 1003.5 516.0 1006.4 517.5 1006.6C518.7 1006.4 520.0 1003.8 521.2 1003.3C522.5 1003.0 523.8 1002.8 525.0 1002.8C526.7 1003.0 528.4 1004.7 530.1 1005.3C532.2 1006.0 534.3 1006.5 536.4 1006.6C539.7 1006.4 543.1 1003.5 546.5 1003.3C549.0 1003.4 551.5 1004.5 554.0 1004.6C556.1 1004.2 558.2 999.1 560.4 998.8C561.4 999.1 562.5 1003.0 563.6 1003.3C564.6 1003.0 565.6 999.1 566.7 998.8C569.2 999.3 571.7 1007.0 574.2 1007.6C575.3 1007.2 576.4 1001.9 577.5 1001.5C578.5 1001.7 579.5 1004.4 580.5 1004.6C582.6 1004.3 584.7 1001.5 586.8 1001.3C589.4 1001.5 591.9 1004.3 594.4 1004.6C596.1 1004.4 597.8 1001.7 599.5 1001.5C602.4 1001.7 605.3 1003.6 608.3 1003.8C610.4 1003.6 612.5 1001.4 614.6 1001.3C615.9 1001.5 617.1 1003.9 618.4 1004.1C619.6 1004.0 620.9 1003.3 622.2 1003.3C623.4 1003.4 624.7 1004.9 626.0 1005.1C627.2 1004.7 628.5 999.9 629.7 999.5C631.0 999.6 632.3 1001.2 633.5 1001.3C634.4 1001.1 635.2 999.2 636.0 999.0C636.6 999.2 637.2 1001.4 637.8 1001.5C638.7 1001.2 639.5 996.6 640.3 996.2C641.4 996.7 642.5 1002.7 643.6 1003.3C645.7 1003.6 647.8 1003.8 649.9 1003.8C652.9 1003.6 655.8 1000.5 658.8 1000.3C661.3 1000.5 663.8 1003.6 666.3 1003.8C667.6 1003.7 668.9 1002.9 670.1 1002.8C673.1 1003.0 676.0 1005.1 678.9 1005.3C681.5 1005.3 684.0 1005.3 686.5 1005.3C687.5 1005.3 688.5 1004.9 689.5 1004.6" stroke="#F0942C"/>
<path class="c" d="M78.9 1107.2C80.0 1110.7 81.1 1114.3 82.2 1117.3C83.4 1120.7 84.7 1123.6 86.0 1126.1C87.7 1129.3 89.3 1131.5 91.0 1133.7C92.7 1135.7 94.4 1137.4 96.1 1138.8C98.2 1140.3 100.3 1141.1 102.4 1142.0C104.3 1142.8 106.2 1143.7 108.2 1143.8C108.8 1143.2 109.4 1139.8 109.9 1135.0C110.5 1129.3 111.1 1116.9 111.7 1112.3C112.2 1109.2 112.7 1108.4 113.2 1107.2C113.6 1106.5 114.1 1106.0 114.5 1106.0C114.9 1106.3 115.3 1110.7 115.7 1111.0C116.2 1110.9 116.6 1110.5 117.0 1109.7C117.6 1107.3 118.2 1094.3 118.8 1087.0C119.4 1080.0 120.0 1071.9 120.5 1066.8C121.0 1063.2 121.5 1060.3 122.1 1059.8C123.1 1059.8 124.1 1060.5 125.1 1060.5C126.1 1060.4 127.1 1058.9 128.1 1058.8C129.2 1058.8 130.3 1059.2 131.4 1059.8C132.2 1060.8 133.1 1067.1 133.9 1069.4C134.8 1071.2 135.6 1072.2 136.4 1072.4C137.3 1072.4 138.1 1071.9 139.0 1071.9C140.2 1072.5 141.5 1078.0 142.7 1080.7C144.3 1083.8 145.8 1088.5 147.3 1089.1C148.3 1088.9 149.3 1087.2 150.3 1087.0C151.3 1087.7 152.3 1094.5 153.3 1097.1C154.4 1099.6 155.5 1100.7 156.6 1102.2C158.3 1104.2 160.0 1105.3 161.7 1106.7C163.4 1108.0 165.0 1109.9 166.7 1110.2C168.4 1110.4 170.1 1110.4 171.8 1110.5C173.4 1110.8 175.1 1112.3 176.8 1113.5C178.5 1114.9 180.2 1116.7 181.9 1118.6C183.5 1120.5 185.2 1123.1 186.9 1124.9C188.2 1126.1 189.4 1127.7 190.7 1127.9C192.1 1127.6 193.5 1123.9 195.0 1123.6C196.5 1123.8 198.0 1126.0 199.5 1126.1C201.2 1126.0 202.9 1124.5 204.6 1124.4C206.7 1124.5 208.8 1126.5 210.9 1126.7C213.8 1126.4 216.8 1124.5 219.7 1123.6C222.6 1122.9 225.6 1122.1 228.5 1121.9C231.5 1121.7 234.4 1121.8 237.4 1121.6C239.1 1121.2 240.7 1117.6 242.4 1117.3C243.7 1117.5 244.9 1119.5 246.2 1120.3C247.0 1120.9 247.9 1121.8 248.7 1121.9C250.0 1121.6 251.2 1118.3 252.5 1118.1C254.2 1118.3 255.9 1121.6 257.6 1121.9C259.2 1121.7 260.9 1120.0 262.6 1119.8C263.9 1119.9 265.1 1121.0 266.4 1121.1C267.4 1120.8 268.4 1116.9 269.4 1116.6C270.5 1117.1 271.6 1124.3 272.7 1124.9C274.4 1124.4 276.1 1118.5 277.7 1118.1C279.8 1118.1 281.9 1118.4 284.0 1118.6C287.4 1118.8 290.8 1119.3 294.1 1119.3C298.8 1119.3 303.4 1118.6 308.0 1118.6C310.1 1118.7 312.2 1120.2 314.3 1120.3C316.9 1120.3 319.4 1120.1 321.9 1119.8C323.6 1119.5 325.3 1117.5 326.9 1117.3C328.8 1117.7 330.6 1122.0 332.5 1122.4C334.9 1122.0 337.2 1117.9 339.6 1117.3C342.5 1117.0 345.4 1116.8 348.4 1116.8C351.8 1117.0 355.1 1119.6 358.5 1119.8C361.0 1119.7 363.5 1117.5 366.1 1117.3C368.2 1117.4 370.3 1118.5 372.4 1118.6C374.0 1118.5 375.7 1117.4 377.4 1117.3C380.8 1117.6 384.1 1120.8 387.5 1121.1C388.8 1120.7 390.0 1115.2 391.3 1114.8C393.0 1115.0 394.7 1118.3 396.3 1118.6C397.2 1118.5 398.0 1116.9 398.9 1116.8C401.0 1117.0 403.1 1119.6 405.2 1119.8C407.0 1119.6 408.9 1118.3 410.7 1116.1C411.6 1114.7 412.6 1111.3 413.5 1111.0C414.8 1111.6 416.0 1119.2 417.3 1119.8C418.7 1119.6 420.1 1116.6 421.6 1115.5C423.7 1114.3 425.8 1113.7 427.9 1113.5C429.6 1113.6 431.2 1114.1 432.9 1114.8C434.6 1115.6 436.3 1117.6 438.0 1117.8C439.8 1117.5 441.7 1113.1 443.5 1112.8C445.0 1113.0 446.5 1115.4 448.1 1115.5C450.6 1115.4 453.1 1114.3 455.6 1113.5C458.7 1112.6 461.9 1110.7 465.0 1110.5C466.2 1110.8 467.5 1115.2 468.8 1115.5C470.4 1115.1 472.1 1109.7 473.8 1109.2C475.3 1109.6 476.8 1114.4 478.3 1114.8C481.7 1114.8 485.1 1114.6 488.4 1114.3C491.0 1114.0 493.5 1113.5 496.0 1112.3C497.4 1111.4 498.9 1108.0 500.3 1107.7C501.8 1108.1 503.3 1113.1 504.8 1113.5C506.5 1113.3 508.2 1110.7 509.9 1110.5C511.1 1110.7 512.4 1113.3 513.7 1113.5C515.4 1113.1 517.0 1107.2 518.7 1106.7C519.6 1106.8 520.4 1107.1 521.2 1107.7C522.5 1109.0 523.8 1113.8 525.0 1114.3C527.1 1114.1 529.2 1111.6 531.3 1111.0C533.4 1110.6 535.5 1110.7 537.6 1110.2C539.1 1109.7 540.5 1107.0 541.9 1106.7C543.6 1107.3 545.3 1114.3 547.0 1114.8C548.5 1114.5 550.0 1110.8 551.5 1110.2C554.5 1109.6 557.4 1109.3 560.4 1109.2C562.9 1109.5 565.4 1112.5 567.9 1112.8C569.2 1112.5 570.4 1108.8 571.7 1108.5C573.0 1108.9 574.2 1113.9 575.5 1114.3C577.2 1113.8 578.9 1107.7 580.5 1107.2C582.2 1107.6 583.9 1113.1 585.6 1113.5C586.8 1113.1 588.1 1107.2 589.4 1106.7C591.1 1107.0 592.7 1109.9 594.4 1110.2C596.1 1110.4 597.8 1110.5 599.5 1110.5C602.4 1110.4 605.3 1109.1 608.3 1109.0C611.7 1109.2 615.0 1112.5 618.4 1112.8C619.6 1112.2 620.9 1104.1 622.2 1103.4C623.4 1103.9 624.7 1109.8 626.0 1110.2C627.2 1110.2 628.5 1109.8 629.7 1109.7C633.5 1109.9 637.3 1112.6 641.1 1112.8C643.2 1112.5 645.3 1109.2 647.4 1109.0C648.7 1109.2 649.9 1112.0 651.2 1112.3C652.5 1112.2 653.7 1111.4 655.0 1111.0C657.9 1110.2 660.9 1109.1 663.8 1109.0C665.9 1109.1 668.0 1109.8 670.1 1110.2C672.2 1110.7 674.3 1111.7 676.4 1111.8C677.7 1111.4 678.9 1106.3 680.2 1106.0C681.2 1106.3 682.2 1110.3 683.2 1111.0C684.3 1111.5 685.4 1111.3 686.5 1111.8C687.5 1112.3 688.5 1113.6 689.5 1114.8" stroke="#3AAA35"/>
<path class="c" d="M78.9 1220.8C80.0 1223.3 81.1 1225.8 82.2 1228.3C83.4 1231.3 84.7 1234.6 86.0 1237.2C87.2 1239.6 88.5 1241.7 89.8 1243.5C91.4 1245.5 93.1 1246.5 94.8 1247.8C96.9 1249.3 99.0 1250.6 101.1 1251.6C103.6 1252.5 106.2 1253.0 108.7 1253.1C109.3 1252.4 109.9 1248.1 110.4 1243.5C111.0 1238.2 111.6 1228.0 112.2 1223.3C112.6 1220.6 113.1 1219.3 113.5 1218.2C113.9 1217.5 114.3 1217.1 114.7 1217.0C115.2 1217.4 115.6 1222.4 116.0 1222.8C116.4 1222.7 116.8 1222.2 117.3 1221.3C117.8 1218.9 118.4 1209.3 119.0 1203.1C119.6 1196.9 120.2 1189.3 120.8 1184.2C121.4 1179.6 122.0 1176.8 122.6 1174.1C123.4 1170.8 124.2 1168.9 125.1 1168.5C125.8 1169.0 126.4 1172.2 127.1 1175.4C127.4 1177.1 127.8 1180.8 128.1 1181.2C129.2 1181.1 130.3 1180.0 131.4 1179.9C132.5 1180.1 133.6 1181.7 134.7 1183.4C135.7 1185.3 136.7 1188.4 137.7 1190.5C139.0 1192.8 140.2 1194.7 141.5 1196.0C142.6 1197.0 143.7 1196.9 144.8 1197.6C146.4 1198.7 148.1 1199.3 149.8 1201.8C151.2 1204.4 152.7 1209.0 154.1 1211.9C155.4 1214.4 156.6 1216.6 157.9 1218.2C159.1 1219.7 160.4 1221.1 161.7 1221.3C162.9 1221.2 164.2 1221.1 165.5 1220.8C166.3 1220.4 167.1 1218.4 168.0 1218.2C169.1 1218.7 170.2 1224.8 171.3 1225.3C172.4 1225.1 173.6 1223.0 174.8 1222.8C176.1 1223.3 177.3 1228.6 178.6 1230.9C180.5 1233.9 182.4 1236.3 184.4 1236.7C186.5 1236.6 188.6 1235.5 190.7 1235.4C193.6 1235.5 196.6 1236.7 199.5 1237.2C203.3 1237.6 207.1 1237.9 210.9 1237.9C214.2 1237.8 217.6 1237.4 221.0 1236.7C222.8 1236.1 224.7 1233.6 226.5 1233.4C228.5 1233.4 230.4 1234.1 232.3 1234.1C234.4 1234.0 236.5 1232.3 238.6 1232.1C240.7 1232.2 242.8 1233.3 244.9 1233.4C246.9 1233.2 248.8 1231.0 250.7 1230.9C252.2 1231.0 253.6 1232.7 255.0 1232.9C257.1 1232.8 259.2 1232.0 261.3 1231.6C263.4 1231.3 265.5 1230.9 267.6 1230.9C269.8 1231.1 271.9 1233.7 274.0 1233.9C276.1 1233.5 278.2 1228.0 280.3 1227.6C282.8 1227.9 285.3 1232.5 287.8 1232.9C290.8 1232.8 293.7 1232.0 296.7 1231.6C300.5 1231.2 304.2 1230.9 308.0 1230.9C311.8 1230.9 315.6 1232.0 319.4 1232.1C321.5 1232.0 323.6 1229.8 325.7 1229.6C327.4 1229.6 329.0 1230.1 330.7 1230.1C332.4 1230.1 334.1 1229.6 335.8 1229.6C337.5 1229.7 339.1 1231.5 340.8 1231.6C342.5 1231.3 344.2 1226.9 345.9 1226.6C347.0 1226.9 348.1 1230.6 349.2 1230.9C350.2 1230.7 351.2 1229.2 352.2 1229.1C353.9 1229.3 355.5 1231.9 357.2 1232.1C359.3 1232.0 361.4 1230.2 363.5 1230.1C365.2 1230.2 366.9 1231.5 368.6 1231.6C371.5 1231.5 374.5 1231.0 377.4 1230.1C378.7 1229.4 379.9 1225.4 381.2 1225.1C382.9 1225.2 384.6 1225.9 386.2 1227.1C387.1 1227.9 387.9 1230.6 388.8 1230.9C390.0 1230.7 391.3 1228.5 392.6 1228.3C394.7 1228.5 396.8 1230.7 398.9 1230.9C402.2 1230.5 405.6 1226.2 409.0 1225.8C410.6 1226.0 412.3 1227.0 414.0 1228.3C415.4 1229.7 416.9 1233.1 418.3 1233.4C420.9 1232.7 423.5 1224.0 426.1 1223.3C427.4 1223.7 428.6 1228.7 429.9 1229.1C433.0 1229.0 436.1 1228.0 439.2 1227.6C441.8 1227.3 444.3 1227.4 446.8 1227.1C448.5 1226.6 450.2 1223.5 451.8 1223.3C453.3 1223.5 454.7 1225.6 456.1 1225.8C458.5 1225.8 460.8 1225.8 463.2 1225.8C464.5 1225.6 465.7 1223.5 467.0 1223.3C468.2 1223.4 469.5 1225.2 470.8 1225.3C471.4 1225.2 472.0 1223.4 472.5 1223.3C473.5 1223.7 474.4 1229.2 475.3 1229.6C476.7 1229.2 478.2 1224.4 479.6 1224.1C482.1 1224.2 484.7 1226.4 487.2 1226.6C488.9 1226.4 490.5 1225.0 492.2 1224.6C494.7 1224.1 497.3 1224.3 499.8 1223.8C501.9 1223.2 504.0 1220.5 506.1 1220.3C508.2 1220.4 510.3 1222.1 512.4 1222.8C514.1 1223.2 515.8 1223.7 517.5 1223.8C519.6 1223.5 521.7 1219.8 523.8 1219.5C525.6 1219.8 527.5 1222.4 529.3 1223.3C530.8 1223.9 532.3 1224.5 533.9 1224.6C535.8 1224.1 537.7 1218.2 539.7 1217.7C540.9 1218.0 542.2 1221.7 543.4 1222.0C544.5 1221.9 545.5 1220.4 546.5 1220.3C548.6 1220.6 550.7 1225.0 552.8 1225.3C555.3 1225.1 557.8 1223.5 560.4 1222.8C562.0 1222.3 563.7 1221.6 565.4 1221.5C566.7 1221.7 567.9 1223.6 569.2 1223.8C570.4 1223.5 571.7 1220.3 573.0 1220.0C573.8 1220.1 574.6 1221.9 575.5 1222.0C576.3 1221.9 577.2 1219.7 578.0 1219.5C579.1 1219.7 580.2 1222.6 581.3 1222.8C582.3 1222.5 583.3 1219.3 584.3 1219.0C585.6 1219.3 586.8 1223.0 588.1 1223.3C590.2 1223.1 592.3 1220.2 594.4 1220.0C597.4 1220.2 600.3 1223.1 603.2 1223.3C604.9 1223.2 606.6 1221.4 608.3 1221.3C610.8 1221.3 613.3 1222.0 615.9 1222.0C618.4 1221.9 620.9 1221.3 623.4 1220.3C624.5 1219.6 625.6 1217.2 626.7 1217.0C627.7 1217.4 628.7 1223.3 629.7 1223.8C631.0 1223.6 632.3 1221.4 633.5 1221.3C636.5 1221.3 639.4 1221.6 642.4 1222.0C645.3 1222.5 648.2 1223.9 651.2 1224.1C653.7 1224.0 656.2 1223.3 658.8 1223.3C660.9 1223.4 663.0 1225.2 665.1 1225.3C666.7 1225.1 668.4 1222.5 670.1 1222.0C672.6 1221.6 675.2 1221.3 677.7 1221.3C679.8 1221.4 681.9 1222.5 684.0 1223.3C685.8 1224.0 687.7 1224.9 689.5 1225.8" stroke="#65298F"/>
<path class="c" d="M78.9 1332.4C80.0 1333.9 81.1 1335.4 82.2 1337.4C83.4 1339.9 84.7 1343.5 86.0 1346.2C87.2 1348.9 88.5 1352.0 89.8 1353.8C91.0 1355.3 92.3 1355.4 93.5 1356.3C94.8 1357.3 96.1 1358.6 97.3 1359.6C98.6 1360.7 99.8 1362.1 101.1 1362.6C102.8 1363.1 104.5 1363.1 106.2 1363.4C107.0 1363.6 107.8 1363.9 108.7 1363.9C109.4 1363.1 110.0 1357.9 110.7 1352.5C111.3 1347.2 111.9 1334.9 112.5 1332.9C112.9 1332.3 113.3 1331.9 113.7 1331.9C114.1 1331.9 114.6 1332.3 115.0 1332.9C115.4 1333.6 115.8 1335.9 116.3 1336.1C116.8 1335.5 117.3 1330.2 117.8 1326.1C118.4 1320.8 118.9 1313.1 119.5 1307.1C120.2 1300.4 120.9 1292.5 121.5 1288.2C122.3 1284.4 123.1 1283.5 123.8 1281.9C124.7 1280.2 125.7 1279.1 126.6 1278.9C127.4 1279.2 128.1 1280.8 128.9 1283.2C129.5 1285.3 130.0 1290.2 130.6 1291.2C131.5 1292.0 132.3 1291.7 133.2 1292.5C134.3 1293.8 135.3 1297.9 136.4 1299.6C137.7 1301.1 139.0 1301.1 140.2 1302.1C141.5 1303.2 142.7 1304.6 144.0 1305.9C145.3 1307.1 146.5 1307.6 147.8 1309.7C148.8 1311.5 149.8 1314.9 150.8 1316.7C151.7 1318.1 152.5 1319.3 153.3 1319.7C154.2 1320.0 155.0 1319.9 155.9 1320.2C157.0 1321.2 158.1 1326.7 159.1 1329.3C160.0 1331.2 160.8 1333.4 161.7 1334.4C162.9 1335.4 164.2 1336.0 165.5 1336.1C166.7 1336.1 168.0 1335.9 169.2 1335.6C170.9 1335.0 172.6 1331.9 174.3 1331.6C175.5 1332.2 176.8 1337.4 178.1 1339.9C179.8 1343.2 181.4 1348.2 183.1 1348.8C184.8 1348.7 186.5 1348.5 188.2 1348.0C189.2 1347.6 190.2 1345.9 191.2 1345.7C192.7 1346.1 194.2 1350.2 195.7 1350.5C197.0 1350.5 198.3 1350.3 199.5 1350.0C200.5 1349.6 201.5 1347.2 202.5 1347.0C205.3 1347.3 208.1 1351.5 210.9 1351.8C213.0 1351.5 215.1 1349.3 217.2 1348.0C218.9 1347.0 220.5 1345.2 222.2 1345.0C223.9 1345.1 225.6 1347.3 227.3 1347.5C229.0 1347.0 230.6 1341.1 232.3 1340.7C233.8 1341.1 235.2 1346.6 236.6 1347.0C240.6 1346.5 244.7 1339.9 248.7 1339.4C251.2 1339.5 253.8 1340.6 256.3 1341.2C259.2 1341.9 262.2 1343.1 265.1 1343.2C266.8 1342.9 268.5 1339.4 270.2 1339.2C272.1 1339.6 274.0 1344.6 276.0 1345.0C277.7 1344.5 279.3 1338.6 281.0 1338.2C282.2 1338.4 283.4 1341.5 284.6 1341.7C285.8 1341.5 287.1 1338.4 288.3 1338.2C290.7 1338.5 293.0 1342.2 295.4 1342.5C297.5 1342.5 299.6 1342.5 301.7 1342.5C305.9 1342.3 310.1 1340.5 314.3 1339.9C317.7 1339.5 321.1 1339.5 324.4 1339.2C327.8 1338.8 331.2 1338.0 334.5 1337.9C337.5 1338.0 340.4 1339.3 343.3 1339.4C345.9 1339.3 348.4 1338.0 350.9 1337.9C353.4 1338.1 356.0 1340.3 358.5 1340.4C360.6 1340.2 362.7 1336.9 364.8 1336.7C366.6 1336.9 368.5 1340.4 370.3 1340.7C373.1 1340.6 375.9 1339.9 378.7 1338.7C380.4 1337.6 382.0 1333.5 383.7 1333.1C385.4 1333.5 387.1 1337.8 388.8 1338.2C392.6 1338.1 396.3 1337.1 400.1 1336.9C405.2 1336.8 410.2 1336.8 415.3 1336.7C417.8 1336.4 420.3 1334.5 422.8 1334.4C424.9 1334.6 427.0 1337.2 429.1 1337.4C430.8 1337.1 432.5 1332.7 434.2 1332.4C435.9 1332.5 437.5 1334.2 439.2 1334.4C441.3 1334.4 443.4 1334.1 445.5 1334.1C448.5 1334.3 451.4 1336.5 454.4 1336.7C456.1 1336.5 457.7 1335.4 459.4 1334.4C461.1 1333.3 462.8 1330.6 464.5 1330.3C466.1 1330.7 467.8 1335.3 469.5 1335.6C471.2 1335.3 472.9 1330.9 474.6 1330.6C476.5 1331.0 478.4 1337.0 480.4 1337.4C482.2 1337.0 484.1 1331.5 485.9 1331.1C487.2 1331.3 488.4 1333.5 489.7 1333.6C491.1 1333.6 492.6 1333.3 494.0 1332.9C496.3 1331.9 498.7 1329.1 501.1 1328.6C504.0 1328.3 506.9 1328.1 509.9 1328.1C512.8 1328.1 515.8 1329.0 518.7 1329.1C521.7 1329.0 524.6 1328.6 527.5 1328.6C530.5 1328.8 533.4 1331.4 536.4 1331.6C539.1 1331.6 541.8 1331.4 544.5 1331.1C545.3 1330.6 546.1 1325.9 547.0 1325.5C548.3 1326.0 549.7 1331.9 551.0 1332.4C552.9 1332.2 554.7 1330.0 556.6 1329.8C559.1 1329.8 561.6 1329.8 564.1 1329.8C565.8 1330.0 567.5 1331.7 569.2 1331.9C570.4 1331.8 571.7 1331.3 573.0 1330.3C574.1 1329.4 575.2 1326.8 576.2 1326.6C577.3 1326.8 578.3 1330.1 579.3 1330.3C581.0 1330.3 582.6 1329.2 584.3 1329.1C585.6 1329.4 586.8 1332.8 588.1 1333.1C589.4 1332.5 590.6 1324.9 591.9 1324.3C592.9 1324.7 593.9 1330.6 594.9 1331.1C596.3 1331.0 597.6 1330.4 599.0 1330.3C601.0 1330.6 603.0 1333.9 605.0 1334.1C606.7 1333.5 608.4 1324.9 610.1 1324.3C612.0 1324.7 613.9 1330.6 615.9 1331.1C616.7 1331.0 617.5 1330.4 618.4 1330.3C619.8 1330.6 621.2 1334.1 622.7 1334.4C624.4 1333.8 626.2 1326.1 628.0 1325.5C629.2 1325.9 630.5 1330.4 631.8 1331.1C633.2 1331.6 634.6 1331.4 636.0 1331.9C637.5 1332.5 638.9 1335.2 640.3 1335.4C642.0 1335.1 643.7 1330.7 645.4 1330.3C646.9 1330.6 648.4 1334.1 649.9 1334.4C651.4 1334.1 653.0 1330.6 654.5 1330.3C655.9 1330.3 657.3 1330.3 658.8 1330.3C659.9 1330.6 660.9 1333.4 662.0 1333.6C663.3 1333.3 664.6 1328.9 665.8 1328.6C667.4 1328.9 669.0 1333.8 670.6 1334.1C671.7 1333.9 672.8 1331.3 673.9 1331.1C675.6 1331.1 677.3 1331.6 678.9 1331.6C680.2 1331.5 681.5 1329.5 682.7 1329.3C684.0 1329.6 685.3 1331.9 686.5 1332.9C687.5 1333.5 688.5 1334.0 689.5 1334.4" stroke="#920783"/>
<text class="s" transform="translate(161.0 835.0) scale(0.95 1)">53.6</text>
<text class="s" transform="translate(161.0 946.1) scale(0.95 1)">53.7</text>
<text class="s" transform="translate(161.0 1055.8) scale(0.95 1)">53.6</text>
<text class="s" transform="translate(163.6 1166.8) scale(0.95 1)">52.6</text>
<text class="s" transform="translate(161.3 1277.3) scale(0.95 1)">53.6</text>
</g>
<g id="W1">
<path class="a" d="M957.6 1387.9V1377.5H1702.8M1093.1 1377.5v10.4M1228.6 1377.5v10.4M1364.1 1377.5v10.4M1499.6 1377.5v10.4M1635.1 1377.5v10.4"/>
<text class="t" transform="translate(958.6 1433.7) scale(0.965 1)" text-anchor="middle">0</text>
<text class="t" transform="translate(1094.1 1433.7) scale(0.965 1)" text-anchor="middle">2</text>
<text class="t" transform="translate(1229.6 1433.7) scale(0.965 1)" text-anchor="middle">4</text>
<text class="t" transform="translate(1365.1 1433.7) scale(0.965 1)" text-anchor="middle">6</text>
<text class="t" transform="translate(1500.6 1433.7) scale(0.965 1)" text-anchor="middle">8</text>
<text class="t" transform="translate(1636.8 1433.7) scale(0.965 1)" text-anchor="middle">10</text>
<text class="t" transform="translate(1329.9 1485.8) scale(0.985 1)" text-anchor="middle">2<tspan font-style="italic">θ</tspan>/(°)</text>
<text class="s" transform="translate(965.9 808.7) scale(0.95 1)">W1</text>
<path class="l" d="M1644.8 826.0H1687.8" stroke="#E4007F"/>
<text class="s" transform="translate(1705.5 838.1) scale(0.95 1)">0</text>
<path class="l" d="M1644.8 873.7H1687.8" stroke="#F0942C"/>
<text class="s" transform="translate(1705.5 885.8) scale(0.95 1)">5</text>
<path class="l" d="M1644.8 921.4H1687.8" stroke="#3AAA35"/>
<text class="s" transform="translate(1705.5 933.5) scale(0.95 1)">15</text>
<path class="l" d="M1644.8 969.2H1687.8" stroke="#65298F"/>
<text class="s" transform="translate(1705.5 981.3) scale(0.95 1)">25</text>
<path class="l" d="M1644.8 1016.9H1687.8" stroke="#920783"/>
<text class="s" transform="translate(1705.5 1029.0) scale(0.95 1)">35</text>
<path class="c" d="M1025.9 892.3C1027.0 894.8 1028.1 897.4 1029.2 899.8C1030.9 903.5 1032.6 907.2 1034.2 909.9C1036.3 913.0 1038.4 914.5 1040.5 916.2C1042.6 917.7 1044.7 918.7 1046.8 919.5C1048.5 920.0 1050.2 919.9 1051.9 920.5C1053.0 921.0 1054.1 922.4 1055.2 922.5C1055.8 921.9 1056.4 917.0 1056.9 912.5C1057.5 907.3 1058.1 898.3 1058.7 893.5C1059.1 890.6 1059.5 887.6 1060.0 887.2C1060.4 887.6 1060.8 891.8 1061.2 893.5C1061.7 895.1 1062.1 897.1 1062.5 897.3C1063.0 897.0 1063.5 895.3 1064.0 892.3C1064.6 887.6 1065.2 876.8 1065.8 869.6C1066.4 862.5 1067.0 854.7 1067.5 849.4C1068.0 845.4 1068.5 842.6 1069.1 840.5C1069.6 838.6 1070.2 837.5 1070.8 837.3C1071.7 837.7 1072.5 842.1 1073.3 844.3C1074.2 846.5 1075.0 850.2 1075.9 850.6C1077.1 850.6 1078.4 850.6 1079.7 850.6C1080.9 851.0 1082.2 853.7 1083.4 855.7C1084.7 857.9 1086.0 860.7 1087.2 863.3C1088.2 865.3 1089.2 867.7 1090.2 869.6C1091.8 872.0 1093.3 873.9 1094.8 875.1C1096.1 875.9 1097.3 875.6 1098.6 876.4C1099.8 877.3 1101.1 879.1 1102.4 880.9C1103.6 882.9 1104.9 887.3 1106.1 887.7C1107.0 887.7 1107.8 886.8 1108.7 886.7C1109.5 887.0 1110.4 890.7 1111.2 891.0C1112.3 890.8 1113.4 888.7 1114.5 888.5C1115.5 888.7 1116.5 891.1 1117.5 892.3C1118.8 893.6 1120.0 895.3 1121.3 895.5C1122.1 895.5 1123.0 895.3 1123.8 895.3C1125.1 895.6 1126.3 898.5 1127.6 899.8C1128.9 901.0 1130.1 902.2 1131.4 902.9C1133.5 903.8 1135.6 903.7 1137.7 904.4C1139.4 905.0 1141.1 905.8 1142.7 906.7C1144.2 907.5 1145.8 909.2 1147.3 909.4C1149.1 909.2 1151.0 905.7 1152.8 905.4C1154.9 905.5 1157.0 906.8 1159.1 906.9C1161.2 906.8 1163.3 905.5 1165.4 905.4C1168.4 905.4 1171.3 906.1 1174.3 906.1C1175.7 905.9 1177.1 902.6 1178.6 902.4C1180.9 902.6 1183.3 905.2 1185.6 905.4C1188.6 905.2 1191.5 902.6 1194.5 902.4C1195.7 902.4 1197.0 903.5 1198.2 903.6C1199.8 903.4 1201.3 900.1 1202.8 899.8C1204.6 900.0 1206.5 902.7 1208.3 902.9C1209.2 902.8 1210.0 902.4 1210.9 902.4C1213.4 902.5 1215.9 904.2 1218.4 904.4C1221.4 904.1 1224.3 900.8 1227.3 900.6C1228.8 900.9 1230.3 905.3 1231.8 905.6C1234.1 905.3 1236.3 900.7 1238.6 900.3C1240.3 900.6 1242.0 904.1 1243.7 904.4C1244.9 904.2 1246.2 902.5 1247.5 902.4C1249.6 902.4 1251.7 902.4 1253.8 902.4C1256.7 902.5 1259.6 903.8 1262.6 904.4C1264.7 904.8 1266.8 905.3 1268.9 905.4C1270.2 905.1 1271.4 901.4 1272.7 901.1C1275.2 901.4 1277.7 904.6 1280.3 904.9C1281.5 904.5 1282.8 899.7 1284.0 899.3C1284.9 899.5 1285.7 902.2 1286.6 902.4C1287.8 902.3 1289.1 901.7 1290.3 901.6C1291.8 902.0 1293.2 907.0 1294.6 907.4C1296.2 907.2 1297.7 904.2 1299.2 903.6C1302.5 902.9 1305.9 902.7 1309.3 902.4C1312.2 902.1 1315.2 901.9 1318.1 901.6C1321.0 901.3 1324.0 900.4 1326.9 900.3C1329.0 900.4 1331.1 901.0 1333.2 901.1C1335.1 900.9 1336.9 898.0 1338.8 897.8C1340.3 898.2 1341.8 903.2 1343.3 903.6C1344.6 903.3 1345.9 899.6 1347.1 899.3C1348.6 899.7 1350.1 904.0 1351.7 904.4C1353.3 904.0 1355.0 899.0 1356.7 898.6C1358.6 898.7 1360.4 900.9 1362.3 901.1C1363.9 901.0 1365.6 900.4 1367.3 900.3C1369.0 900.5 1370.7 902.9 1372.4 903.1C1374.7 902.8 1377.1 898.9 1379.4 898.6C1381.3 898.6 1383.1 898.6 1385.0 898.6C1385.8 898.5 1386.7 897.4 1387.5 897.3C1388.8 897.4 1390.0 899.2 1391.3 899.3C1392.7 899.1 1394.1 896.7 1395.6 896.6C1396.9 896.9 1398.3 901.5 1399.6 901.9C1400.6 901.6 1401.6 898.1 1402.6 897.8C1404.3 897.9 1406.0 899.2 1407.7 899.3C1410.2 899.3 1412.7 898.9 1415.2 898.6C1418.6 898.2 1422.0 897.8 1425.3 897.3C1428.3 896.8 1431.2 895.7 1434.2 895.5C1435.9 895.6 1437.5 896.7 1439.2 896.8C1440.5 896.5 1441.7 891.9 1443.0 891.5C1444.9 892.1 1446.7 900.0 1448.6 900.6C1450.1 900.0 1451.6 892.4 1453.1 891.8C1455.2 892.1 1457.3 896.2 1459.4 896.6C1461.3 896.4 1463.3 894.9 1465.2 894.8C1467.2 895.1 1469.2 899.0 1471.3 899.3C1472.9 898.8 1474.6 892.0 1476.3 891.5C1477.8 891.7 1479.3 894.6 1480.9 894.8C1481.9 894.7 1482.9 893.1 1483.9 893.0C1485.0 893.2 1486.1 895.4 1487.2 895.5C1488.4 895.4 1489.7 893.2 1490.9 893.0C1492.6 893.3 1494.3 897.0 1496.0 897.3C1497.7 897.0 1499.4 893.2 1501.0 892.8C1504.0 892.5 1506.9 892.3 1509.9 892.3C1511.8 892.6 1513.7 896.5 1515.7 896.8C1517.7 896.5 1519.7 892.6 1521.7 892.3C1523.2 892.6 1524.8 897.0 1526.3 897.3C1527.5 897.2 1528.8 895.7 1530.1 895.5C1531.7 895.6 1533.4 896.0 1535.1 896.6C1536.4 897.1 1537.6 898.4 1538.9 898.6C1540.6 898.3 1542.3 894.6 1543.9 894.3C1545.2 894.3 1546.5 894.8 1547.7 894.8C1549.7 894.6 1551.6 892.4 1553.5 892.3C1556.6 892.6 1559.8 896.5 1562.9 896.8C1564.1 896.7 1565.4 894.9 1566.6 894.8C1568.5 895.0 1570.3 898.3 1572.2 898.6C1574.1 898.3 1576.1 895.0 1578.0 894.8C1579.7 894.9 1581.4 896.4 1583.0 896.6C1586.0 896.4 1588.9 894.9 1591.9 894.8C1594.0 895.0 1596.1 897.1 1598.2 897.3C1599.9 897.0 1601.6 893.1 1603.2 892.8C1604.5 893.0 1605.8 896.3 1607.0 896.6C1609.5 896.4 1612.1 894.9 1614.6 894.8C1618.0 894.9 1621.3 896.7 1624.7 896.8C1626.4 896.7 1628.0 894.9 1629.7 894.8C1631.0 894.9 1632.3 896.4 1633.5 896.6C1634.5 896.4 1635.5 895.6 1636.5 894.8" stroke="#E4007F"/>
<path class="c" d="M1025.9 1001.3C1027.0 1004.2 1028.1 1007.1 1029.2 1009.6C1030.9 1013.2 1032.6 1015.7 1034.2 1018.4C1035.9 1021.0 1037.6 1023.5 1039.3 1025.5C1041.4 1027.8 1043.5 1030.7 1045.6 1031.0C1047.3 1031.0 1049.0 1030.6 1050.6 1030.5C1052.1 1030.6 1053.7 1031.5 1055.2 1031.6C1055.8 1031.1 1056.4 1028.5 1056.9 1024.7C1057.5 1020.3 1058.1 1011.0 1058.7 1007.1C1059.1 1004.8 1059.5 1003.5 1060.0 1003.3C1060.5 1003.4 1061.0 1004.5 1061.5 1004.6C1061.9 1004.4 1062.3 1003.5 1062.7 1002.0C1063.3 998.9 1063.9 989.3 1064.5 983.1C1065.2 976.2 1065.9 968.5 1066.5 962.9C1067.2 958.0 1067.9 954.5 1068.5 951.6C1069.4 948.5 1070.2 946.9 1071.1 946.5C1071.8 946.8 1072.6 948.9 1073.3 950.3C1074.4 952.5 1075.5 955.3 1076.6 957.9C1077.6 960.3 1078.6 963.4 1079.7 965.4C1080.5 967.0 1081.3 969.0 1082.2 969.2C1083.2 969.1 1084.2 967.6 1085.2 967.5C1086.3 967.9 1087.4 972.4 1088.5 974.3C1089.7 976.1 1091.0 976.6 1092.3 978.1C1093.5 979.6 1094.8 981.5 1096.1 983.1C1097.3 984.7 1098.6 985.7 1099.8 987.6C1101.1 989.9 1102.4 993.7 1103.6 995.7C1104.9 997.4 1106.1 997.8 1107.4 998.8C1108.7 999.7 1109.9 1001.1 1111.2 1001.3C1112.3 1000.8 1113.4 994.9 1114.5 994.5C1115.3 995.0 1116.2 1001.3 1117.0 1002.8C1118.4 1004.6 1119.9 1004.7 1121.3 1005.8C1123.0 1007.1 1124.7 1008.7 1126.3 1010.1C1128.0 1011.4 1129.7 1012.8 1131.4 1013.9C1133.5 1015.1 1135.6 1016.1 1137.7 1016.4C1140.2 1016.6 1142.7 1016.5 1145.3 1016.7C1147.1 1016.9 1149.0 1019.0 1150.8 1019.2C1152.3 1019.0 1153.8 1016.1 1155.4 1015.9C1157.0 1016.0 1158.7 1017.8 1160.4 1017.9C1164.2 1017.7 1168.0 1014.9 1171.8 1014.6C1175.5 1014.7 1179.3 1015.4 1183.1 1015.4C1187.3 1015.3 1191.5 1014.6 1195.7 1013.9C1199.1 1013.3 1202.5 1011.8 1205.8 1011.6C1208.2 1011.8 1210.5 1013.0 1212.9 1013.9C1214.3 1014.5 1215.7 1015.8 1217.2 1015.9C1219.7 1015.6 1222.2 1011.7 1224.7 1011.4C1227.3 1011.6 1229.8 1014.9 1232.3 1015.2C1233.6 1015.0 1234.8 1012.3 1236.1 1012.1C1237.4 1012.3 1238.6 1014.0 1239.9 1014.1C1241.6 1013.9 1243.2 1011.1 1244.9 1010.9C1247.5 1011.1 1250.0 1013.1 1252.5 1013.9C1255.4 1014.6 1258.4 1015.1 1261.3 1015.2C1263.9 1014.9 1266.4 1011.9 1268.9 1011.6C1270.6 1011.7 1272.3 1012.1 1273.9 1012.1C1275.2 1012.0 1276.5 1009.8 1277.7 1009.6C1279.2 1010.0 1280.6 1015.5 1282.0 1015.9C1283.5 1015.7 1285.0 1012.8 1286.6 1012.1C1289.1 1011.4 1291.6 1010.9 1294.1 1010.9C1296.2 1011.1 1298.3 1014.4 1300.4 1014.6C1303.0 1014.5 1305.5 1012.5 1308.0 1012.1C1311.0 1011.8 1313.9 1011.7 1316.8 1011.6C1318.9 1011.8 1321.0 1014.0 1323.1 1014.1C1325.4 1013.8 1327.7 1008.7 1330.0 1008.3C1331.5 1008.7 1333.0 1013.5 1334.5 1013.9C1337.0 1013.7 1339.6 1011.9 1342.1 1011.6C1344.6 1011.5 1347.1 1011.5 1349.6 1011.4C1352.6 1011.0 1355.5 1009.0 1358.5 1008.8C1360.2 1008.9 1361.8 1008.9 1363.5 1009.1C1366.0 1009.5 1368.6 1011.2 1371.1 1011.4C1373.6 1011.3 1376.1 1010.7 1378.7 1010.1C1379.9 1009.8 1381.2 1009.7 1382.4 1009.1C1383.7 1008.3 1385.0 1006.0 1386.2 1005.8C1387.5 1006.1 1388.8 1010.1 1390.0 1010.4C1391.3 1010.3 1392.5 1009.2 1393.8 1009.1C1396.3 1009.1 1398.8 1009.6 1401.4 1009.6C1402.8 1009.1 1404.2 1003.2 1405.7 1002.8C1407.2 1003.2 1408.7 1008.7 1410.2 1009.1C1411.5 1009.0 1412.7 1007.9 1414.0 1007.8C1415.7 1008.0 1417.4 1010.7 1419.0 1010.9C1421.1 1010.4 1423.2 1004.3 1425.3 1003.8C1427.9 1004.3 1430.4 1010.4 1432.9 1010.9C1434.6 1010.6 1436.3 1007.3 1438.0 1007.1C1439.0 1007.3 1440.0 1010.1 1441.0 1010.4C1443.2 1010.0 1445.4 1005.6 1447.5 1005.3C1449.0 1005.6 1450.4 1009.3 1451.8 1009.6C1454.8 1009.2 1457.7 1006.0 1460.7 1003.3C1462.2 1001.8 1463.7 998.6 1465.2 998.2C1466.2 998.7 1467.2 1004.1 1468.2 1004.6C1469.9 1004.4 1471.6 1002.2 1473.3 1002.0C1475.0 1002.3 1476.7 1005.3 1478.3 1005.8C1480.9 1006.3 1483.4 1006.5 1485.9 1006.6C1488.0 1006.4 1490.1 1003.5 1492.2 1003.3C1494.7 1003.5 1497.3 1006.4 1499.8 1006.6C1501.9 1006.5 1504.0 1006.3 1506.1 1005.8C1507.8 1005.3 1509.5 1003.0 1511.1 1002.8C1512.0 1003.0 1512.8 1006.3 1513.7 1006.6C1514.5 1006.2 1515.3 1001.6 1516.2 1001.3C1517.7 1001.8 1519.2 1008.6 1520.7 1009.1C1522.4 1008.6 1524.1 1002.5 1525.8 1002.0C1526.8 1002.4 1527.8 1006.7 1528.8 1007.1C1530.1 1006.8 1531.3 1003.1 1532.6 1002.8C1533.8 1003.0 1535.1 1005.1 1536.4 1005.3C1538.1 1005.2 1539.7 1003.4 1541.4 1003.3C1542.7 1003.4 1543.9 1004.5 1545.2 1004.6C1547.3 1004.4 1549.4 1002.2 1551.5 1002.0C1554.0 1002.1 1556.6 1003.7 1559.1 1003.8C1563.3 1003.7 1567.5 1002.9 1571.7 1002.8C1574.0 1002.9 1576.4 1004.9 1578.8 1005.1C1580.2 1004.8 1581.6 1001.5 1583.0 1001.3C1584.7 1001.7 1586.4 1006.7 1588.1 1007.1C1589.4 1006.6 1590.6 1000.5 1591.9 1000.0C1593.1 1000.5 1594.4 1006.6 1595.7 1007.1C1598.6 1006.6 1601.6 1000.0 1604.5 999.5C1606.2 999.9 1607.9 1005.4 1609.5 1005.8C1610.4 1005.7 1611.2 1003.9 1612.1 1003.8C1613.7 1003.9 1615.4 1005.2 1617.1 1005.3C1618.4 1005.1 1619.6 1003.0 1620.9 1002.8C1622.6 1003.0 1624.3 1005.1 1625.9 1005.3C1627.2 1005.0 1628.5 1000.4 1629.7 1000.0C1630.6 1000.3 1631.4 1003.6 1632.3 1004.1C1633.7 1004.4 1635.1 1004.5 1636.5 1004.6" stroke="#F0942C"/>
<path class="c" d="M1025.9 1111.0C1027.0 1113.6 1028.1 1116.2 1029.2 1118.6C1030.9 1122.2 1032.6 1125.8 1034.2 1128.7C1035.9 1131.3 1037.6 1133.1 1039.3 1135.0C1041.4 1137.1 1043.5 1138.7 1045.6 1140.0C1047.3 1140.9 1049.0 1141.4 1050.6 1142.0C1052.1 1142.6 1053.7 1143.7 1055.2 1143.8C1055.8 1143.2 1056.4 1139.4 1056.9 1135.0C1057.5 1129.8 1058.1 1119.8 1058.7 1114.8C1059.1 1111.8 1059.5 1109.3 1060.0 1108.5C1060.4 1108.0 1060.8 1107.8 1061.2 1107.7C1061.7 1108.1 1062.1 1113.1 1062.5 1113.5C1063.0 1113.4 1063.5 1112.5 1064.0 1111.0C1064.6 1108.0 1065.2 1096.5 1065.8 1089.6C1066.4 1082.7 1067.0 1074.6 1067.5 1069.4C1068.2 1064.4 1068.9 1062.2 1069.6 1060.5C1070.4 1059.0 1071.2 1058.2 1072.1 1058.0C1073.1 1058.4 1074.1 1061.6 1075.1 1063.1C1076.2 1064.6 1077.3 1065.6 1078.4 1066.8C1079.5 1068.1 1080.6 1068.4 1081.7 1070.6C1082.5 1072.9 1083.4 1080.6 1084.2 1082.0C1085.0 1082.7 1085.9 1083.2 1086.7 1083.3C1087.6 1083.1 1088.4 1080.9 1089.2 1080.7C1090.4 1081.2 1091.6 1086.1 1092.8 1088.3C1094.3 1090.8 1095.8 1092.6 1097.3 1094.1C1098.6 1095.2 1099.8 1095.2 1101.1 1096.6C1102.4 1098.3 1103.6 1101.0 1104.9 1103.4C1105.9 1105.4 1106.9 1109.3 1107.9 1109.7C1109.4 1109.7 1110.9 1108.9 1112.5 1108.5C1113.7 1108.1 1115.0 1107.3 1116.2 1107.2C1117.5 1107.6 1118.8 1110.6 1120.0 1112.3C1121.7 1114.4 1123.4 1116.5 1125.1 1118.6C1126.8 1120.6 1128.4 1122.7 1130.1 1124.4C1131.8 1125.9 1133.5 1127.9 1135.2 1128.2C1137.3 1128.0 1139.4 1126.3 1141.5 1126.1C1143.2 1126.2 1144.8 1126.6 1146.5 1126.9C1148.6 1127.2 1150.7 1127.8 1152.8 1127.9C1155.4 1127.7 1157.9 1125.6 1160.4 1125.4C1162.5 1125.5 1164.6 1127.3 1166.7 1127.4C1168.4 1127.2 1170.1 1123.9 1171.8 1123.6C1173.0 1123.8 1174.3 1126.4 1175.5 1126.7C1177.6 1126.6 1179.7 1125.9 1181.8 1125.4C1183.9 1124.8 1186.1 1123.8 1188.2 1123.1C1190.3 1122.4 1192.4 1121.2 1194.5 1121.1C1195.9 1121.4 1197.3 1125.8 1198.8 1126.1C1200.3 1125.9 1201.8 1123.1 1203.3 1122.9C1204.3 1123.0 1205.3 1124.3 1206.3 1124.4C1207.8 1124.0 1209.3 1119.4 1210.9 1119.1C1212.5 1119.4 1214.2 1124.0 1215.9 1124.4C1218.4 1124.2 1221.0 1122.0 1223.5 1121.9C1226.0 1121.9 1228.5 1122.8 1231.0 1122.9C1233.6 1122.7 1236.1 1120.5 1238.6 1120.3C1240.3 1120.5 1242.0 1122.7 1243.7 1122.9C1245.8 1122.5 1247.9 1118.2 1250.0 1117.8C1252.5 1118.3 1255.0 1123.9 1257.5 1124.4C1259.2 1124.0 1260.9 1119.4 1262.6 1119.1C1264.7 1119.5 1266.8 1124.5 1268.9 1124.9C1270.7 1124.7 1272.6 1122.8 1274.5 1121.9C1276.6 1120.7 1278.8 1118.8 1281.0 1118.6C1282.4 1118.9 1283.9 1123.3 1285.3 1123.6C1286.6 1123.5 1287.8 1122.0 1289.1 1121.9C1291.2 1122.1 1293.3 1124.7 1295.4 1124.9C1297.5 1124.5 1299.6 1119.0 1301.7 1118.6C1303.8 1118.9 1305.9 1123.3 1308.0 1123.6C1309.7 1123.5 1311.4 1122.0 1313.1 1121.9C1314.7 1121.9 1316.4 1122.8 1318.1 1122.9C1319.8 1122.6 1321.5 1118.9 1323.1 1118.6C1325.7 1119.0 1328.2 1124.9 1330.7 1125.4C1332.8 1124.9 1334.9 1119.0 1337.0 1118.6C1339.1 1119.0 1341.2 1124.5 1343.3 1124.9C1345.9 1124.5 1348.4 1119.5 1350.9 1118.6C1353.0 1118.1 1355.1 1117.9 1357.2 1117.8C1359.7 1118.0 1362.3 1119.7 1364.8 1119.8C1367.7 1119.8 1370.7 1119.5 1373.6 1119.1C1374.9 1118.8 1376.1 1117.4 1377.4 1117.3C1378.9 1117.6 1380.4 1121.6 1381.9 1121.9C1383.5 1121.4 1385.1 1116.0 1386.7 1115.5C1388.3 1115.6 1389.8 1115.8 1391.3 1116.1C1392.5 1116.6 1393.8 1121.2 1395.1 1121.6C1396.7 1121.5 1398.4 1120.9 1400.1 1119.8C1402.0 1118.4 1403.8 1114.4 1405.7 1114.0C1407.2 1114.4 1408.7 1118.4 1410.2 1119.1C1411.9 1119.5 1413.6 1119.8 1415.2 1119.8C1417.6 1119.4 1420.0 1113.5 1422.3 1113.0C1423.3 1113.2 1424.3 1115.4 1425.3 1115.5C1426.6 1115.5 1427.9 1114.8 1429.1 1114.8C1430.8 1115.0 1432.5 1117.9 1434.2 1118.1C1437.1 1118.0 1440.1 1116.9 1443.0 1116.8C1446.4 1116.9 1449.7 1117.8 1453.1 1117.8C1456.0 1117.6 1459.0 1115.7 1461.9 1114.8C1464.0 1114.2 1466.1 1113.1 1468.2 1113.0C1470.3 1113.3 1472.4 1116.6 1474.5 1116.8C1476.5 1116.5 1478.4 1112.6 1480.4 1112.3C1481.8 1112.4 1483.2 1114.0 1484.6 1114.8C1486.3 1115.6 1488.0 1116.7 1489.7 1116.8C1490.9 1116.4 1492.2 1110.9 1493.5 1110.5C1495.2 1111.2 1496.8 1119.7 1498.5 1120.3C1499.8 1119.8 1501.0 1113.3 1502.3 1112.3C1504.0 1111.5 1505.7 1111.1 1507.4 1111.0C1509.0 1111.5 1510.7 1117.4 1512.4 1117.8C1514.5 1117.6 1516.6 1115.4 1518.7 1114.3C1520.0 1113.6 1521.2 1112.4 1522.5 1112.3C1523.8 1112.6 1525.0 1117.0 1526.3 1117.3C1527.5 1116.9 1528.8 1111.4 1530.1 1111.0C1531.7 1111.2 1533.4 1113.8 1535.1 1114.0C1536.4 1114.0 1537.6 1113.6 1538.9 1113.5C1542.3 1113.9 1545.6 1118.2 1549.0 1118.6C1552.3 1118.3 1555.7 1115.2 1559.1 1114.3C1562.4 1113.5 1565.8 1113.1 1569.2 1113.0C1570.9 1113.2 1572.5 1115.4 1574.2 1115.5C1576.3 1115.4 1578.4 1113.2 1580.5 1113.0C1582.6 1113.1 1584.7 1114.2 1586.8 1114.3C1590.2 1114.3 1593.6 1114.2 1596.9 1114.0C1600.3 1113.9 1603.7 1113.8 1607.0 1113.5C1608.5 1113.2 1610.0 1111.2 1611.6 1111.0C1612.6 1111.4 1613.6 1116.9 1614.6 1117.3C1616.7 1117.1 1618.8 1114.3 1620.9 1114.0C1622.6 1114.2 1624.3 1116.4 1625.9 1116.6C1628.0 1116.2 1630.2 1111.4 1632.3 1111.0C1633.7 1111.3 1635.1 1113.0 1636.5 1114.8" stroke="#3AAA35"/>
<path class="c" d="M1025.9 1221.3C1027.0 1224.2 1028.1 1227.1 1029.2 1229.6C1030.9 1233.2 1032.6 1235.7 1034.2 1238.4C1035.9 1241.1 1037.6 1243.9 1039.3 1246.0C1041.4 1248.3 1043.5 1249.8 1045.6 1251.0C1047.3 1251.9 1049.0 1252.2 1050.6 1252.8C1051.9 1253.2 1053.2 1254.0 1054.4 1254.1C1055.1 1253.7 1055.8 1251.9 1056.4 1248.5C1057.0 1244.8 1057.6 1235.9 1058.2 1230.9C1058.7 1226.9 1059.2 1221.4 1059.7 1220.8C1060.2 1221.1 1060.7 1225.5 1061.2 1225.8C1061.7 1225.6 1062.2 1224.3 1062.7 1222.0C1063.3 1218.4 1063.9 1209.0 1064.5 1203.1C1065.2 1196.7 1065.9 1190.3 1066.5 1185.4C1067.2 1181.1 1067.9 1178.1 1068.5 1175.4C1069.6 1171.8 1070.6 1169.5 1071.6 1169.0C1072.6 1169.4 1073.6 1172.3 1074.6 1174.1C1075.9 1176.3 1077.1 1180.7 1078.4 1181.2C1079.7 1181.1 1080.9 1180.4 1082.2 1180.4C1083.4 1181.1 1084.7 1187.0 1086.0 1190.5C1086.8 1192.8 1087.6 1195.6 1088.5 1197.6C1089.7 1200.2 1091.0 1201.1 1092.3 1203.1C1094.0 1205.8 1095.6 1211.3 1097.3 1211.9C1098.8 1211.8 1100.3 1210.3 1101.9 1210.2C1102.7 1210.5 1103.5 1212.7 1104.4 1214.5C1105.2 1216.4 1106.1 1221.1 1106.9 1221.5C1108.6 1221.3 1110.3 1218.0 1112.0 1217.7C1113.6 1218.1 1115.3 1222.5 1117.0 1222.8C1119.3 1222.7 1121.5 1222.1 1123.8 1222.0C1124.7 1222.6 1125.5 1229.5 1126.3 1230.9C1128.0 1232.7 1129.7 1233.1 1131.4 1233.9C1133.5 1234.7 1135.6 1234.6 1137.7 1235.4C1139.8 1236.4 1141.9 1238.9 1144.0 1239.2C1147.4 1239.1 1150.7 1238.4 1154.1 1237.2C1156.4 1236.2 1158.6 1233.2 1160.9 1232.9C1162.4 1233.1 1163.9 1235.5 1165.4 1235.9C1168.0 1236.4 1170.5 1236.6 1173.0 1236.7C1176.4 1236.5 1179.7 1234.8 1183.1 1234.6C1186.9 1234.7 1190.7 1235.8 1194.5 1235.9C1196.1 1235.6 1197.8 1231.2 1199.5 1230.9C1200.8 1231.1 1202.0 1233.9 1203.3 1234.1C1205.0 1233.9 1206.7 1231.1 1208.3 1230.9C1212.1 1231.1 1215.9 1234.9 1219.7 1235.2C1222.6 1235.0 1225.6 1233.2 1228.5 1232.6C1232.7 1232.0 1236.9 1231.7 1241.1 1231.6C1243.7 1231.7 1246.2 1231.8 1248.7 1232.1C1250.4 1232.6 1252.1 1235.7 1253.8 1235.9C1255.0 1235.5 1256.3 1229.6 1257.5 1229.1C1259.2 1229.4 1260.9 1233.8 1262.6 1234.1C1266.4 1234.0 1270.2 1231.8 1273.9 1231.6C1276.9 1231.8 1279.8 1234.4 1282.8 1234.6C1284.2 1234.3 1285.6 1229.5 1287.1 1229.1C1288.6 1229.4 1290.1 1233.6 1291.6 1233.9C1296.7 1233.9 1301.7 1233.9 1306.7 1233.9C1308.9 1233.7 1311.0 1231.1 1313.1 1230.9C1317.7 1230.9 1322.3 1231.6 1326.9 1231.6C1329.5 1231.4 1332.0 1228.1 1334.5 1227.8C1336.2 1228.1 1337.9 1231.8 1339.6 1232.1C1341.7 1232.0 1343.8 1230.9 1345.9 1230.9C1347.8 1231.1 1349.7 1233.7 1351.7 1233.9C1353.3 1233.4 1355.0 1227.5 1356.7 1227.1C1357.9 1227.4 1359.1 1231.3 1360.2 1231.6C1361.3 1231.4 1362.4 1228.3 1363.5 1227.8C1365.6 1227.4 1367.7 1227.1 1369.8 1227.1C1371.9 1227.5 1374.0 1233.4 1376.1 1233.9C1378.1 1233.7 1380.0 1232.3 1381.9 1230.9C1384.0 1229.2 1386.0 1225.0 1388.0 1224.6C1389.5 1224.9 1391.0 1229.4 1392.5 1230.1C1394.2 1230.6 1395.9 1230.8 1397.6 1230.9C1398.8 1230.6 1400.1 1226.9 1401.4 1226.6C1403.3 1226.9 1405.2 1230.6 1407.2 1230.9C1408.4 1230.7 1409.5 1229.2 1410.7 1229.1C1413.9 1229.4 1417.1 1233.1 1420.3 1233.4C1422.0 1232.9 1423.7 1227.0 1425.3 1226.6C1426.6 1226.7 1427.9 1228.2 1429.1 1228.3C1430.2 1228.2 1431.3 1226.5 1432.4 1226.3C1433.8 1226.5 1435.3 1228.9 1436.7 1229.1C1438.6 1228.7 1440.6 1223.7 1442.5 1223.3C1443.9 1223.6 1445.4 1226.7 1446.8 1227.6C1449.3 1228.8 1451.8 1229.5 1454.4 1229.6C1456.0 1229.3 1457.7 1224.9 1459.4 1224.6C1461.5 1224.7 1463.6 1226.9 1465.7 1227.1C1467.8 1226.8 1469.9 1223.5 1472.0 1223.3C1473.3 1223.5 1474.5 1226.4 1475.8 1226.6C1477.1 1226.4 1478.3 1224.2 1479.6 1224.1C1481.7 1224.3 1483.8 1227.6 1485.9 1227.8C1488.4 1227.8 1490.9 1227.4 1493.5 1227.1C1496.4 1226.6 1499.4 1225.4 1502.3 1225.3C1504.0 1225.4 1505.7 1226.5 1507.4 1226.6C1508.6 1226.4 1509.9 1224.2 1511.1 1224.1C1512.8 1224.3 1514.5 1226.1 1516.2 1227.1C1517.9 1228.0 1519.5 1229.4 1521.2 1229.6C1524.2 1229.3 1527.1 1226.2 1530.1 1225.3C1532.2 1224.9 1534.3 1224.6 1536.4 1224.6C1539.3 1224.6 1542.3 1224.6 1545.2 1224.6C1546.9 1224.3 1548.6 1221.0 1550.2 1220.8C1551.7 1221.2 1553.1 1227.1 1554.5 1227.6C1556.0 1227.5 1557.6 1227.2 1559.1 1226.6C1560.3 1225.9 1561.6 1225.1 1562.9 1223.3C1563.7 1221.9 1564.5 1218.6 1565.4 1218.2C1566.6 1218.9 1567.9 1227.0 1569.2 1227.6C1570.4 1227.3 1571.7 1223.1 1573.0 1222.8C1575.5 1222.8 1578.0 1223.3 1580.5 1223.3C1583.0 1223.3 1585.6 1223.3 1588.1 1223.3C1589.4 1223.2 1590.6 1222.1 1591.9 1222.0C1593.6 1222.2 1595.2 1224.4 1596.9 1224.6C1598.2 1224.4 1599.5 1222.9 1600.7 1222.8C1603.2 1223.0 1605.8 1225.1 1608.3 1225.3C1610.4 1225.2 1612.5 1223.4 1614.6 1223.3C1617.1 1223.4 1619.6 1223.9 1622.2 1224.6C1624.0 1225.1 1625.9 1226.4 1627.7 1226.6C1629.2 1226.4 1630.7 1224.0 1632.3 1223.8C1633.7 1223.9 1635.1 1224.6 1636.5 1225.3" stroke="#65298F"/>
<path class="c" d="M1025.9 1332.4C1027.0 1335.0 1028.1 1337.6 1029.2 1339.9C1030.9 1343.3 1032.6 1346.1 1034.2 1348.8C1035.9 1351.3 1037.6 1353.6 1039.3 1355.6C1041.4 1357.8 1043.5 1359.6 1045.6 1360.9C1047.3 1361.8 1049.0 1362.2 1050.6 1362.6C1052.1 1363.0 1053.7 1363.3 1055.2 1363.4C1055.8 1362.8 1056.4 1359.1 1056.9 1355.1C1057.5 1350.4 1058.1 1341.8 1058.7 1337.4C1059.1 1334.7 1059.5 1332.0 1060.0 1331.6C1060.5 1332.0 1061.0 1335.9 1061.5 1337.4C1061.9 1338.5 1062.3 1339.8 1062.7 1339.9C1063.3 1339.6 1063.8 1337.9 1064.3 1334.9C1064.8 1330.2 1065.4 1319.7 1066.0 1312.2C1066.6 1304.6 1067.2 1295.3 1067.8 1289.5C1068.4 1284.5 1069.0 1281.3 1069.6 1279.9C1070.1 1279.1 1070.6 1278.7 1071.1 1278.6C1071.7 1279.3 1072.3 1287.6 1072.8 1288.2C1073.4 1288.2 1074.0 1288.0 1074.6 1287.7C1075.2 1287.4 1075.8 1286.5 1076.4 1286.4C1077.0 1286.7 1077.7 1289.0 1078.4 1290.7C1079.2 1293.2 1080.1 1299.0 1080.9 1299.6C1081.9 1299.5 1082.9 1298.4 1083.9 1298.3C1085.0 1298.6 1086.1 1302.0 1087.2 1303.3C1088.1 1304.2 1088.9 1304.2 1089.7 1305.4C1090.8 1307.0 1091.8 1310.1 1092.8 1312.2C1093.4 1313.5 1094.1 1315.7 1094.8 1316.0C1096.3 1315.8 1097.8 1314.3 1099.3 1314.2C1100.5 1314.8 1101.7 1321.1 1102.9 1323.5C1104.0 1325.5 1105.1 1326.4 1106.1 1327.8C1107.2 1329.3 1108.3 1330.6 1109.4 1332.4C1110.4 1334.1 1111.4 1337.8 1112.5 1338.2C1113.3 1337.5 1114.1 1329.2 1115.0 1328.6C1115.7 1328.6 1116.3 1328.6 1117.0 1328.6C1118.0 1329.1 1119.0 1334.0 1120.0 1336.1C1121.3 1338.6 1122.5 1341.6 1123.8 1342.0C1124.9 1341.8 1126.0 1340.1 1127.1 1339.9C1128.5 1340.3 1129.9 1343.5 1131.4 1345.0C1133.1 1346.6 1134.7 1348.5 1136.4 1348.8C1138.5 1348.6 1140.6 1347.1 1142.7 1347.0C1144.4 1347.1 1146.1 1348.2 1147.8 1348.3C1150.3 1348.1 1152.8 1345.7 1155.4 1345.5C1157.0 1345.5 1158.7 1345.6 1160.4 1345.7C1161.7 1346.0 1162.9 1347.9 1164.2 1348.0C1165.4 1347.8 1166.7 1344.7 1168.0 1344.5C1170.1 1344.8 1172.2 1348.5 1174.3 1348.8C1175.5 1348.5 1176.8 1345.7 1178.1 1344.5C1179.7 1343.0 1181.4 1341.4 1183.1 1341.2C1184.4 1341.3 1185.6 1342.8 1186.9 1343.0C1191.1 1343.0 1195.3 1343.0 1199.5 1343.0C1201.2 1342.7 1202.9 1339.7 1204.6 1339.4C1205.8 1339.6 1207.1 1341.2 1208.3 1341.7C1211.3 1342.6 1214.2 1343.1 1217.2 1343.2C1221.0 1343.2 1224.7 1342.9 1228.5 1342.5C1231.5 1342.0 1234.4 1341.0 1237.4 1340.7C1239.9 1340.5 1242.4 1340.5 1244.9 1340.4C1248.3 1340.6 1251.7 1342.3 1255.0 1342.5C1258.8 1342.3 1262.6 1340.6 1266.4 1340.4C1271.0 1340.6 1275.6 1343.0 1280.3 1343.2C1286.1 1343.1 1292.0 1342.7 1297.9 1342.0C1299.2 1341.5 1300.4 1337.2 1301.7 1336.9C1303.4 1337.2 1305.1 1339.8 1306.7 1340.7C1308.0 1341.2 1309.3 1341.3 1310.5 1341.7C1312.4 1342.3 1314.2 1343.6 1316.1 1343.7C1317.9 1343.5 1319.6 1340.7 1321.4 1340.4C1322.6 1340.6 1323.7 1342.3 1324.9 1342.5C1326.9 1342.3 1328.8 1341.2 1330.7 1340.7C1333.2 1340.1 1335.8 1339.5 1338.3 1339.4C1341.2 1339.6 1344.2 1341.5 1347.1 1341.7C1348.8 1341.4 1350.5 1338.2 1352.2 1337.9C1353.8 1338.0 1355.5 1339.0 1357.2 1339.9C1358.7 1340.9 1360.2 1343.5 1361.8 1343.7C1362.8 1343.3 1363.8 1338.6 1364.8 1338.2C1366.5 1338.0 1368.1 1338.1 1369.8 1337.9C1371.1 1337.7 1372.4 1336.3 1373.6 1336.1C1376.1 1336.3 1378.7 1338.5 1381.2 1338.7C1384.1 1338.6 1387.1 1338.4 1390.0 1338.2C1393.0 1337.8 1395.9 1337.0 1398.8 1336.9C1400.1 1337.1 1401.4 1340.2 1402.6 1340.4C1405.2 1340.2 1407.7 1336.4 1410.2 1336.1C1412.7 1336.3 1415.2 1338.5 1417.8 1338.7C1421.6 1338.5 1425.3 1335.6 1429.1 1335.4C1431.2 1335.4 1433.3 1335.4 1435.4 1335.4C1437.1 1335.5 1438.8 1336.8 1440.5 1336.9C1442.8 1336.7 1445.2 1334.3 1447.5 1334.1C1448.6 1334.3 1449.6 1336.7 1450.6 1336.9C1452.1 1336.6 1453.6 1333.1 1455.1 1332.9C1457.8 1333.0 1460.5 1334.8 1463.2 1335.4C1465.3 1335.8 1467.4 1336.1 1469.5 1336.1C1472.9 1336.1 1476.2 1335.8 1479.6 1335.4C1481.7 1335.0 1483.8 1333.9 1485.9 1333.6C1489.3 1333.3 1492.6 1333.2 1496.0 1333.1C1497.5 1333.5 1499.0 1339.0 1500.5 1339.4C1502.8 1339.0 1505.1 1333.3 1507.4 1332.9C1508.2 1333.1 1509.0 1336.6 1509.9 1336.9C1510.7 1336.7 1511.6 1334.5 1512.4 1334.4C1513.7 1334.4 1514.9 1335.3 1516.2 1335.4C1518.3 1335.3 1520.4 1334.1 1522.5 1333.6C1525.0 1333.2 1527.5 1333.3 1530.1 1332.9C1532.6 1332.3 1535.1 1330.5 1537.6 1330.3C1539.7 1330.6 1541.8 1333.1 1543.9 1334.4C1546.5 1335.8 1549.0 1337.9 1551.5 1338.2C1553.0 1337.6 1554.5 1330.9 1556.0 1330.3C1558.1 1330.8 1560.1 1336.5 1562.1 1336.9C1564.0 1336.6 1566.0 1332.0 1567.9 1331.6C1571.3 1331.9 1574.6 1335.8 1578.0 1336.1C1579.7 1335.8 1581.4 1331.4 1583.0 1331.1C1585.6 1331.4 1588.1 1335.1 1590.6 1335.6C1593.1 1335.9 1595.7 1335.8 1598.2 1336.1C1599.9 1336.5 1601.6 1338.0 1603.2 1338.2C1604.3 1337.6 1605.4 1330.4 1606.5 1329.8C1607.9 1330.1 1609.4 1334.1 1610.8 1334.4C1612.1 1334.3 1613.3 1333.7 1614.6 1333.6C1615.6 1333.8 1616.6 1335.5 1617.6 1335.6C1619.1 1335.4 1620.6 1332.6 1622.2 1332.4C1623.8 1332.7 1625.5 1337.1 1627.2 1337.4C1628.9 1337.2 1630.6 1335.1 1632.3 1334.9C1633.7 1334.9 1635.1 1335.2 1636.5 1335.4" stroke="#920783"/>
<text class="s" transform="translate(1107.5 843.9) scale(0.95 1)">53.6</text>
<text class="s" transform="translate(1103.7 938.5) scale(0.95 1)">53.6</text>
<text class="s" transform="translate(1105.8 1049.5) scale(0.95 1)">52.6</text>
<text class="s" transform="translate(1104.5 1161.0) scale(0.95 1)">53.1</text>
<text class="s" transform="translate(1103.7 1271.4) scale(0.95 1)">53.2</text>
</g>
<g id="W2">
<path class="a" d="M1882.7 1387.9V1377.5H2627.4M2018.1 1377.5v10.4M2153.5 1377.5v10.4M2288.9 1377.5v10.4M2424.3 1377.5v10.4M2559.7 1377.5v10.4"/>
<text class="t" transform="translate(1882.2 1433.7) scale(0.965 1)" text-anchor="middle">0</text>
<text class="t" transform="translate(2017.6 1433.7) scale(0.965 1)" text-anchor="middle">2</text>
<text class="t" transform="translate(2153.0 1433.7) scale(0.965 1)" text-anchor="middle">4</text>
<text class="t" transform="translate(2288.4 1433.7) scale(0.965 1)" text-anchor="middle">6</text>
<text class="t" transform="translate(2423.8 1433.7) scale(0.965 1)" text-anchor="middle">8</text>
<text class="t" transform="translate(2561.0 1433.7) scale(0.965 1)" text-anchor="middle">10</text>
<text class="t" transform="translate(2255.0 1485.8) scale(0.985 1)" text-anchor="middle">2<tspan font-style="italic">θ</tspan>/(°)</text>
<text class="s" transform="translate(1896.1 808.7) scale(0.95 1)">W2</text>
<path class="l" d="M2567.9 826.0H2611.1" stroke="#E4007F"/>
<text class="s" transform="translate(2629.4 838.1) scale(0.95 1)">0</text>
<path class="l" d="M2567.9 873.7H2611.1" stroke="#F0942C"/>
<text class="s" transform="translate(2629.4 885.8) scale(0.95 1)">5</text>
<path class="l" d="M2567.9 921.4H2611.1" stroke="#3AAA35"/>
<text class="s" transform="translate(2629.4 933.5) scale(0.95 1)">15</text>
<path class="l" d="M2567.9 969.2H2611.1" stroke="#65298F"/>
<text class="s" transform="translate(2629.4 981.3) scale(0.95 1)">25</text>
<path class="l" d="M2567.9 1016.9H2611.1" stroke="#920783"/>
<text class="s" transform="translate(2629.4 1029.0) scale(0.95 1)">35</text>
<path class="c" d="M1950.7 890.2C1951.9 892.4 1953.2 894.6 1954.4 897.3C1955.7 900.3 1957.0 904.6 1958.2 907.4C1959.5 909.9 1960.8 911.4 1962.0 913.0C1963.7 914.8 1965.4 915.9 1967.1 917.0C1968.7 918.0 1970.4 919.0 1972.1 919.3C1973.8 919.4 1975.5 919.4 1977.2 919.5C1978.3 919.7 1979.3 920.5 1980.4 920.5C1981.0 919.8 1981.6 914.9 1982.2 909.9C1982.7 905.1 1983.2 894.7 1983.7 892.3C1984.1 891.1 1984.6 890.4 1985.0 890.2C1985.4 890.6 1985.8 894.5 1986.2 894.8C1986.7 894.5 1987.3 893.3 1987.8 891.0C1988.3 887.2 1988.9 876.5 1989.5 869.6C1990.1 862.7 1990.7 854.8 1991.3 849.4C1991.9 844.7 1992.5 841.5 1993.1 839.3C1993.7 837.3 1994.4 836.2 1995.1 836.0C1995.7 836.3 1996.4 840.3 1997.1 841.0C1997.8 841.5 1998.4 841.8 1999.1 841.8C1999.7 841.6 2000.3 839.4 2000.9 839.3C2001.5 839.9 2002.2 846.2 2002.9 848.1C2003.6 849.6 2004.2 850.5 2004.9 850.6C2005.5 850.5 2006.1 849.0 2006.7 848.9C2007.4 849.5 2008.0 856.0 2008.7 858.2C2009.5 860.5 2010.4 861.6 2011.2 862.0C2012.5 862.3 2013.7 862.2 2015.0 862.5C2016.3 863.3 2017.5 868.6 2018.8 870.8C2019.8 872.4 2020.8 873.6 2021.8 874.6C2023.2 875.7 2024.5 875.4 2025.9 876.6C2026.9 877.8 2027.9 880.1 2028.9 882.2C2029.9 884.4 2030.9 889.2 2031.9 889.7C2033.3 889.4 2034.6 885.5 2036.0 885.2C2037.4 885.6 2038.8 890.6 2040.2 891.0C2041.5 891.0 2042.8 890.3 2044.0 890.2C2045.7 890.6 2047.4 894.3 2049.1 896.1C2051.2 898.1 2053.3 899.4 2055.4 901.1C2057.3 902.7 2059.2 905.2 2061.2 906.1C2063.5 906.9 2065.7 907.3 2068.0 907.4C2071.1 907.4 2074.2 907.4 2077.3 907.4C2078.7 907.0 2080.0 902.2 2081.4 901.9C2082.8 902.1 2084.2 904.7 2085.7 904.9C2087.3 904.8 2089.0 903.7 2090.7 903.6C2093.2 903.7 2095.8 904.8 2098.3 904.9C2099.4 904.6 2100.5 900.6 2101.6 900.3C2102.7 900.5 2103.9 902.3 2105.1 902.9C2106.2 903.3 2107.3 903.6 2108.4 903.6C2109.8 903.4 2111.2 900.1 2112.7 899.8C2114.2 900.0 2115.7 901.5 2117.2 901.6C2119.3 901.4 2121.4 898.8 2123.5 898.6C2126.5 898.8 2129.4 902.1 2132.3 902.4C2135.0 902.2 2137.7 900.0 2140.4 899.8C2144.0 900.0 2147.6 902.7 2151.3 902.9C2153.1 902.6 2155.0 898.9 2156.8 898.6C2158.8 898.8 2160.7 902.1 2162.6 902.4C2165.1 902.3 2167.7 902.1 2170.2 901.6C2171.6 901.2 2173.0 898.8 2174.5 898.6C2175.7 898.9 2177.0 903.3 2178.3 903.6C2179.8 903.3 2181.3 899.6 2182.8 899.3C2184.5 899.6 2186.2 902.6 2187.9 902.9C2189.1 902.7 2190.4 901.2 2191.6 901.1C2193.7 901.3 2195.8 903.5 2197.9 903.6C2200.6 903.3 2203.3 899.6 2206.0 899.3C2208.0 899.6 2209.9 903.3 2211.8 903.6C2213.5 903.4 2215.2 900.1 2216.9 899.8C2218.1 900.0 2219.4 902.7 2220.7 902.9C2222.3 902.6 2224.0 899.6 2225.7 899.3C2227.4 899.7 2229.1 904.0 2230.7 904.4C2232.9 904.2 2235.0 902.2 2237.1 901.6C2241.7 900.5 2246.3 900.0 2250.9 899.8C2252.2 900.1 2253.5 904.1 2254.7 904.4C2256.0 903.9 2257.2 897.8 2258.5 897.3C2259.8 897.4 2261.0 899.2 2262.3 899.3C2263.4 899.2 2264.5 897.9 2265.6 897.8C2267.4 898.1 2269.3 901.6 2271.1 901.9C2273.2 901.6 2275.3 898.3 2277.4 898.1C2280.4 898.2 2283.3 899.7 2286.3 899.8C2287.9 899.6 2289.6 896.3 2291.3 896.1C2293.0 896.2 2294.7 897.9 2296.4 898.1C2297.2 898.0 2298.0 896.7 2298.9 896.6C2301.0 896.8 2303.1 900.1 2305.2 900.3C2306.9 900.2 2308.5 898.7 2310.2 898.6C2312.3 898.7 2314.4 899.3 2316.5 899.8C2318.9 900.4 2321.3 901.7 2323.6 901.9C2325.6 901.4 2327.6 896.0 2329.7 895.5C2331.2 895.8 2332.7 898.4 2334.2 898.6C2335.6 898.3 2337.1 895.0 2338.5 894.8C2340.0 895.0 2341.5 897.6 2343.0 897.8C2344.7 897.5 2346.4 893.1 2348.1 892.8C2349.8 893.2 2351.4 898.2 2353.1 898.6C2354.8 898.2 2356.5 894.8 2358.2 893.5C2359.4 892.7 2360.7 891.9 2362.0 891.8C2363.6 892.0 2365.3 895.1 2367.0 895.3C2368.7 895.2 2370.4 893.6 2372.1 893.5C2373.3 893.6 2374.6 894.7 2375.8 894.8C2377.5 894.6 2379.2 892.0 2380.9 891.8C2382.4 892.1 2383.9 896.9 2385.4 897.3C2386.7 896.9 2387.9 891.9 2389.2 891.5C2390.6 891.8 2392.1 895.3 2393.5 895.5C2395.6 895.5 2397.7 894.8 2399.8 894.8C2402.3 895.0 2404.9 897.1 2407.4 897.3C2409.1 896.9 2410.7 891.4 2412.4 891.0C2413.9 891.4 2415.5 896.9 2417.0 897.3C2418.6 896.9 2420.3 891.9 2422.0 891.5C2424.3 891.7 2426.6 894.6 2428.8 894.8C2430.9 894.7 2433.0 894.1 2435.1 893.5C2436.4 893.2 2437.7 892.4 2438.9 892.3C2440.6 892.4 2442.3 893.4 2444.0 894.3C2445.6 895.3 2447.3 897.6 2449.0 897.8C2450.7 897.4 2452.4 892.6 2454.1 892.3C2456.6 892.4 2459.1 894.2 2461.6 894.3C2463.7 894.2 2465.8 893.7 2467.9 892.8C2469.2 892.1 2470.5 890.4 2471.7 890.2C2473.0 890.6 2474.2 894.5 2475.5 894.8C2476.8 894.6 2478.0 892.0 2479.3 891.8C2481.4 892.1 2483.5 896.5 2485.6 896.8C2486.9 896.4 2488.1 891.4 2489.4 891.0C2491.1 891.3 2492.8 894.5 2494.4 894.8C2496.1 894.5 2497.8 890.1 2499.5 889.7C2500.7 890.0 2502.0 893.3 2503.3 893.5C2504.9 893.2 2506.6 888.8 2508.3 888.5C2509.8 889.0 2511.3 896.3 2512.9 896.8C2514.7 896.7 2516.6 896.3 2518.4 895.5C2520.3 894.5 2522.1 889.7 2524.0 889.2C2526.1 889.7 2528.3 896.1 2530.5 896.6C2533.2 896.2 2535.9 891.4 2538.6 891.0C2540.3 891.3 2542.0 895.2 2543.6 895.5C2546.2 895.2 2548.7 890.8 2551.2 890.5C2552.2 890.7 2553.2 893.3 2554.2 893.5C2554.9 893.4 2555.6 891.6 2556.3 891.5C2557.3 891.8 2558.4 895.8 2559.5 896.1C2560.1 895.9 2560.7 895.1 2561.3 894.3" stroke="#E4007F"/>
<path class="c" d="M1950.7 1000.8C1951.9 1003.2 1953.2 1005.6 1954.4 1008.3C1955.7 1011.1 1957.0 1014.4 1958.2 1017.2C1959.5 1019.9 1960.8 1022.8 1962.0 1024.7C1963.7 1027.0 1965.4 1027.5 1967.1 1028.5C1968.7 1029.4 1970.4 1029.7 1972.1 1030.3C1974.2 1031.1 1976.3 1032.9 1978.4 1033.1C1979.3 1032.8 1980.1 1031.3 1980.9 1028.5C1981.6 1025.6 1982.3 1017.8 1983.0 1013.4C1983.5 1009.8 1984.1 1005.5 1984.7 1004.1C1985.2 1003.3 1985.7 1002.9 1986.2 1002.8C1986.7 1002.9 1987.3 1004.4 1987.8 1004.6C1988.3 1003.6 1988.9 995.8 1989.5 990.7C1990.2 984.6 1990.9 976.4 1991.5 970.5C1992.2 965.0 1992.9 960.2 1993.6 956.6C1994.4 952.9 1995.2 951.8 1996.1 950.3C1997.1 948.8 1998.1 947.9 1999.1 947.8C2000.0 948.1 2000.8 950.9 2001.6 952.8C2002.7 955.4 2003.8 958.8 2004.9 961.7C2006.0 964.5 2007.1 969.2 2008.2 969.7C2009.6 969.6 2011.1 967.6 2012.5 967.5C2013.1 967.8 2013.7 971.1 2014.2 973.0C2015.1 975.7 2015.9 980.8 2016.8 981.3C2018.0 981.2 2019.3 978.8 2020.6 978.6C2021.7 979.2 2022.7 985.3 2023.8 987.6C2025.1 990.0 2026.4 990.6 2027.6 991.9C2029.3 993.6 2031.0 995.0 2032.7 996.2C2034.8 997.6 2036.9 998.3 2039.0 999.5C2040.7 1000.5 2042.3 1001.5 2044.0 1002.8C2045.7 1004.2 2047.4 1006.3 2049.1 1007.6C2050.8 1008.8 2052.4 1009.4 2054.1 1010.4C2056.2 1011.7 2058.3 1013.7 2060.4 1014.6C2062.5 1015.4 2064.6 1015.8 2066.7 1015.9C2068.8 1015.6 2070.9 1011.2 2073.0 1010.9C2074.7 1011.1 2076.4 1013.6 2078.1 1014.6C2080.6 1016.1 2083.1 1017.5 2085.7 1017.7C2087.9 1017.2 2090.2 1011.3 2092.5 1010.9C2094.6 1011.2 2096.7 1015.6 2098.8 1015.9C2101.1 1015.5 2103.5 1010.7 2105.8 1010.4C2107.5 1010.6 2109.2 1014.4 2110.9 1014.6C2112.6 1014.4 2114.3 1011.8 2115.9 1011.6C2118.0 1011.7 2120.1 1012.8 2122.2 1012.9C2124.1 1012.7 2125.9 1009.8 2127.8 1009.6C2130.2 1010.0 2132.5 1015.5 2134.9 1015.9C2137.8 1015.5 2140.8 1010.0 2143.7 1009.6C2144.5 1009.7 2145.4 1011.3 2146.2 1011.4C2147.9 1011.3 2149.6 1010.2 2151.3 1010.1C2155.0 1010.3 2158.8 1012.7 2162.6 1012.9C2165.6 1012.9 2168.5 1012.9 2171.5 1012.9C2174.8 1012.8 2178.2 1011.5 2181.5 1011.4C2183.6 1011.5 2185.7 1012.8 2187.9 1012.9C2189.7 1012.7 2191.6 1010.5 2193.4 1010.4C2194.9 1010.7 2196.4 1014.8 2197.9 1015.2C2200.0 1015.0 2202.2 1012.9 2204.3 1012.1C2207.2 1011.2 2210.1 1010.5 2213.1 1010.4C2216.0 1010.6 2219.0 1014.4 2221.9 1014.6C2224.9 1014.4 2227.8 1011.8 2230.7 1011.6C2233.3 1011.7 2235.8 1013.3 2238.3 1013.4C2240.4 1013.3 2242.5 1012.4 2244.6 1011.6C2246.7 1010.7 2248.8 1008.6 2250.9 1008.3C2252.2 1008.4 2253.5 1008.6 2254.7 1009.1C2256.2 1009.9 2257.7 1013.6 2259.3 1013.9C2261.1 1013.6 2263.0 1010.4 2264.8 1010.1C2266.5 1010.5 2268.2 1015.1 2269.9 1015.4C2271.3 1015.1 2272.7 1010.5 2274.1 1010.1C2275.7 1010.4 2277.2 1014.3 2278.7 1014.6C2280.8 1014.5 2282.9 1012.9 2285.0 1012.1C2287.5 1011.3 2290.0 1010.2 2292.6 1010.1C2293.7 1010.2 2294.8 1011.5 2295.8 1011.6C2296.7 1011.2 2297.5 1006.2 2298.4 1005.8C2299.4 1006.2 2300.4 1010.5 2301.4 1010.9C2303.9 1010.5 2306.4 1006.2 2309.0 1005.8C2311.1 1006.1 2313.2 1009.8 2315.3 1010.1C2318.2 1010.0 2321.2 1009.2 2324.1 1008.8C2327.5 1008.4 2330.8 1007.7 2334.2 1007.6C2336.3 1007.7 2338.4 1009.0 2340.5 1009.1C2343.5 1008.9 2346.4 1006.5 2349.3 1006.3C2352.7 1006.4 2356.1 1007.5 2359.4 1007.6C2362.8 1007.5 2366.2 1007.1 2369.5 1006.6C2373.7 1005.9 2377.9 1004.0 2382.1 1003.8C2386.4 1003.8 2390.6 1003.9 2394.8 1004.1C2398.1 1004.4 2401.5 1006.9 2404.9 1007.1C2407.8 1007.0 2410.7 1006.6 2413.7 1005.8C2414.9 1005.3 2416.2 1003.0 2417.5 1002.8C2419.6 1003.1 2421.7 1007.3 2423.8 1007.6C2426.3 1007.3 2428.8 1004.1 2431.4 1003.8C2432.6 1003.8 2433.9 1004.0 2435.1 1004.1C2436.2 1003.9 2437.3 1002.2 2438.4 1002.0C2439.8 1002.3 2441.3 1005.2 2442.7 1005.8C2445.2 1006.6 2447.8 1007.0 2450.3 1007.1C2452.4 1006.8 2454.5 1003.5 2456.6 1003.3C2458.3 1003.4 2459.9 1004.5 2461.6 1004.6C2464.6 1004.4 2467.5 1002.9 2470.5 1002.8C2473.0 1002.9 2475.5 1003.3 2478.0 1003.8C2481.0 1004.4 2483.9 1006.2 2486.9 1006.3C2489.0 1006.0 2491.1 1001.1 2493.2 1000.8C2495.7 1001.2 2498.2 1006.7 2500.7 1007.1C2504.1 1006.9 2507.5 1005.4 2510.8 1004.6C2512.5 1004.1 2514.2 1004.1 2515.9 1003.3C2516.6 1002.9 2517.2 1001.4 2517.9 1001.3C2519.1 1001.7 2520.3 1007.9 2521.4 1008.3C2522.9 1007.8 2524.5 1001.3 2526.0 1000.8C2528.1 1001.1 2530.2 1005.5 2532.3 1005.8C2534.0 1005.5 2535.6 1001.6 2537.3 1001.3C2539.4 1001.4 2541.5 1003.2 2543.6 1003.3C2547.0 1003.3 2550.4 1003.3 2553.7 1003.3C2555.2 1003.0 2556.8 999.8 2558.3 999.5C2559.3 999.8 2560.3 1001.5 2561.3 1003.3" stroke="#F0942C"/>
<path class="c" d="M1950.7 1110.2C1951.9 1113.0 1953.2 1115.7 1954.4 1118.6C1955.7 1121.5 1957.0 1124.8 1958.2 1127.4C1959.7 1130.4 1961.3 1133.0 1962.8 1135.0C1964.6 1137.0 1966.5 1137.6 1968.3 1138.8C1970.4 1140.0 1972.5 1141.2 1974.6 1142.0C1976.3 1142.6 1978.0 1143.0 1979.7 1143.1C1980.3 1142.5 1980.9 1139.3 1981.4 1135.0C1982.0 1129.9 1982.6 1118.4 1983.2 1114.8C1983.6 1113.0 1984.1 1112.0 1984.5 1111.8C1984.9 1111.8 1985.3 1112.0 1985.7 1112.3C1986.2 1112.9 1986.6 1117.4 1987.0 1117.8C1987.5 1117.5 1988.0 1116.1 1988.5 1113.5C1989.1 1109.3 1989.7 1097.2 1990.3 1089.6C1990.9 1082.1 1991.5 1073.4 1992.0 1068.1C1992.5 1064.3 1993.1 1062.1 1993.6 1060.5C1994.2 1059.0 1994.9 1058.2 1995.6 1058.0C1996.4 1058.3 1997.3 1060.3 1998.1 1061.8C1998.7 1062.9 1999.3 1065.3 1999.9 1065.6C2000.7 1065.6 2001.5 1065.6 2002.4 1065.6C2003.7 1066.0 2004.9 1069.3 2006.2 1071.9C2007.2 1074.1 2008.2 1079.0 2009.2 1079.5C2010.0 1079.3 2010.9 1077.1 2011.7 1076.9C2012.6 1077.4 2013.4 1082.5 2014.2 1083.3C2015.3 1083.7 2016.4 1083.6 2017.5 1084.0C2018.4 1084.8 2019.2 1088.9 2020.1 1090.8C2021.1 1093.1 2022.2 1094.0 2023.3 1095.9C2024.8 1098.5 2026.2 1102.0 2027.6 1104.7C2029.1 1107.3 2030.5 1111.3 2031.9 1111.8C2033.4 1111.5 2034.9 1109.2 2036.5 1108.5C2037.3 1108.1 2038.1 1107.8 2039.0 1107.7C2039.8 1107.9 2040.7 1110.6 2041.5 1111.0C2042.8 1111.3 2044.0 1111.2 2045.3 1111.5C2046.5 1112.1 2047.8 1115.3 2049.1 1116.8C2050.3 1118.1 2051.6 1119.1 2052.9 1119.8C2054.1 1120.5 2055.4 1120.5 2056.6 1121.1C2058.3 1122.1 2060.0 1124.2 2061.7 1125.4C2064.2 1126.9 2066.7 1127.7 2069.3 1127.9C2072.2 1127.8 2075.1 1126.6 2078.1 1126.1C2081.0 1125.8 2084.0 1125.4 2086.9 1125.4C2089.0 1125.5 2091.1 1126.8 2093.2 1126.9C2094.5 1126.7 2095.8 1124.5 2097.0 1124.4C2098.3 1124.5 2099.5 1125.6 2100.8 1125.6C2102.1 1125.3 2103.3 1121.4 2104.6 1121.1C2105.4 1121.3 2106.3 1123.3 2107.1 1123.6C2109.0 1124.1 2110.8 1124.3 2112.7 1124.4C2114.8 1124.2 2117.0 1122.8 2119.2 1121.9C2121.2 1120.9 2123.3 1118.8 2125.3 1118.6C2127.2 1118.8 2129.1 1121.4 2131.1 1122.4C2133.6 1123.5 2136.1 1124.2 2138.6 1124.4C2140.9 1124.0 2143.2 1119.7 2145.5 1119.3C2146.6 1119.7 2147.6 1124.0 2148.7 1124.4C2150.4 1124.3 2152.1 1123.3 2153.8 1122.9C2156.3 1122.3 2158.8 1122.4 2161.4 1121.9C2163.9 1121.2 2166.4 1119.3 2168.9 1119.1C2170.9 1119.6 2172.8 1125.7 2174.7 1126.1C2177.0 1125.9 2179.3 1123.7 2181.5 1122.9C2184.1 1122.0 2186.6 1121.8 2189.1 1121.1C2191.6 1120.4 2194.2 1118.7 2196.7 1118.6C2198.4 1118.7 2200.0 1119.6 2201.7 1120.3C2204.3 1121.6 2206.8 1124.6 2209.3 1124.9C2210.7 1124.5 2212.2 1119.7 2213.6 1119.3C2214.9 1119.7 2216.3 1125.0 2217.6 1125.4C2218.9 1125.0 2220.2 1119.7 2221.4 1119.3C2222.8 1119.5 2224.3 1122.2 2225.7 1122.4C2227.0 1122.3 2228.2 1121.2 2229.5 1121.1C2231.2 1121.3 2232.9 1124.2 2234.5 1124.4C2237.1 1124.2 2239.6 1122.8 2242.1 1121.1C2243.4 1120.2 2244.6 1118.0 2245.9 1117.8C2247.1 1118.3 2248.4 1124.4 2249.7 1124.9C2251.4 1124.6 2253.0 1122.0 2254.7 1121.1C2256.0 1120.5 2257.2 1119.9 2258.5 1119.8C2260.2 1120.1 2261.9 1123.4 2263.6 1123.6C2265.7 1123.4 2267.8 1120.6 2269.9 1120.3C2272.0 1120.4 2274.1 1121.8 2276.2 1121.9C2278.3 1121.7 2280.4 1119.8 2282.5 1119.3C2285.4 1118.9 2288.4 1118.8 2291.3 1118.6C2293.4 1118.4 2295.5 1118.1 2297.6 1118.1C2298.9 1118.2 2300.1 1120.2 2301.4 1120.3C2302.7 1120.1 2303.9 1116.3 2305.2 1116.1C2306.4 1116.6 2307.7 1123.1 2309.0 1123.6C2310.2 1123.5 2311.5 1121.3 2312.8 1121.1C2314.0 1121.1 2315.3 1121.1 2316.5 1121.1C2319.1 1120.9 2321.6 1118.7 2324.1 1118.1C2326.6 1117.6 2329.2 1117.4 2331.7 1117.3C2334.6 1117.4 2337.6 1118.1 2340.5 1118.6C2342.6 1119.0 2344.7 1119.8 2346.8 1119.8C2350.2 1119.7 2353.5 1119.0 2356.9 1117.8C2358.2 1117.2 2359.4 1115.0 2360.7 1114.8C2363.2 1115.0 2365.7 1117.6 2368.3 1117.8C2371.2 1117.6 2374.2 1115.6 2377.1 1114.8C2379.6 1114.2 2382.1 1114.2 2384.7 1113.5C2385.9 1113.2 2387.2 1112.4 2388.5 1112.3C2390.1 1112.6 2391.8 1117.4 2393.5 1117.8C2395.2 1117.6 2396.9 1114.5 2398.5 1114.3C2400.7 1114.4 2402.8 1115.6 2404.9 1116.1C2407.0 1116.4 2409.1 1116.8 2411.2 1116.8C2413.3 1116.6 2415.4 1114.9 2417.5 1114.3C2419.2 1113.9 2420.8 1113.6 2422.5 1113.5C2424.6 1113.7 2426.7 1115.9 2428.8 1116.1C2429.9 1115.8 2431.0 1112.0 2432.1 1111.8C2433.1 1112.0 2434.1 1115.5 2435.1 1116.1C2436.8 1116.5 2438.5 1116.8 2440.2 1116.8C2441.2 1116.7 2442.2 1115.4 2443.2 1115.3C2444.7 1115.5 2446.2 1117.9 2447.8 1118.1C2449.9 1117.9 2452.0 1116.2 2454.1 1116.1C2455.3 1116.2 2456.6 1117.7 2457.8 1117.8C2459.1 1117.5 2460.4 1113.1 2461.6 1112.8C2463.1 1113.0 2464.5 1115.8 2465.9 1116.1C2468.3 1115.9 2470.6 1114.6 2473.0 1114.3C2477.2 1113.8 2481.4 1114.0 2485.6 1113.5C2487.3 1113.1 2489.0 1109.5 2490.6 1109.2C2492.3 1109.3 2494.0 1109.6 2495.7 1110.2C2497.4 1111.2 2499.1 1115.7 2500.7 1116.1C2503.1 1115.8 2505.5 1111.8 2507.8 1111.5C2508.8 1111.7 2509.8 1114.6 2510.8 1114.8C2513.4 1114.6 2515.9 1112.7 2518.4 1111.8C2520.1 1111.2 2521.8 1110.4 2523.5 1110.2C2524.7 1110.6 2526.0 1114.5 2527.2 1114.8C2528.3 1114.5 2529.4 1110.8 2530.5 1110.5C2531.7 1111.0 2532.9 1118.0 2534.0 1118.6C2535.6 1118.4 2537.1 1116.5 2538.6 1115.3C2540.4 1113.8 2542.3 1110.6 2544.1 1110.2C2545.7 1110.5 2547.2 1114.0 2548.7 1114.3C2549.5 1114.2 2550.4 1112.9 2551.2 1112.8C2552.2 1113.0 2553.2 1116.5 2554.2 1116.8C2556.6 1116.6 2558.9 1115.1 2561.3 1113.5" stroke="#3AAA35"/>
<path class="c" d="M1950.7 1222.8C1951.9 1225.2 1953.2 1227.7 1954.4 1230.1C1955.7 1232.5 1957.0 1235.0 1958.2 1237.2C1959.7 1239.7 1961.3 1241.9 1962.8 1244.0C1964.6 1246.4 1966.5 1249.2 1968.3 1250.3C1970.4 1251.2 1972.5 1251.2 1974.6 1251.8C1976.6 1252.5 1978.5 1253.9 1980.4 1254.1C1981.0 1253.5 1981.6 1250.5 1982.2 1246.0C1982.8 1240.6 1983.4 1227.3 1984.0 1224.6C1984.4 1223.5 1984.8 1222.9 1985.2 1222.8C1985.7 1223.0 1986.1 1226.1 1986.5 1226.3C1986.9 1226.0 1987.3 1224.4 1987.8 1222.0C1988.4 1217.3 1989.1 1207.6 1989.8 1200.6C1990.4 1193.7 1991.1 1185.5 1991.8 1180.4C1992.4 1176.6 1993.0 1174.5 1993.6 1172.8C1994.2 1171.3 1994.9 1170.5 1995.6 1170.3C1996.4 1170.3 1997.3 1170.8 1998.1 1170.8C1998.8 1170.7 1999.4 1169.6 2000.1 1169.5C2000.8 1170.5 2001.5 1181.7 2002.1 1184.2C2002.9 1186.2 2003.7 1187.2 2004.4 1187.5C2005.2 1187.2 2005.9 1184.4 2006.7 1184.2C2007.8 1184.6 2008.9 1188.3 2010.0 1190.5C2010.8 1192.3 2011.6 1195.7 2012.5 1196.0C2013.2 1195.9 2013.8 1194.4 2014.5 1194.3C2015.5 1194.9 2016.5 1202.5 2017.5 1203.1C2018.6 1203.0 2019.7 1201.5 2020.8 1201.3C2022.0 1201.8 2023.2 1206.0 2024.3 1208.2C2025.9 1210.9 2027.4 1213.6 2028.9 1215.7C2030.6 1217.9 2032.2 1219.3 2033.9 1220.8C2035.4 1222.0 2037.0 1223.8 2038.5 1224.1C2039.7 1223.8 2040.8 1220.5 2042.0 1220.3C2043.1 1220.5 2044.2 1222.0 2045.3 1223.3C2046.4 1224.7 2047.5 1227.3 2048.6 1228.3C2050.0 1229.4 2051.4 1229.3 2052.9 1230.1C2054.5 1231.1 2056.2 1232.7 2057.9 1233.9C2059.6 1235.1 2061.3 1236.7 2062.9 1237.2C2065.5 1237.6 2068.0 1237.9 2070.5 1237.9C2073.0 1237.9 2075.6 1237.6 2078.1 1237.2C2080.2 1236.7 2082.3 1235.5 2084.4 1235.4C2085.7 1235.5 2086.9 1236.3 2088.2 1236.4C2089.4 1236.1 2090.7 1232.4 2092.0 1232.1C2093.5 1232.5 2095.0 1237.5 2096.5 1237.9C2098.5 1237.8 2100.5 1236.7 2102.6 1235.9C2104.9 1235.0 2107.3 1233.9 2109.6 1232.9C2112.0 1231.9 2114.3 1230.3 2116.7 1230.1C2117.9 1230.5 2119.1 1235.1 2120.2 1235.4C2121.3 1235.2 2122.4 1232.0 2123.5 1231.6C2126.5 1231.2 2129.4 1230.9 2132.3 1230.9C2134.7 1231.2 2137.1 1235.6 2139.4 1235.9C2141.1 1235.4 2142.8 1228.4 2144.5 1227.8C2146.1 1228.3 2147.8 1234.9 2149.5 1235.4C2150.9 1235.2 2152.4 1231.9 2153.8 1231.6C2156.3 1231.7 2158.8 1232.1 2161.4 1232.1C2163.3 1232.0 2165.2 1229.8 2167.2 1229.6C2168.6 1229.8 2170.0 1232.7 2171.5 1232.9C2172.7 1232.8 2174.0 1231.5 2175.2 1231.4C2177.8 1231.6 2180.3 1234.0 2182.8 1234.1C2184.7 1233.9 2186.5 1231.1 2188.4 1230.9C2191.1 1231.1 2193.9 1233.7 2196.7 1233.9C2199.6 1233.8 2202.6 1233.1 2205.5 1232.6C2208.5 1232.1 2211.4 1231.0 2214.3 1230.9C2217.3 1231.1 2220.2 1233.7 2223.2 1233.9C2226.1 1233.7 2229.1 1231.5 2232.0 1231.4C2235.8 1231.5 2239.6 1232.8 2243.4 1232.9C2247.6 1232.8 2251.8 1232.4 2256.0 1231.6C2258.5 1231.1 2261.0 1229.7 2263.6 1229.6C2264.8 1229.7 2266.1 1231.5 2267.3 1231.6C2269.0 1231.4 2270.7 1228.1 2272.4 1227.8C2273.6 1227.9 2274.9 1228.0 2276.2 1228.3C2277.4 1229.0 2278.7 1234.2 2280.0 1234.6C2281.6 1234.5 2283.3 1233.7 2285.0 1232.9C2287.1 1231.6 2289.2 1228.2 2291.3 1227.8C2292.6 1228.0 2293.8 1229.5 2295.1 1229.6C2296.4 1229.4 2297.6 1227.2 2298.9 1227.1C2301.0 1227.5 2303.1 1232.5 2305.2 1232.9C2306.9 1232.5 2308.5 1227.0 2310.2 1226.6C2311.9 1227.0 2313.6 1232.9 2315.3 1233.4C2317.8 1232.9 2320.3 1227.0 2322.8 1226.6C2324.1 1226.9 2325.4 1230.6 2326.6 1230.9C2327.9 1230.5 2329.2 1226.2 2330.4 1225.8C2332.1 1226.0 2333.8 1228.8 2335.5 1229.1C2339.2 1229.4 2343.0 1229.6 2346.8 1229.6C2350.2 1229.3 2353.5 1224.9 2356.9 1224.6C2358.2 1224.9 2359.4 1228.8 2360.7 1229.1C2363.2 1228.9 2365.7 1226.0 2368.3 1225.8C2370.4 1225.9 2372.5 1226.5 2374.6 1226.6C2376.3 1226.4 2377.9 1224.0 2379.6 1223.8C2380.9 1223.9 2382.1 1225.2 2383.4 1225.3C2384.7 1225.1 2385.9 1223.0 2387.2 1222.8C2388.0 1223.0 2388.9 1226.1 2389.7 1226.3C2390.7 1226.0 2391.7 1222.3 2392.7 1222.0C2394.1 1222.4 2395.4 1226.7 2396.8 1227.1C2397.8 1226.8 2398.8 1223.5 2399.8 1223.3C2401.1 1223.7 2402.3 1229.2 2403.6 1229.6C2404.9 1229.2 2406.1 1224.4 2407.4 1224.1C2410.3 1224.2 2413.3 1226.4 2416.2 1226.6C2418.3 1226.4 2420.4 1224.1 2422.5 1223.8C2426.7 1223.5 2430.9 1223.6 2435.1 1223.3C2436.2 1223.0 2437.3 1219.8 2438.4 1219.5C2439.8 1219.8 2441.3 1223.3 2442.7 1224.1C2444.4 1224.7 2446.1 1225.0 2447.8 1225.1C2449.9 1224.9 2452.0 1223.8 2454.1 1223.3C2456.3 1222.8 2458.6 1222.1 2460.9 1222.0C2462.4 1222.3 2463.9 1226.3 2465.4 1226.6C2467.1 1226.3 2468.8 1223.0 2470.5 1222.8C2471.7 1223.0 2473.0 1225.1 2474.2 1225.3C2475.9 1225.1 2477.6 1222.3 2479.3 1222.0C2481.4 1222.5 2483.5 1228.4 2485.6 1228.8C2487.7 1228.6 2489.8 1225.6 2491.9 1224.6C2494.4 1223.5 2497.0 1223.2 2499.5 1222.8C2502.4 1222.3 2505.4 1222.1 2508.3 1222.0C2510.4 1222.3 2512.5 1225.1 2514.6 1225.3C2515.9 1225.0 2517.1 1221.5 2518.4 1221.3C2520.1 1221.4 2521.8 1222.7 2523.5 1223.3C2525.1 1223.9 2526.8 1224.9 2528.5 1225.1C2530.2 1224.7 2531.9 1219.9 2533.5 1219.5C2535.2 1219.6 2536.9 1220.0 2538.6 1220.8C2539.4 1221.4 2540.3 1224.3 2541.1 1224.6C2542.4 1224.4 2543.6 1222.7 2544.9 1222.5C2546.6 1222.8 2548.3 1226.8 2549.9 1227.1C2551.2 1226.7 2552.5 1222.4 2553.7 1222.0C2555.0 1222.5 2556.3 1226.8 2557.5 1228.3C2558.5 1229.3 2559.5 1229.7 2560.5 1230.1" stroke="#65298F"/>
<path class="c" d="M1950.7 1332.4C1951.9 1334.6 1953.2 1336.9 1954.4 1339.4C1955.7 1342.1 1957.0 1345.4 1958.2 1348.0C1959.5 1350.5 1960.8 1352.7 1962.0 1354.6C1963.7 1356.8 1965.4 1358.3 1967.1 1359.6C1968.7 1360.8 1970.4 1361.6 1972.1 1362.1C1973.4 1362.4 1974.6 1362.3 1975.9 1362.6C1977.0 1363.0 1978.1 1364.3 1979.2 1364.4C1979.8 1364.0 1980.5 1361.4 1981.2 1357.6C1981.8 1353.7 1982.4 1346.4 1983.0 1342.5C1983.5 1339.5 1984.0 1337.2 1984.5 1336.1C1985.0 1335.4 1985.5 1335.0 1986.0 1334.9C1986.5 1335.1 1987.0 1337.7 1987.5 1337.9C1988.0 1337.2 1988.5 1331.9 1989.0 1327.3C1989.6 1321.2 1990.2 1311.7 1990.8 1304.6C1991.4 1297.8 1992.0 1289.1 1992.5 1285.7C1993.4 1282.2 1994.2 1280.3 1995.1 1279.9C1996.1 1280.2 1997.1 1283.3 1998.1 1284.4C1999.3 1285.6 2000.5 1285.2 2001.6 1286.4C2002.5 1287.7 2003.3 1291.0 2004.2 1293.3C2004.8 1295.1 2005.5 1298.4 2006.2 1298.8C2007.0 1298.7 2007.9 1297.9 2008.7 1297.8C2010.0 1298.2 2011.2 1301.5 2012.5 1303.3C2013.6 1305.0 2014.7 1306.8 2015.8 1308.4C2016.8 1309.9 2017.8 1312.4 2018.8 1312.7C2020.1 1312.4 2021.3 1308.7 2022.6 1308.4C2023.7 1308.6 2024.8 1309.9 2025.9 1312.2C2026.7 1314.5 2027.5 1320.6 2028.4 1323.5C2029.0 1325.4 2029.6 1327.2 2030.1 1327.8C2032.2 1329.3 2034.4 1329.6 2036.5 1330.3C2039.0 1331.3 2041.5 1331.6 2044.0 1332.9C2045.9 1334.0 2047.7 1335.1 2049.6 1336.9C2051.1 1338.6 2052.6 1341.2 2054.1 1343.0C2055.8 1344.7 2057.5 1346.5 2059.2 1347.0C2061.7 1347.3 2064.2 1347.3 2066.7 1347.5C2069.3 1347.7 2071.8 1348.2 2074.3 1348.3C2077.7 1348.2 2081.0 1347.7 2084.4 1347.0C2087.1 1346.3 2089.8 1344.6 2092.5 1344.5C2094.8 1344.6 2097.2 1346.6 2099.5 1346.7C2101.1 1346.3 2102.6 1340.9 2104.1 1340.4C2105.7 1340.8 2107.3 1345.1 2108.9 1345.5C2110.4 1345.2 2111.9 1342.2 2113.4 1342.0C2114.7 1342.0 2115.9 1342.2 2117.2 1342.5C2118.5 1342.9 2119.7 1345.5 2121.0 1345.7C2123.1 1345.5 2125.2 1343.0 2127.3 1342.5C2129.0 1342.2 2130.7 1342.3 2132.3 1342.0C2133.4 1341.6 2134.5 1339.4 2135.6 1339.2C2136.9 1339.6 2138.1 1344.6 2139.4 1345.0C2140.6 1344.8 2141.8 1342.2 2142.9 1342.0C2145.7 1342.1 2148.5 1344.3 2151.3 1344.5C2154.2 1344.3 2157.2 1342.6 2160.1 1342.5C2163.0 1342.5 2166.0 1343.6 2168.9 1343.7C2170.6 1343.4 2172.3 1339.7 2174.0 1339.4C2175.2 1339.9 2176.5 1345.8 2177.8 1346.2C2179.4 1346.0 2181.1 1342.3 2182.8 1342.0C2186.2 1341.8 2189.5 1341.7 2192.9 1341.7C2195.4 1341.9 2197.9 1344.3 2200.5 1344.5C2203.0 1344.2 2205.5 1340.9 2208.0 1340.7C2210.1 1340.8 2212.2 1342.3 2214.3 1342.5C2216.0 1342.4 2217.7 1341.7 2219.4 1341.7C2222.8 1341.9 2226.1 1344.1 2229.5 1344.2C2232.4 1344.0 2235.4 1340.9 2238.3 1340.7C2240.8 1340.8 2243.4 1342.3 2245.9 1342.5C2251.4 1342.3 2256.8 1340.6 2262.3 1340.4C2264.6 1340.7 2266.8 1344.0 2269.1 1344.2C2270.6 1343.9 2272.1 1339.7 2273.6 1339.4C2275.3 1339.6 2277.0 1342.3 2278.7 1342.5C2280.4 1342.3 2282.1 1340.8 2283.7 1340.4C2286.3 1340.1 2288.8 1340.2 2291.3 1339.9C2293.8 1339.5 2296.4 1337.6 2298.9 1337.4C2301.4 1337.4 2303.9 1337.6 2306.4 1337.9C2308.1 1338.2 2309.8 1339.3 2311.5 1339.4C2313.6 1339.2 2315.7 1336.6 2317.8 1335.6C2319.5 1335.0 2321.2 1334.5 2322.8 1334.4C2324.5 1334.7 2326.2 1337.8 2327.9 1338.7C2330.0 1339.4 2332.1 1339.8 2334.2 1339.9C2335.7 1339.9 2337.2 1339.9 2338.7 1339.9C2339.8 1339.6 2340.8 1335.7 2341.8 1335.4C2343.3 1335.7 2344.8 1340.3 2346.3 1340.7C2347.7 1340.5 2349.2 1337.6 2350.6 1337.4C2353.5 1337.4 2356.5 1337.4 2359.4 1337.4C2362.4 1337.2 2365.3 1335.1 2368.3 1334.9C2372.1 1334.9 2375.8 1334.9 2379.6 1334.9C2381.7 1334.8 2383.8 1333.0 2385.9 1332.9C2388.0 1333.0 2390.1 1334.1 2392.2 1334.9C2394.6 1335.8 2396.9 1337.7 2399.3 1337.9C2401.2 1337.8 2403.0 1335.8 2404.9 1335.6C2407.8 1335.6 2410.7 1335.6 2413.7 1335.6C2416.6 1335.5 2419.6 1333.3 2422.5 1333.1C2424.2 1333.3 2425.9 1335.2 2427.6 1335.4C2429.1 1335.2 2430.6 1333.3 2432.1 1333.1C2433.1 1333.2 2434.1 1334.3 2435.1 1334.4C2437.0 1334.1 2438.8 1330.6 2440.7 1330.3C2441.8 1330.4 2442.9 1330.8 2444.0 1331.6C2445.2 1332.7 2446.5 1336.6 2447.8 1336.9C2449.2 1336.3 2450.6 1329.1 2452.0 1328.6C2453.1 1329.2 2454.2 1336.8 2455.3 1337.4C2456.6 1337.2 2457.8 1333.9 2459.1 1333.6C2459.9 1333.8 2460.8 1335.5 2461.6 1335.6C2463.3 1335.3 2465.0 1330.9 2466.7 1330.6C2468.6 1331.0 2470.5 1336.5 2472.5 1336.9C2474.2 1336.5 2475.8 1331.5 2477.5 1331.1C2478.5 1331.3 2479.5 1333.5 2480.6 1333.6C2481.8 1333.5 2483.1 1331.7 2484.3 1331.6C2486.9 1331.8 2489.4 1334.2 2491.9 1334.9C2494.0 1335.3 2496.1 1335.6 2498.2 1335.6C2500.7 1335.5 2503.3 1333.4 2505.8 1333.1C2508.7 1333.0 2511.7 1332.9 2514.6 1332.9C2516.7 1333.0 2518.8 1334.3 2520.9 1334.9C2523.9 1335.5 2526.8 1336.1 2529.8 1336.1C2531.2 1335.7 2532.6 1330.3 2534.0 1329.8C2535.3 1330.2 2536.6 1334.5 2537.8 1334.9C2538.9 1334.8 2540.0 1333.2 2541.1 1333.1C2542.4 1333.4 2543.6 1336.4 2544.9 1336.7C2546.6 1336.3 2548.3 1331.9 2549.9 1331.6C2550.8 1331.7 2551.6 1331.9 2552.5 1332.4C2553.7 1333.4 2555.0 1337.8 2556.3 1338.2C2557.9 1337.9 2559.6 1336.1 2561.3 1334.4" stroke="#920783"/>
<text class="s" transform="translate(2027.7 833.3) scale(0.95 1)">53.6</text>
<text class="s" transform="translate(2026.5 938.0) scale(0.95 1)">52.8</text>
<text class="s" transform="translate(2027.7 1054.4) scale(0.95 1)">53.6</text>
<text class="s" transform="translate(2027.7 1165.3) scale(0.95 1)">53.6</text>
<text class="s" transform="translate(2028.5 1275.8) scale(0.95 1)">53.2</text>
</g>
</svg></body></html>
